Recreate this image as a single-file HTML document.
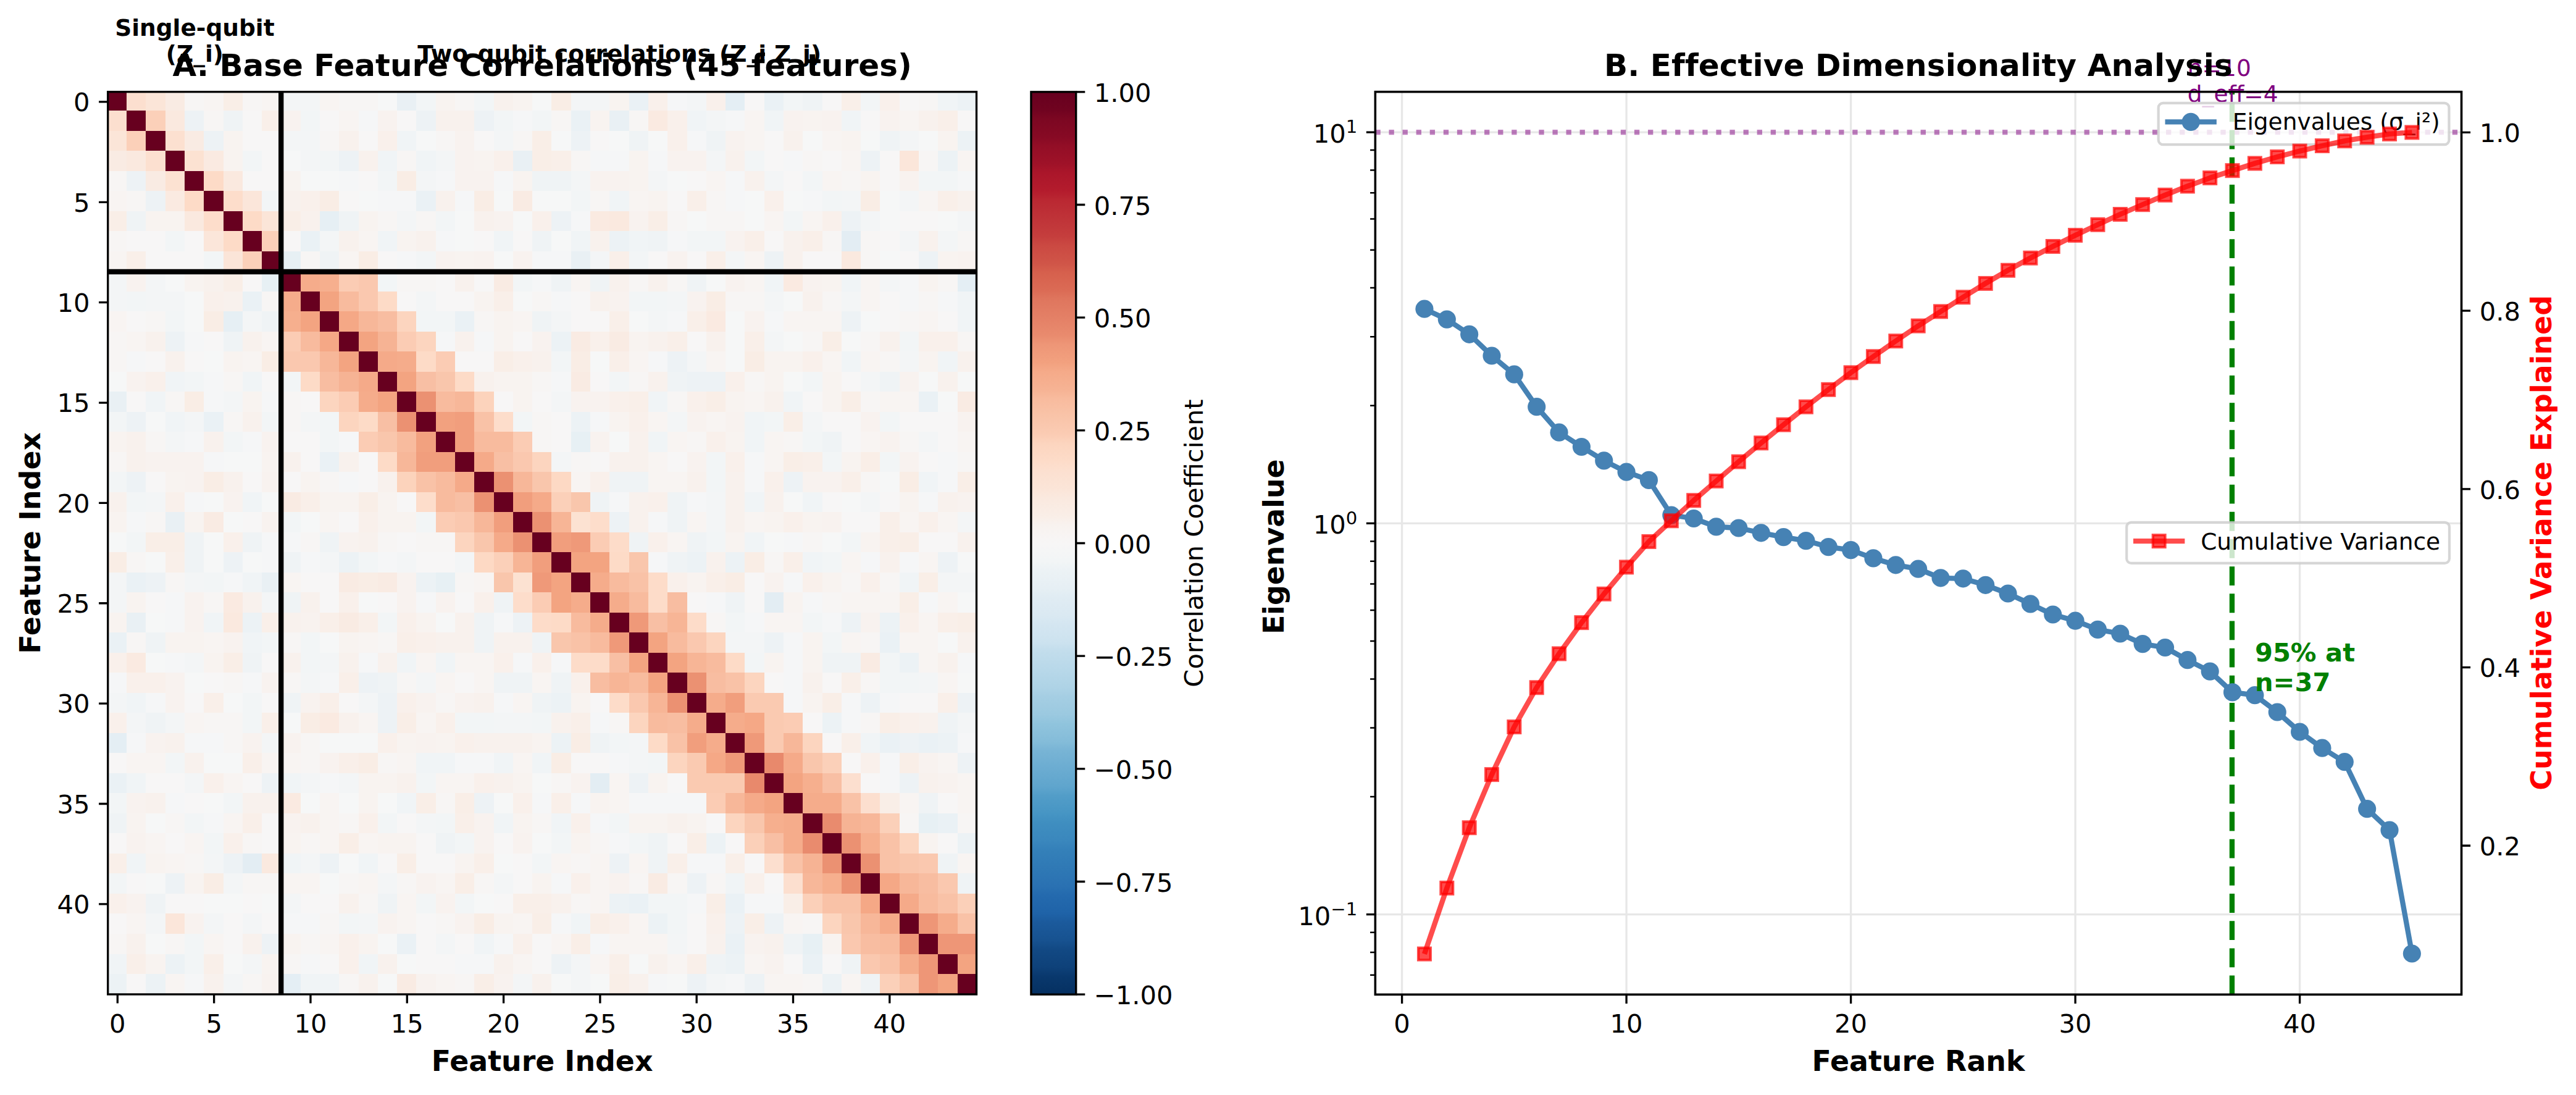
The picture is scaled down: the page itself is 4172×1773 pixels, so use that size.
<!DOCTYPE html>
<html><head><meta charset="utf-8"><title>Feature correlation analysis</title>
<style>html,body{margin:0;padding:0;background:#fff}svg{display:block}</style></head>
<body>
<svg width="4172" height="1773" viewBox="0 0 4172 1773" font-family='"DejaVu Sans", "Liberation Sans", sans-serif'>
<rect width="4172" height="1773" fill="#fff"/>
<clipPath id="hc"><rect x="174.7" y="148.7" width="1406.8" height="1461.3"/></clipPath>
<g shape-rendering="crispEdges" clip-path="url(#hc)">
<rect x="173.9" y="146.9" width="31.89" height="33.1" fill="#67001f"/>
<rect x="205.19" y="146.9" width="31.89" height="33.1" fill="#fcdfcf"/>
<rect x="236.47" y="146.9" width="31.89" height="33.1" fill="#fbe5d8"/>
<rect x="267.76" y="146.9" width="31.89" height="33.1" fill="#f9ebe3"/>
<rect x="299.05" y="146.9" width="31.89" height="33.1" fill="#f7f5f4"/>
<rect x="330.33" y="146.9" width="31.89" height="33.1" fill="#f8f4f2"/>
<rect x="361.62" y="146.9" width="31.89" height="33.1" fill="#f9eee7"/>
<rect x="392.91" y="146.9" width="31.89" height="33.1" fill="#f7f5f4"/>
<rect x="424.19" y="146.9" width="31.89" height="33.1" fill="#f8f4f2"/>
<rect x="455.48" y="146.9" width="63.17" height="33.1" fill="#f3f5f6"/>
<rect x="518.05" y="146.9" width="31.89" height="33.1" fill="#f8f4f2"/>
<rect x="549.34" y="146.9" width="63.17" height="33.1" fill="#f7f5f4"/>
<rect x="611.91" y="146.9" width="31.89" height="33.1" fill="#f6f7f7"/>
<rect x="643.2" y="146.9" width="31.89" height="33.1" fill="#e9f0f4"/>
<rect x="674.49" y="146.9" width="31.89" height="33.1" fill="#f2f5f6"/>
<rect x="705.77" y="146.9" width="31.89" height="33.1" fill="#f8f3f0"/>
<rect x="737.06" y="146.9" width="31.89" height="33.1" fill="#f7f5f4"/>
<rect x="768.35" y="146.9" width="31.89" height="33.1" fill="#f2f5f6"/>
<rect x="799.63" y="146.9" width="31.89" height="33.1" fill="#f8f1ed"/>
<rect x="830.92" y="146.9" width="31.89" height="33.1" fill="#f8f3f0"/>
<rect x="862.21" y="146.9" width="31.89" height="33.1" fill="#f6f7f7"/>
<rect x="893.49" y="146.9" width="31.89" height="33.1" fill="#f9ede5"/>
<rect x="924.78" y="146.9" width="63.17" height="33.1" fill="#f3f5f6"/>
<rect x="987.35" y="146.9" width="31.89" height="33.1" fill="#f8f3f0"/>
<rect x="1018.64" y="146.9" width="31.89" height="33.1" fill="#eaf1f5"/>
<rect x="1049.93" y="146.9" width="31.89" height="33.1" fill="#f9f0eb"/>
<rect x="1081.21" y="146.9" width="31.89" height="33.1" fill="#f5f6f7"/>
<rect x="1112.5" y="146.9" width="31.89" height="33.1" fill="#f3f5f6"/>
<rect x="1143.79" y="146.9" width="31.89" height="33.1" fill="#f9f0eb"/>
<rect x="1175.07" y="146.9" width="31.89" height="33.1" fill="#e4eef4"/>
<rect x="1206.36" y="146.9" width="31.89" height="33.1" fill="#f7f6f6"/>
<rect x="1237.65" y="146.9" width="31.89" height="33.1" fill="#eaf1f5"/>
<rect x="1268.93" y="146.9" width="31.89" height="33.1" fill="#f2f5f6"/>
<rect x="1300.22" y="146.9" width="31.89" height="33.1" fill="#eff3f5"/>
<rect x="1331.51" y="146.9" width="31.89" height="33.1" fill="#f7f6f6"/>
<rect x="1362.79" y="146.9" width="31.89" height="33.1" fill="#f9efe9"/>
<rect x="1394.08" y="146.9" width="31.89" height="33.1" fill="#f2f5f6"/>
<rect x="1425.37" y="146.9" width="31.89" height="33.1" fill="#f9f0eb"/>
<rect x="1456.65" y="146.9" width="31.89" height="33.1" fill="#f7f6f6"/>
<rect x="1487.94" y="146.9" width="31.89" height="33.1" fill="#f7f5f4"/>
<rect x="1519.23" y="146.9" width="31.89" height="33.1" fill="#f0f4f6"/>
<rect x="1550.51" y="146.9" width="31.89" height="33.1" fill="#ecf2f5"/>
<rect x="173.9" y="179.4" width="31.89" height="33.1" fill="#fcdfcf"/>
<rect x="205.19" y="179.4" width="31.89" height="33.1" fill="#67001f"/>
<rect x="236.47" y="179.4" width="31.89" height="33.1" fill="#fbd0b9"/>
<rect x="267.76" y="179.4" width="31.89" height="33.1" fill="#fae9df"/>
<rect x="299.05" y="179.4" width="31.89" height="33.1" fill="#edf2f5"/>
<rect x="330.33" y="179.4" width="31.89" height="33.1" fill="#f7f5f4"/>
<rect x="361.62" y="179.4" width="31.89" height="33.1" fill="#eff3f5"/>
<rect x="392.91" y="179.4" width="31.89" height="33.1" fill="#f7f6f6"/>
<rect x="424.19" y="179.4" width="31.89" height="33.1" fill="#f9efe9"/>
<rect x="455.48" y="179.4" width="31.89" height="33.1" fill="#f8f2ef"/>
<rect x="486.77" y="179.4" width="31.89" height="33.1" fill="#f2f5f6"/>
<rect x="518.05" y="179.4" width="31.89" height="33.1" fill="#f7f6f6"/>
<rect x="549.34" y="179.4" width="31.89" height="33.1" fill="#f8f4f2"/>
<rect x="580.63" y="179.4" width="31.89" height="33.1" fill="#f5f6f7"/>
<rect x="611.91" y="179.4" width="31.89" height="33.1" fill="#f8f2ef"/>
<rect x="643.2" y="179.4" width="31.89" height="33.1" fill="#f7f6f6"/>
<rect x="674.49" y="179.4" width="31.89" height="33.1" fill="#edf2f5"/>
<rect x="705.77" y="179.4" width="63.17" height="33.1" fill="#f8f1ed"/>
<rect x="768.35" y="179.4" width="31.89" height="33.1" fill="#edf2f5"/>
<rect x="799.63" y="179.4" width="31.89" height="33.1" fill="#f2f5f6"/>
<rect x="830.92" y="179.4" width="31.89" height="33.1" fill="#f5f6f7"/>
<rect x="862.21" y="179.4" width="31.89" height="33.1" fill="#f2f5f6"/>
<rect x="893.49" y="179.4" width="31.89" height="33.1" fill="#f7f5f4"/>
<rect x="924.78" y="179.4" width="31.89" height="33.1" fill="#eaf1f5"/>
<rect x="956.07" y="179.4" width="31.89" height="33.1" fill="#f8f3f0"/>
<rect x="987.35" y="179.4" width="31.89" height="33.1" fill="#e9f0f4"/>
<rect x="1018.64" y="179.4" width="31.89" height="33.1" fill="#f7f5f4"/>
<rect x="1049.93" y="179.4" width="31.89" height="33.1" fill="#faeae1"/>
<rect x="1081.21" y="179.4" width="31.89" height="33.1" fill="#f9f0eb"/>
<rect x="1112.5" y="179.4" width="31.89" height="33.1" fill="#f0f4f6"/>
<rect x="1143.79" y="179.4" width="31.89" height="33.1" fill="#f3f5f6"/>
<rect x="1175.07" y="179.4" width="31.89" height="33.1" fill="#f5f6f7"/>
<rect x="1206.36" y="179.4" width="31.89" height="33.1" fill="#f8f4f2"/>
<rect x="1237.65" y="179.4" width="31.89" height="33.1" fill="#f0f4f6"/>
<rect x="1268.93" y="179.4" width="31.89" height="33.1" fill="#f8f2ef"/>
<rect x="1300.22" y="179.4" width="31.89" height="33.1" fill="#f8f3f0"/>
<rect x="1331.51" y="179.4" width="31.89" height="33.1" fill="#f8f2ef"/>
<rect x="1362.79" y="179.4" width="31.89" height="33.1" fill="#f0f4f6"/>
<rect x="1394.08" y="179.4" width="31.89" height="33.1" fill="#f7f6f6"/>
<rect x="1425.37" y="179.4" width="31.89" height="33.1" fill="#f8f2ef"/>
<rect x="1456.65" y="179.4" width="31.89" height="33.1" fill="#f8f4f2"/>
<rect x="1487.94" y="179.4" width="31.89" height="33.1" fill="#f8f1ed"/>
<rect x="1519.23" y="179.4" width="31.89" height="33.1" fill="#f9efe9"/>
<rect x="1550.51" y="179.4" width="31.89" height="33.1" fill="#f7f6f6"/>
<rect x="173.9" y="211.9" width="31.89" height="33.1" fill="#fbe5d8"/>
<rect x="205.19" y="211.9" width="31.89" height="33.1" fill="#fbd0b9"/>
<rect x="236.47" y="211.9" width="31.89" height="33.1" fill="#67001f"/>
<rect x="267.76" y="211.9" width="31.89" height="33.1" fill="#fce0d0"/>
<rect x="299.05" y="211.9" width="31.89" height="33.1" fill="#f9ebe3"/>
<rect x="330.33" y="211.9" width="31.89" height="33.1" fill="#edf2f5"/>
<rect x="361.62" y="211.9" width="31.89" height="33.1" fill="#f8f3f0"/>
<rect x="392.91" y="211.9" width="63.17" height="33.1" fill="#f7f6f6"/>
<rect x="455.48" y="211.9" width="63.17" height="33.1" fill="#f3f5f6"/>
<rect x="518.05" y="211.9" width="31.89" height="33.1" fill="#f7f5f4"/>
<rect x="549.34" y="211.9" width="31.89" height="33.1" fill="#f8f1ed"/>
<rect x="580.63" y="211.9" width="31.89" height="33.1" fill="#f7f6f6"/>
<rect x="611.91" y="211.9" width="31.89" height="33.1" fill="#f9f0eb"/>
<rect x="643.2" y="211.9" width="31.89" height="33.1" fill="#f0f4f6"/>
<rect x="674.49" y="211.9" width="31.89" height="33.1" fill="#f6f7f7"/>
<rect x="705.77" y="211.9" width="31.89" height="33.1" fill="#f7f5f4"/>
<rect x="737.06" y="211.9" width="31.89" height="33.1" fill="#f8f2ef"/>
<rect x="768.35" y="211.9" width="31.89" height="33.1" fill="#f7f6f6"/>
<rect x="799.63" y="211.9" width="31.89" height="33.1" fill="#f3f5f6"/>
<rect x="830.92" y="211.9" width="31.89" height="33.1" fill="#f7f5f4"/>
<rect x="862.21" y="211.9" width="31.89" height="33.1" fill="#f9eee7"/>
<rect x="893.49" y="211.9" width="31.89" height="33.1" fill="#f6f7f7"/>
<rect x="924.78" y="211.9" width="31.89" height="33.1" fill="#edf2f5"/>
<rect x="956.07" y="211.9" width="31.89" height="33.1" fill="#f7f6f6"/>
<rect x="987.35" y="211.9" width="31.89" height="33.1" fill="#f6f7f7"/>
<rect x="1018.64" y="211.9" width="31.89" height="33.1" fill="#eff3f5"/>
<rect x="1049.93" y="211.9" width="31.89" height="33.1" fill="#f6f7f7"/>
<rect x="1081.21" y="211.9" width="31.89" height="33.1" fill="#f9f0eb"/>
<rect x="1112.5" y="211.9" width="31.89" height="33.1" fill="#f5f6f7"/>
<rect x="1143.79" y="211.9" width="31.89" height="33.1" fill="#eff3f5"/>
<rect x="1175.07" y="211.9" width="31.89" height="33.1" fill="#f8f2ef"/>
<rect x="1206.36" y="211.9" width="31.89" height="33.1" fill="#f8f4f2"/>
<rect x="1237.65" y="211.9" width="31.89" height="33.1" fill="#f7f6f6"/>
<rect x="1268.93" y="211.9" width="31.89" height="33.1" fill="#f8f1ed"/>
<rect x="1300.22" y="211.9" width="31.89" height="33.1" fill="#f6f7f7"/>
<rect x="1331.51" y="211.9" width="31.89" height="33.1" fill="#f8f4f2"/>
<rect x="1362.79" y="211.9" width="31.89" height="33.1" fill="#f8f3f0"/>
<rect x="1394.08" y="211.9" width="31.89" height="33.1" fill="#f6f7f7"/>
<rect x="1425.37" y="211.9" width="31.89" height="33.1" fill="#eff3f5"/>
<rect x="1456.65" y="211.9" width="31.89" height="33.1" fill="#f3f5f6"/>
<rect x="1487.94" y="211.9" width="31.89" height="33.1" fill="#f6f7f7"/>
<rect x="1519.23" y="211.9" width="31.89" height="33.1" fill="#f8f3f0"/>
<rect x="1550.51" y="211.9" width="31.89" height="33.1" fill="#ecf2f5"/>
<rect x="173.9" y="244.41" width="31.89" height="33.1" fill="#f9ebe3"/>
<rect x="205.19" y="244.41" width="31.89" height="33.1" fill="#fae9df"/>
<rect x="236.47" y="244.41" width="31.89" height="33.1" fill="#fce0d0"/>
<rect x="267.76" y="244.41" width="31.89" height="33.1" fill="#67001f"/>
<rect x="299.05" y="244.41" width="31.89" height="33.1" fill="#fce2d2"/>
<rect x="330.33" y="244.41" width="31.89" height="33.1" fill="#faeae1"/>
<rect x="361.62" y="244.41" width="31.89" height="33.1" fill="#f8f3f0"/>
<rect x="392.91" y="244.41" width="31.89" height="33.1" fill="#f2f5f6"/>
<rect x="424.19" y="244.41" width="31.89" height="33.1" fill="#f7f6f6"/>
<rect x="455.48" y="244.41" width="31.89" height="33.1" fill="#f6f7f7"/>
<rect x="486.77" y="244.41" width="31.89" height="33.1" fill="#f3f5f6"/>
<rect x="518.05" y="244.41" width="31.89" height="33.1" fill="#f2f5f6"/>
<rect x="549.34" y="244.41" width="31.89" height="33.1" fill="#edf2f5"/>
<rect x="580.63" y="244.41" width="31.89" height="33.1" fill="#f8f1ed"/>
<rect x="611.91" y="244.41" width="31.89" height="33.1" fill="#f0f4f6"/>
<rect x="643.2" y="244.41" width="31.89" height="33.1" fill="#f7f5f4"/>
<rect x="674.49" y="244.41" width="31.89" height="33.1" fill="#f0f4f6"/>
<rect x="705.77" y="244.41" width="31.89" height="33.1" fill="#f3f5f6"/>
<rect x="737.06" y="244.41" width="31.89" height="33.1" fill="#f8f2ef"/>
<rect x="768.35" y="244.41" width="31.89" height="33.1" fill="#f8f3f0"/>
<rect x="799.63" y="244.41" width="31.89" height="33.1" fill="#f9f0eb"/>
<rect x="830.92" y="244.41" width="31.89" height="33.1" fill="#e9f0f4"/>
<rect x="862.21" y="244.41" width="31.89" height="33.1" fill="#f9eee7"/>
<rect x="893.49" y="244.41" width="31.89" height="33.1" fill="#f9efe9"/>
<rect x="924.78" y="244.41" width="31.89" height="33.1" fill="#f7f5f4"/>
<rect x="956.07" y="244.41" width="63.17" height="33.1" fill="#f5f6f7"/>
<rect x="1018.64" y="244.41" width="31.89" height="33.1" fill="#f8f3f0"/>
<rect x="1049.93" y="244.41" width="31.89" height="33.1" fill="#f5f6f7"/>
<rect x="1081.21" y="244.41" width="63.17" height="33.1" fill="#f8f2ef"/>
<rect x="1143.79" y="244.41" width="31.89" height="33.1" fill="#f3f5f6"/>
<rect x="1175.07" y="244.41" width="31.89" height="33.1" fill="#f8f1ed"/>
<rect x="1206.36" y="244.41" width="31.89" height="33.1" fill="#f2f5f6"/>
<rect x="1237.65" y="244.41" width="31.89" height="33.1" fill="#f7f6f6"/>
<rect x="1268.93" y="244.41" width="31.89" height="33.1" fill="#f5f6f7"/>
<rect x="1300.22" y="244.41" width="31.89" height="33.1" fill="#f7f5f4"/>
<rect x="1331.51" y="244.41" width="31.89" height="33.1" fill="#f7f6f6"/>
<rect x="1362.79" y="244.41" width="31.89" height="33.1" fill="#f8f4f2"/>
<rect x="1394.08" y="244.41" width="31.89" height="33.1" fill="#edf2f5"/>
<rect x="1425.37" y="244.41" width="31.89" height="33.1" fill="#f7f6f6"/>
<rect x="1456.65" y="244.41" width="31.89" height="33.1" fill="#fbe6da"/>
<rect x="1487.94" y="244.41" width="31.89" height="33.1" fill="#f7f5f4"/>
<rect x="1519.23" y="244.41" width="31.89" height="33.1" fill="#ecf2f5"/>
<rect x="1550.51" y="244.41" width="31.89" height="33.1" fill="#f8f4f2"/>
<rect x="173.9" y="276.91" width="31.89" height="33.1" fill="#f7f5f4"/>
<rect x="205.19" y="276.91" width="31.89" height="33.1" fill="#edf2f5"/>
<rect x="236.47" y="276.91" width="31.89" height="33.1" fill="#f9ebe3"/>
<rect x="267.76" y="276.91" width="31.89" height="33.1" fill="#fce2d2"/>
<rect x="299.05" y="276.91" width="31.89" height="33.1" fill="#67001f"/>
<rect x="330.33" y="276.91" width="31.89" height="33.1" fill="#fddbc7"/>
<rect x="361.62" y="276.91" width="31.89" height="33.1" fill="#fae9df"/>
<rect x="392.91" y="276.91" width="63.17" height="33.1" fill="#f7f6f6"/>
<rect x="455.48" y="276.91" width="31.89" height="33.1" fill="#f8f3f0"/>
<rect x="486.77" y="276.91" width="63.17" height="33.1" fill="#f6f7f7"/>
<rect x="549.34" y="276.91" width="31.89" height="33.1" fill="#f5f6f7"/>
<rect x="580.63" y="276.91" width="31.89" height="33.1" fill="#f7f6f6"/>
<rect x="611.91" y="276.91" width="31.89" height="33.1" fill="#f2f5f6"/>
<rect x="643.2" y="276.91" width="31.89" height="33.1" fill="#f9ede5"/>
<rect x="674.49" y="276.91" width="31.89" height="33.1" fill="#f3f5f6"/>
<rect x="705.77" y="276.91" width="31.89" height="33.1" fill="#f5f6f7"/>
<rect x="737.06" y="276.91" width="63.17" height="33.1" fill="#f8f2ef"/>
<rect x="799.63" y="276.91" width="31.89" height="33.1" fill="#f5f6f7"/>
<rect x="830.92" y="276.91" width="31.89" height="33.1" fill="#f8f3f0"/>
<rect x="862.21" y="276.91" width="63.17" height="33.1" fill="#eff3f5"/>
<rect x="924.78" y="276.91" width="31.89" height="33.1" fill="#f3f5f6"/>
<rect x="956.07" y="276.91" width="63.17" height="33.1" fill="#f8f2ef"/>
<rect x="1018.64" y="276.91" width="31.89" height="33.1" fill="#f8f3f0"/>
<rect x="1049.93" y="276.91" width="31.89" height="33.1" fill="#f3f5f6"/>
<rect x="1081.21" y="276.91" width="31.89" height="33.1" fill="#f6f7f7"/>
<rect x="1112.5" y="276.91" width="31.89" height="33.1" fill="#f7f6f6"/>
<rect x="1143.79" y="276.91" width="31.89" height="33.1" fill="#f8f4f2"/>
<rect x="1175.07" y="276.91" width="31.89" height="33.1" fill="#f5f6f7"/>
<rect x="1206.36" y="276.91" width="31.89" height="33.1" fill="#f8f1ed"/>
<rect x="1237.65" y="276.91" width="31.89" height="33.1" fill="#f3f5f6"/>
<rect x="1268.93" y="276.91" width="31.89" height="33.1" fill="#f7f6f6"/>
<rect x="1300.22" y="276.91" width="31.89" height="33.1" fill="#f2f5f6"/>
<rect x="1331.51" y="276.91" width="31.89" height="33.1" fill="#f8f4f2"/>
<rect x="1362.79" y="276.91" width="31.89" height="33.1" fill="#f7f5f4"/>
<rect x="1394.08" y="276.91" width="31.89" height="33.1" fill="#f8f3f0"/>
<rect x="1425.37" y="276.91" width="31.89" height="33.1" fill="#f7f6f6"/>
<rect x="1456.65" y="276.91" width="31.89" height="33.1" fill="#f8f2ef"/>
<rect x="1487.94" y="276.91" width="63.17" height="33.1" fill="#f2f5f6"/>
<rect x="1550.51" y="276.91" width="31.89" height="33.1" fill="#f5f6f7"/>
<rect x="173.9" y="309.41" width="31.89" height="33.1" fill="#f8f4f2"/>
<rect x="205.19" y="309.41" width="31.89" height="33.1" fill="#f7f5f4"/>
<rect x="236.47" y="309.41" width="31.89" height="33.1" fill="#edf2f5"/>
<rect x="267.76" y="309.41" width="31.89" height="33.1" fill="#faeae1"/>
<rect x="299.05" y="309.41" width="31.89" height="33.1" fill="#fddbc7"/>
<rect x="330.33" y="309.41" width="31.89" height="33.1" fill="#67001f"/>
<rect x="361.62" y="309.41" width="31.89" height="33.1" fill="#fdddcb"/>
<rect x="392.91" y="309.41" width="31.89" height="33.1" fill="#fbe6da"/>
<rect x="424.19" y="309.41" width="31.89" height="33.1" fill="#f2f5f6"/>
<rect x="455.48" y="309.41" width="31.89" height="33.1" fill="#f8f1ed"/>
<rect x="486.77" y="309.41" width="31.89" height="33.1" fill="#f9f0eb"/>
<rect x="518.05" y="309.41" width="31.89" height="33.1" fill="#f9ede5"/>
<rect x="549.34" y="309.41" width="31.89" height="33.1" fill="#f7f6f6"/>
<rect x="580.63" y="309.41" width="31.89" height="33.1" fill="#f6f7f7"/>
<rect x="611.91" y="309.41" width="63.17" height="33.1" fill="#f5f6f7"/>
<rect x="674.49" y="309.41" width="31.89" height="33.1" fill="#eaf1f5"/>
<rect x="705.77" y="309.41" width="31.89" height="33.1" fill="#f8f1ed"/>
<rect x="737.06" y="309.41" width="31.89" height="33.1" fill="#f5f6f7"/>
<rect x="768.35" y="309.41" width="31.89" height="33.1" fill="#f9ede5"/>
<rect x="799.63" y="309.41" width="31.89" height="33.1" fill="#f6f7f7"/>
<rect x="830.92" y="309.41" width="31.89" height="33.1" fill="#f9ebe3"/>
<rect x="862.21" y="309.41" width="63.17" height="33.1" fill="#f6f7f7"/>
<rect x="924.78" y="309.41" width="31.89" height="33.1" fill="#f2f5f6"/>
<rect x="956.07" y="309.41" width="31.89" height="33.1" fill="#f7f5f4"/>
<rect x="987.35" y="309.41" width="31.89" height="33.1" fill="#f0f4f6"/>
<rect x="1018.64" y="309.41" width="31.89" height="33.1" fill="#f8f4f2"/>
<rect x="1049.93" y="309.41" width="31.89" height="33.1" fill="#f8f3f0"/>
<rect x="1081.21" y="309.41" width="31.89" height="33.1" fill="#f7f6f6"/>
<rect x="1112.5" y="309.41" width="31.89" height="33.1" fill="#f9efe9"/>
<rect x="1143.79" y="309.41" width="31.89" height="33.1" fill="#f7f5f4"/>
<rect x="1175.07" y="309.41" width="31.89" height="33.1" fill="#f5f6f7"/>
<rect x="1206.36" y="309.41" width="31.89" height="33.1" fill="#f6f7f7"/>
<rect x="1237.65" y="309.41" width="31.89" height="33.1" fill="#f9f0eb"/>
<rect x="1268.93" y="309.41" width="31.89" height="33.1" fill="#f6f7f7"/>
<rect x="1300.22" y="309.41" width="31.89" height="33.1" fill="#f5f6f7"/>
<rect x="1331.51" y="309.41" width="31.89" height="33.1" fill="#f2f5f6"/>
<rect x="1362.79" y="309.41" width="31.89" height="33.1" fill="#f3f5f6"/>
<rect x="1394.08" y="309.41" width="31.89" height="33.1" fill="#f9ede5"/>
<rect x="1425.37" y="309.41" width="31.89" height="33.1" fill="#f6f7f7"/>
<rect x="1456.65" y="309.41" width="31.89" height="33.1" fill="#f3f5f6"/>
<rect x="1487.94" y="309.41" width="31.89" height="33.1" fill="#f8f4f2"/>
<rect x="1519.23" y="309.41" width="31.89" height="33.1" fill="#f9efe9"/>
<rect x="1550.51" y="309.41" width="31.89" height="33.1" fill="#f8f1ed"/>
<rect x="173.9" y="341.91" width="31.89" height="33.1" fill="#f9eee7"/>
<rect x="205.19" y="341.91" width="31.89" height="33.1" fill="#eff3f5"/>
<rect x="236.47" y="341.91" width="63.17" height="33.1" fill="#f8f3f0"/>
<rect x="299.05" y="341.91" width="31.89" height="33.1" fill="#fae9df"/>
<rect x="330.33" y="341.91" width="31.89" height="33.1" fill="#fdddcb"/>
<rect x="361.62" y="341.91" width="31.89" height="33.1" fill="#67001f"/>
<rect x="392.91" y="341.91" width="31.89" height="33.1" fill="#fddbc7"/>
<rect x="424.19" y="341.91" width="31.89" height="33.1" fill="#fbe5d8"/>
<rect x="455.48" y="341.91" width="31.89" height="33.1" fill="#f9eee7"/>
<rect x="486.77" y="341.91" width="31.89" height="33.1" fill="#f8f1ed"/>
<rect x="518.05" y="341.91" width="31.89" height="33.1" fill="#e6eff4"/>
<rect x="549.34" y="341.91" width="31.89" height="33.1" fill="#eff3f5"/>
<rect x="580.63" y="341.91" width="31.89" height="33.1" fill="#f8f3f0"/>
<rect x="611.91" y="341.91" width="31.89" height="33.1" fill="#f7f5f4"/>
<rect x="643.2" y="341.91" width="31.89" height="33.1" fill="#f3f5f6"/>
<rect x="674.49" y="341.91" width="31.89" height="33.1" fill="#f7f5f4"/>
<rect x="705.77" y="341.91" width="31.89" height="33.1" fill="#f2f5f6"/>
<rect x="737.06" y="341.91" width="31.89" height="33.1" fill="#f6f7f7"/>
<rect x="768.35" y="341.91" width="31.89" height="33.1" fill="#f8f1ed"/>
<rect x="799.63" y="341.91" width="31.89" height="33.1" fill="#f8f2ef"/>
<rect x="830.92" y="341.91" width="31.89" height="33.1" fill="#f6f7f7"/>
<rect x="862.21" y="341.91" width="31.89" height="33.1" fill="#f9f0eb"/>
<rect x="893.49" y="341.91" width="31.89" height="33.1" fill="#edf2f5"/>
<rect x="924.78" y="341.91" width="31.89" height="33.1" fill="#f5f6f7"/>
<rect x="956.07" y="341.91" width="31.89" height="33.1" fill="#faeae1"/>
<rect x="987.35" y="341.91" width="31.89" height="33.1" fill="#fae9df"/>
<rect x="1018.64" y="341.91" width="31.89" height="33.1" fill="#f8f2ef"/>
<rect x="1049.93" y="341.91" width="31.89" height="33.1" fill="#f9eee7"/>
<rect x="1081.21" y="341.91" width="31.89" height="33.1" fill="#f7f5f4"/>
<rect x="1112.5" y="341.91" width="31.89" height="33.1" fill="#f6f7f7"/>
<rect x="1143.79" y="341.91" width="63.17" height="33.1" fill="#f7f5f4"/>
<rect x="1206.36" y="341.91" width="31.89" height="33.1" fill="#f6f7f7"/>
<rect x="1237.65" y="341.91" width="31.89" height="33.1" fill="#f8f4f2"/>
<rect x="1268.93" y="341.91" width="31.89" height="33.1" fill="#f2f5f6"/>
<rect x="1300.22" y="341.91" width="31.89" height="33.1" fill="#f8f4f2"/>
<rect x="1331.51" y="341.91" width="31.89" height="33.1" fill="#f9f0eb"/>
<rect x="1362.79" y="341.91" width="31.89" height="33.1" fill="#edf2f5"/>
<rect x="1394.08" y="341.91" width="31.89" height="33.1" fill="#f3f5f6"/>
<rect x="1425.37" y="341.91" width="31.89" height="33.1" fill="#f6f7f7"/>
<rect x="1456.65" y="341.91" width="63.17" height="33.1" fill="#f7f6f6"/>
<rect x="1519.23" y="341.91" width="31.89" height="33.1" fill="#f6f7f7"/>
<rect x="1550.51" y="341.91" width="31.89" height="33.1" fill="#f3f5f6"/>
<rect x="173.9" y="374.42" width="31.89" height="33.1" fill="#f7f5f4"/>
<rect x="205.19" y="374.42" width="63.17" height="33.1" fill="#f7f6f6"/>
<rect x="267.76" y="374.42" width="31.89" height="33.1" fill="#f2f5f6"/>
<rect x="299.05" y="374.42" width="31.89" height="33.1" fill="#f7f6f6"/>
<rect x="330.33" y="374.42" width="31.89" height="33.1" fill="#fbe6da"/>
<rect x="361.62" y="374.42" width="31.89" height="33.1" fill="#fddbc7"/>
<rect x="392.91" y="374.42" width="31.89" height="33.1" fill="#67001f"/>
<rect x="424.19" y="374.42" width="31.89" height="33.1" fill="#fbd0b9"/>
<rect x="455.48" y="374.42" width="31.89" height="33.1" fill="#f7f6f6"/>
<rect x="486.77" y="374.42" width="31.89" height="33.1" fill="#eaf1f5"/>
<rect x="518.05" y="374.42" width="31.89" height="33.1" fill="#f3f5f6"/>
<rect x="549.34" y="374.42" width="31.89" height="33.1" fill="#f8f1ed"/>
<rect x="580.63" y="374.42" width="31.89" height="33.1" fill="#f8f4f2"/>
<rect x="611.91" y="374.42" width="31.89" height="33.1" fill="#f0f4f6"/>
<rect x="643.2" y="374.42" width="31.89" height="33.1" fill="#f8f3f0"/>
<rect x="674.49" y="374.42" width="31.89" height="33.1" fill="#f8f1ed"/>
<rect x="705.77" y="374.42" width="31.89" height="33.1" fill="#f5f6f7"/>
<rect x="737.06" y="374.42" width="31.89" height="33.1" fill="#f6f7f7"/>
<rect x="768.35" y="374.42" width="31.89" height="33.1" fill="#f7f6f6"/>
<rect x="799.63" y="374.42" width="31.89" height="33.1" fill="#f0f4f6"/>
<rect x="830.92" y="374.42" width="31.89" height="33.1" fill="#f7f6f6"/>
<rect x="862.21" y="374.42" width="31.89" height="33.1" fill="#eff3f5"/>
<rect x="893.49" y="374.42" width="31.89" height="33.1" fill="#f6f7f7"/>
<rect x="924.78" y="374.42" width="31.89" height="33.1" fill="#f0f4f6"/>
<rect x="956.07" y="374.42" width="31.89" height="33.1" fill="#f8f1ed"/>
<rect x="987.35" y="374.42" width="31.89" height="33.1" fill="#ecf2f5"/>
<rect x="1018.64" y="374.42" width="31.89" height="33.1" fill="#f0f4f6"/>
<rect x="1049.93" y="374.42" width="31.89" height="33.1" fill="#eff3f5"/>
<rect x="1081.21" y="374.42" width="31.89" height="33.1" fill="#f5f6f7"/>
<rect x="1112.5" y="374.42" width="63.17" height="33.1" fill="#f2f5f6"/>
<rect x="1175.07" y="374.42" width="31.89" height="33.1" fill="#f8f2ef"/>
<rect x="1206.36" y="374.42" width="31.89" height="33.1" fill="#f9efe9"/>
<rect x="1237.65" y="374.42" width="31.89" height="33.1" fill="#f7f6f6"/>
<rect x="1268.93" y="374.42" width="31.89" height="33.1" fill="#f8f1ed"/>
<rect x="1300.22" y="374.42" width="31.89" height="33.1" fill="#f9efe9"/>
<rect x="1331.51" y="374.42" width="31.89" height="33.1" fill="#f7f5f4"/>
<rect x="1362.79" y="374.42" width="31.89" height="33.1" fill="#e3edf3"/>
<rect x="1394.08" y="374.42" width="31.89" height="33.1" fill="#f7f5f4"/>
<rect x="1425.37" y="374.42" width="31.89" height="33.1" fill="#f7f6f6"/>
<rect x="1456.65" y="374.42" width="31.89" height="33.1" fill="#f3f5f6"/>
<rect x="1487.94" y="374.42" width="31.89" height="33.1" fill="#f8f1ed"/>
<rect x="1519.23" y="374.42" width="31.89" height="33.1" fill="#f3f5f6"/>
<rect x="1550.51" y="374.42" width="31.89" height="33.1" fill="#f7f5f4"/>
<rect x="173.9" y="406.92" width="31.89" height="33.1" fill="#f8f4f2"/>
<rect x="205.19" y="406.92" width="31.89" height="33.1" fill="#f9efe9"/>
<rect x="236.47" y="406.92" width="94.46" height="33.1" fill="#f7f6f6"/>
<rect x="330.33" y="406.92" width="31.89" height="33.1" fill="#f2f5f6"/>
<rect x="361.62" y="406.92" width="31.89" height="33.1" fill="#fbe5d8"/>
<rect x="392.91" y="406.92" width="31.89" height="33.1" fill="#fbd0b9"/>
<rect x="424.19" y="406.92" width="31.89" height="33.1" fill="#67001f"/>
<rect x="455.48" y="406.92" width="31.89" height="33.1" fill="#e7f0f4"/>
<rect x="486.77" y="406.92" width="31.89" height="33.1" fill="#f7f5f4"/>
<rect x="518.05" y="406.92" width="31.89" height="33.1" fill="#eff3f5"/>
<rect x="549.34" y="406.92" width="31.89" height="33.1" fill="#f8f4f2"/>
<rect x="580.63" y="406.92" width="31.89" height="33.1" fill="#f9ede5"/>
<rect x="611.91" y="406.92" width="31.89" height="33.1" fill="#f7f6f6"/>
<rect x="643.2" y="406.92" width="31.89" height="33.1" fill="#f5f6f7"/>
<rect x="674.49" y="406.92" width="31.89" height="33.1" fill="#f2f5f6"/>
<rect x="705.77" y="406.92" width="31.89" height="33.1" fill="#f8f2ef"/>
<rect x="737.06" y="406.92" width="31.89" height="33.1" fill="#f8f3f0"/>
<rect x="768.35" y="406.92" width="31.89" height="33.1" fill="#f8f2ef"/>
<rect x="799.63" y="406.92" width="31.89" height="33.1" fill="#f6f7f7"/>
<rect x="830.92" y="406.92" width="31.89" height="33.1" fill="#f8f2ef"/>
<rect x="862.21" y="406.92" width="63.17" height="33.1" fill="#f5f6f7"/>
<rect x="924.78" y="406.92" width="31.89" height="33.1" fill="#e9f0f4"/>
<rect x="956.07" y="406.92" width="31.89" height="33.1" fill="#f3f5f6"/>
<rect x="987.35" y="406.92" width="31.89" height="33.1" fill="#f9efe9"/>
<rect x="1018.64" y="406.92" width="31.89" height="33.1" fill="#f2f5f6"/>
<rect x="1049.93" y="406.92" width="31.89" height="33.1" fill="#f7f6f6"/>
<rect x="1081.21" y="406.92" width="31.89" height="33.1" fill="#f8f2ef"/>
<rect x="1112.5" y="406.92" width="31.89" height="33.1" fill="#f7f6f6"/>
<rect x="1143.79" y="406.92" width="31.89" height="33.1" fill="#f9efe9"/>
<rect x="1175.07" y="406.92" width="31.89" height="33.1" fill="#f3f5f6"/>
<rect x="1206.36" y="406.92" width="31.89" height="33.1" fill="#f8f4f2"/>
<rect x="1237.65" y="406.92" width="31.89" height="33.1" fill="#edf2f5"/>
<rect x="1268.93" y="406.92" width="31.89" height="33.1" fill="#f8f1ed"/>
<rect x="1300.22" y="406.92" width="63.17" height="33.1" fill="#f7f6f6"/>
<rect x="1362.79" y="406.92" width="31.89" height="33.1" fill="#fae9df"/>
<rect x="1394.08" y="406.92" width="31.89" height="33.1" fill="#f7f5f4"/>
<rect x="1425.37" y="406.92" width="31.89" height="33.1" fill="#f6f7f7"/>
<rect x="1456.65" y="406.92" width="31.89" height="33.1" fill="#f7f6f6"/>
<rect x="1487.94" y="406.92" width="31.89" height="33.1" fill="#edf2f5"/>
<rect x="1519.23" y="406.92" width="31.89" height="33.1" fill="#f8f3f0"/>
<rect x="1550.51" y="406.92" width="31.89" height="33.1" fill="#f8f2ef"/>
<rect x="173.9" y="439.42" width="31.89" height="33.1" fill="#f3f5f6"/>
<rect x="205.19" y="439.42" width="31.89" height="33.1" fill="#f8f2ef"/>
<rect x="236.47" y="439.42" width="31.89" height="33.1" fill="#f3f5f6"/>
<rect x="267.76" y="439.42" width="31.89" height="33.1" fill="#f6f7f7"/>
<rect x="299.05" y="439.42" width="31.89" height="33.1" fill="#f8f3f0"/>
<rect x="330.33" y="439.42" width="31.89" height="33.1" fill="#f8f1ed"/>
<rect x="361.62" y="439.42" width="31.89" height="33.1" fill="#f9eee7"/>
<rect x="392.91" y="439.42" width="31.89" height="33.1" fill="#f7f6f6"/>
<rect x="424.19" y="439.42" width="31.89" height="33.1" fill="#e7f0f4"/>
<rect x="455.48" y="439.42" width="31.89" height="33.1" fill="#67001f"/>
<rect x="486.77" y="439.42" width="31.89" height="33.1" fill="#f5ac8b"/>
<rect x="518.05" y="439.42" width="31.89" height="33.1" fill="#f6af8e"/>
<rect x="549.34" y="439.42" width="31.89" height="33.1" fill="#fbccb4"/>
<rect x="580.63" y="439.42" width="31.89" height="33.1" fill="#fac8af"/>
<rect x="611.91" y="439.42" width="31.89" height="33.1" fill="#f2f5f6"/>
<rect x="643.2" y="439.42" width="63.17" height="33.1" fill="#f7f5f4"/>
<rect x="705.77" y="439.42" width="31.89" height="33.1" fill="#f7f6f6"/>
<rect x="737.06" y="439.42" width="31.89" height="33.1" fill="#f8f1ed"/>
<rect x="768.35" y="439.42" width="31.89" height="33.1" fill="#f7f6f6"/>
<rect x="799.63" y="439.42" width="31.89" height="33.1" fill="#f9ebe3"/>
<rect x="830.92" y="439.42" width="31.89" height="33.1" fill="#f2f5f6"/>
<rect x="862.21" y="439.42" width="31.89" height="33.1" fill="#f5f6f7"/>
<rect x="893.49" y="439.42" width="31.89" height="33.1" fill="#eff3f5"/>
<rect x="924.78" y="439.42" width="31.89" height="33.1" fill="#f8f4f2"/>
<rect x="956.07" y="439.42" width="31.89" height="33.1" fill="#eff3f5"/>
<rect x="987.35" y="439.42" width="31.89" height="33.1" fill="#f8f1ed"/>
<rect x="1018.64" y="439.42" width="31.89" height="33.1" fill="#f7f5f4"/>
<rect x="1049.93" y="439.42" width="31.89" height="33.1" fill="#f8f1ed"/>
<rect x="1081.21" y="439.42" width="31.89" height="33.1" fill="#f7f5f4"/>
<rect x="1112.5" y="439.42" width="31.89" height="33.1" fill="#eff3f5"/>
<rect x="1143.79" y="439.42" width="31.89" height="33.1" fill="#f6f7f7"/>
<rect x="1175.07" y="439.42" width="31.89" height="33.1" fill="#f8f2ef"/>
<rect x="1206.36" y="439.42" width="31.89" height="33.1" fill="#f8f4f2"/>
<rect x="1237.65" y="439.42" width="31.89" height="33.1" fill="#f0f4f6"/>
<rect x="1268.93" y="439.42" width="31.89" height="33.1" fill="#faeae1"/>
<rect x="1300.22" y="439.42" width="31.89" height="33.1" fill="#f8f2ef"/>
<rect x="1331.51" y="439.42" width="31.89" height="33.1" fill="#f8f3f0"/>
<rect x="1362.79" y="439.42" width="31.89" height="33.1" fill="#f0f4f6"/>
<rect x="1394.08" y="439.42" width="31.89" height="33.1" fill="#f8f4f2"/>
<rect x="1425.37" y="439.42" width="31.89" height="33.1" fill="#f3f5f6"/>
<rect x="1456.65" y="439.42" width="31.89" height="33.1" fill="#f5f6f7"/>
<rect x="1487.94" y="439.42" width="31.89" height="33.1" fill="#f8f3f0"/>
<rect x="1519.23" y="439.42" width="31.89" height="33.1" fill="#f7f5f4"/>
<rect x="1550.51" y="439.42" width="31.89" height="33.1" fill="#e4eef4"/>
<rect x="173.9" y="471.92" width="31.89" height="33.1" fill="#f3f5f6"/>
<rect x="205.19" y="471.92" width="31.89" height="33.1" fill="#f2f5f6"/>
<rect x="236.47" y="471.92" width="63.17" height="33.1" fill="#f3f5f6"/>
<rect x="299.05" y="471.92" width="31.89" height="33.1" fill="#f6f7f7"/>
<rect x="330.33" y="471.92" width="31.89" height="33.1" fill="#f9f0eb"/>
<rect x="361.62" y="471.92" width="31.89" height="33.1" fill="#f8f1ed"/>
<rect x="392.91" y="471.92" width="31.89" height="33.1" fill="#eaf1f5"/>
<rect x="424.19" y="471.92" width="31.89" height="33.1" fill="#f7f5f4"/>
<rect x="455.48" y="471.92" width="31.89" height="33.1" fill="#f5ac8b"/>
<rect x="486.77" y="471.92" width="31.89" height="33.1" fill="#67001f"/>
<rect x="518.05" y="471.92" width="31.89" height="33.1" fill="#f3a481"/>
<rect x="549.34" y="471.92" width="31.89" height="33.1" fill="#f8bb9e"/>
<rect x="580.63" y="471.92" width="31.89" height="33.1" fill="#fac8af"/>
<rect x="611.91" y="471.92" width="31.89" height="33.1" fill="#fddbc7"/>
<rect x="643.2" y="471.92" width="31.89" height="33.1" fill="#f7f6f6"/>
<rect x="674.49" y="471.92" width="31.89" height="33.1" fill="#f3f5f6"/>
<rect x="705.77" y="471.92" width="63.17" height="33.1" fill="#f7f6f6"/>
<rect x="768.35" y="471.92" width="31.89" height="33.1" fill="#f8f3f0"/>
<rect x="799.63" y="471.92" width="31.89" height="33.1" fill="#f9efe9"/>
<rect x="830.92" y="471.92" width="31.89" height="33.1" fill="#f6f7f7"/>
<rect x="862.21" y="471.92" width="31.89" height="33.1" fill="#f7f5f4"/>
<rect x="893.49" y="471.92" width="31.89" height="33.1" fill="#f5f6f7"/>
<rect x="924.78" y="471.92" width="31.89" height="33.1" fill="#f7f6f6"/>
<rect x="956.07" y="471.92" width="31.89" height="33.1" fill="#f8f1ed"/>
<rect x="987.35" y="471.92" width="31.89" height="33.1" fill="#f8f2ef"/>
<rect x="1018.64" y="471.92" width="63.17" height="33.1" fill="#f2f5f6"/>
<rect x="1081.21" y="471.92" width="31.89" height="33.1" fill="#f3f5f6"/>
<rect x="1112.5" y="471.92" width="31.89" height="33.1" fill="#f8f2ef"/>
<rect x="1143.79" y="471.92" width="31.89" height="33.1" fill="#f9ede5"/>
<rect x="1175.07" y="471.92" width="63.17" height="33.1" fill="#f7f5f4"/>
<rect x="1237.65" y="471.92" width="31.89" height="33.1" fill="#f3f5f6"/>
<rect x="1268.93" y="471.92" width="31.89" height="33.1" fill="#f6f7f7"/>
<rect x="1300.22" y="471.92" width="31.89" height="33.1" fill="#f8f1ed"/>
<rect x="1331.51" y="471.92" width="31.89" height="33.1" fill="#f7f5f4"/>
<rect x="1362.79" y="471.92" width="31.89" height="33.1" fill="#f3f5f6"/>
<rect x="1394.08" y="471.92" width="31.89" height="33.1" fill="#f8f4f2"/>
<rect x="1425.37" y="471.92" width="31.89" height="33.1" fill="#f7f6f6"/>
<rect x="1456.65" y="471.92" width="31.89" height="33.1" fill="#f5f6f7"/>
<rect x="1487.94" y="471.92" width="31.89" height="33.1" fill="#f7f5f4"/>
<rect x="1519.23" y="471.92" width="31.89" height="33.1" fill="#f5f6f7"/>
<rect x="1550.51" y="471.92" width="31.89" height="33.1" fill="#f0f4f6"/>
<rect x="173.9" y="504.42" width="31.89" height="33.1" fill="#f8f4f2"/>
<rect x="205.19" y="504.42" width="31.89" height="33.1" fill="#f7f6f6"/>
<rect x="236.47" y="504.42" width="31.89" height="33.1" fill="#f7f5f4"/>
<rect x="267.76" y="504.42" width="31.89" height="33.1" fill="#f2f5f6"/>
<rect x="299.05" y="504.42" width="31.89" height="33.1" fill="#f6f7f7"/>
<rect x="330.33" y="504.42" width="31.89" height="33.1" fill="#f9ede5"/>
<rect x="361.62" y="504.42" width="31.89" height="33.1" fill="#e6eff4"/>
<rect x="392.91" y="504.42" width="31.89" height="33.1" fill="#f3f5f6"/>
<rect x="424.19" y="504.42" width="31.89" height="33.1" fill="#eff3f5"/>
<rect x="455.48" y="504.42" width="31.89" height="33.1" fill="#f6af8e"/>
<rect x="486.77" y="504.42" width="31.89" height="33.1" fill="#f3a481"/>
<rect x="518.05" y="504.42" width="31.89" height="33.1" fill="#67001f"/>
<rect x="549.34" y="504.42" width="31.89" height="33.1" fill="#f5a886"/>
<rect x="580.63" y="504.42" width="31.89" height="33.1" fill="#f7b799"/>
<rect x="611.91" y="504.42" width="31.89" height="33.1" fill="#f8bda1"/>
<rect x="643.2" y="504.42" width="31.89" height="33.1" fill="#fcd5bf"/>
<rect x="674.49" y="504.42" width="63.17" height="33.1" fill="#f2f5f6"/>
<rect x="737.06" y="504.42" width="31.89" height="33.1" fill="#eaf1f5"/>
<rect x="768.35" y="504.42" width="31.89" height="33.1" fill="#f7f5f4"/>
<rect x="799.63" y="504.42" width="31.89" height="33.1" fill="#f8f3f0"/>
<rect x="830.92" y="504.42" width="31.89" height="33.1" fill="#f8f4f2"/>
<rect x="862.21" y="504.42" width="31.89" height="33.1" fill="#eff3f5"/>
<rect x="893.49" y="504.42" width="31.89" height="33.1" fill="#f3f5f6"/>
<rect x="924.78" y="504.42" width="63.17" height="33.1" fill="#f7f6f6"/>
<rect x="987.35" y="504.42" width="31.89" height="33.1" fill="#f9efe9"/>
<rect x="1018.64" y="504.42" width="31.89" height="33.1" fill="#f6f7f7"/>
<rect x="1049.93" y="504.42" width="31.89" height="33.1" fill="#f3f5f6"/>
<rect x="1081.21" y="504.42" width="31.89" height="33.1" fill="#f5f6f7"/>
<rect x="1112.5" y="504.42" width="31.89" height="33.1" fill="#f9efe9"/>
<rect x="1143.79" y="504.42" width="31.89" height="33.1" fill="#faeae1"/>
<rect x="1175.07" y="504.42" width="31.89" height="33.1" fill="#f6f7f7"/>
<rect x="1206.36" y="504.42" width="31.89" height="33.1" fill="#f8f2ef"/>
<rect x="1237.65" y="504.42" width="31.89" height="33.1" fill="#f5f6f7"/>
<rect x="1268.93" y="504.42" width="94.46" height="33.1" fill="#f8f4f2"/>
<rect x="1362.79" y="504.42" width="31.89" height="33.1" fill="#edf2f5"/>
<rect x="1394.08" y="504.42" width="31.89" height="33.1" fill="#f6f7f7"/>
<rect x="1425.37" y="504.42" width="31.89" height="33.1" fill="#f7f6f6"/>
<rect x="1456.65" y="504.42" width="31.89" height="33.1" fill="#f7f5f4"/>
<rect x="1487.94" y="504.42" width="31.89" height="33.1" fill="#f8f4f2"/>
<rect x="1519.23" y="504.42" width="31.89" height="33.1" fill="#f7f6f6"/>
<rect x="1550.51" y="504.42" width="31.89" height="33.1" fill="#f0f4f6"/>
<rect x="173.9" y="536.93" width="31.89" height="33.1" fill="#f7f5f4"/>
<rect x="205.19" y="536.93" width="31.89" height="33.1" fill="#f8f4f2"/>
<rect x="236.47" y="536.93" width="31.89" height="33.1" fill="#f8f1ed"/>
<rect x="267.76" y="536.93" width="31.89" height="33.1" fill="#edf2f5"/>
<rect x="299.05" y="536.93" width="31.89" height="33.1" fill="#f5f6f7"/>
<rect x="330.33" y="536.93" width="31.89" height="33.1" fill="#f7f6f6"/>
<rect x="361.62" y="536.93" width="31.89" height="33.1" fill="#eff3f5"/>
<rect x="392.91" y="536.93" width="31.89" height="33.1" fill="#f8f1ed"/>
<rect x="424.19" y="536.93" width="31.89" height="33.1" fill="#f8f4f2"/>
<rect x="455.48" y="536.93" width="31.89" height="33.1" fill="#fbccb4"/>
<rect x="486.77" y="536.93" width="31.89" height="33.1" fill="#f8bb9e"/>
<rect x="518.05" y="536.93" width="31.89" height="33.1" fill="#f5a886"/>
<rect x="549.34" y="536.93" width="31.89" height="33.1" fill="#67001f"/>
<rect x="580.63" y="536.93" width="31.89" height="33.1" fill="#f3a481"/>
<rect x="611.91" y="536.93" width="31.89" height="33.1" fill="#f6b394"/>
<rect x="643.2" y="536.93" width="31.89" height="33.1" fill="#fbccb4"/>
<rect x="674.49" y="536.93" width="31.89" height="33.1" fill="#fcd5bf"/>
<rect x="705.77" y="536.93" width="31.89" height="33.1" fill="#f5f6f7"/>
<rect x="737.06" y="536.93" width="31.89" height="33.1" fill="#f8f1ed"/>
<rect x="768.35" y="536.93" width="31.89" height="33.1" fill="#f5f6f7"/>
<rect x="799.63" y="536.93" width="31.89" height="33.1" fill="#f8f3f0"/>
<rect x="830.92" y="536.93" width="31.89" height="33.1" fill="#f7f6f6"/>
<rect x="862.21" y="536.93" width="31.89" height="33.1" fill="#f8f2ef"/>
<rect x="893.49" y="536.93" width="31.89" height="33.1" fill="#ecf2f5"/>
<rect x="924.78" y="536.93" width="31.89" height="33.1" fill="#f9ebe3"/>
<rect x="956.07" y="536.93" width="31.89" height="33.1" fill="#f9f0eb"/>
<rect x="987.35" y="536.93" width="31.89" height="33.1" fill="#f9ebe3"/>
<rect x="1018.64" y="536.93" width="31.89" height="33.1" fill="#f8f3f0"/>
<rect x="1049.93" y="536.93" width="31.89" height="33.1" fill="#f8f1ed"/>
<rect x="1081.21" y="536.93" width="31.89" height="33.1" fill="#f9efe9"/>
<rect x="1112.5" y="536.93" width="31.89" height="33.1" fill="#f7f6f6"/>
<rect x="1143.79" y="536.93" width="31.89" height="33.1" fill="#f8f1ed"/>
<rect x="1175.07" y="536.93" width="31.89" height="33.1" fill="#f6f7f7"/>
<rect x="1206.36" y="536.93" width="31.89" height="33.1" fill="#f9efe9"/>
<rect x="1237.65" y="536.93" width="31.89" height="33.1" fill="#f3f5f6"/>
<rect x="1268.93" y="536.93" width="31.89" height="33.1" fill="#f6f7f7"/>
<rect x="1300.22" y="536.93" width="31.89" height="33.1" fill="#f7f5f4"/>
<rect x="1331.51" y="536.93" width="31.89" height="33.1" fill="#f9eee7"/>
<rect x="1362.79" y="536.93" width="31.89" height="33.1" fill="#f6f7f7"/>
<rect x="1394.08" y="536.93" width="31.89" height="33.1" fill="#f7f5f4"/>
<rect x="1425.37" y="536.93" width="31.89" height="33.1" fill="#f8f1ed"/>
<rect x="1456.65" y="536.93" width="31.89" height="33.1" fill="#f2f5f6"/>
<rect x="1487.94" y="536.93" width="63.17" height="33.1" fill="#f9f0eb"/>
<rect x="1550.51" y="536.93" width="31.89" height="33.1" fill="#f7f5f4"/>
<rect x="173.9" y="569.43" width="31.89" height="33.1" fill="#f7f5f4"/>
<rect x="205.19" y="569.43" width="31.89" height="33.1" fill="#f5f6f7"/>
<rect x="236.47" y="569.43" width="31.89" height="33.1" fill="#f7f6f6"/>
<rect x="267.76" y="569.43" width="31.89" height="33.1" fill="#f8f1ed"/>
<rect x="299.05" y="569.43" width="31.89" height="33.1" fill="#f7f6f6"/>
<rect x="330.33" y="569.43" width="31.89" height="33.1" fill="#f6f7f7"/>
<rect x="361.62" y="569.43" width="31.89" height="33.1" fill="#f8f3f0"/>
<rect x="392.91" y="569.43" width="31.89" height="33.1" fill="#f8f4f2"/>
<rect x="424.19" y="569.43" width="31.89" height="33.1" fill="#f9ede5"/>
<rect x="455.48" y="569.43" width="63.17" height="33.1" fill="#fac8af"/>
<rect x="518.05" y="569.43" width="31.89" height="33.1" fill="#f7b799"/>
<rect x="549.34" y="569.43" width="31.89" height="33.1" fill="#f3a481"/>
<rect x="580.63" y="569.43" width="31.89" height="33.1" fill="#67001f"/>
<rect x="611.91" y="569.43" width="31.89" height="33.1" fill="#f5aa89"/>
<rect x="643.2" y="569.43" width="31.89" height="33.1" fill="#f5ac8b"/>
<rect x="674.49" y="569.43" width="31.89" height="33.1" fill="#fddbc7"/>
<rect x="705.77" y="569.43" width="31.89" height="33.1" fill="#fbccb4"/>
<rect x="737.06" y="569.43" width="63.17" height="33.1" fill="#f7f6f6"/>
<rect x="799.63" y="569.43" width="31.89" height="33.1" fill="#f9eee7"/>
<rect x="830.92" y="569.43" width="31.89" height="33.1" fill="#f9f0eb"/>
<rect x="862.21" y="569.43" width="31.89" height="33.1" fill="#f8f1ed"/>
<rect x="893.49" y="569.43" width="31.89" height="33.1" fill="#f2f5f6"/>
<rect x="924.78" y="569.43" width="31.89" height="33.1" fill="#f9ede5"/>
<rect x="956.07" y="569.43" width="31.89" height="33.1" fill="#f6f7f7"/>
<rect x="987.35" y="569.43" width="31.89" height="33.1" fill="#f9efe9"/>
<rect x="1018.64" y="569.43" width="31.89" height="33.1" fill="#f8f4f2"/>
<rect x="1049.93" y="569.43" width="31.89" height="33.1" fill="#f5f6f7"/>
<rect x="1081.21" y="569.43" width="31.89" height="33.1" fill="#edf2f5"/>
<rect x="1112.5" y="569.43" width="31.89" height="33.1" fill="#f3f5f6"/>
<rect x="1143.79" y="569.43" width="31.89" height="33.1" fill="#f8f4f2"/>
<rect x="1175.07" y="569.43" width="31.89" height="33.1" fill="#f6f7f7"/>
<rect x="1206.36" y="569.43" width="31.89" height="33.1" fill="#f9ede5"/>
<rect x="1237.65" y="569.43" width="63.17" height="33.1" fill="#f8f3f0"/>
<rect x="1300.22" y="569.43" width="31.89" height="33.1" fill="#f9f0eb"/>
<rect x="1331.51" y="569.43" width="31.89" height="33.1" fill="#f8f4f2"/>
<rect x="1362.79" y="569.43" width="31.89" height="33.1" fill="#f0f4f6"/>
<rect x="1394.08" y="569.43" width="31.89" height="33.1" fill="#f8f4f2"/>
<rect x="1425.37" y="569.43" width="31.89" height="33.1" fill="#f7f5f4"/>
<rect x="1456.65" y="569.43" width="31.89" height="33.1" fill="#f3f5f6"/>
<rect x="1487.94" y="569.43" width="31.89" height="33.1" fill="#f8f3f0"/>
<rect x="1519.23" y="569.43" width="31.89" height="33.1" fill="#f0f4f6"/>
<rect x="1550.51" y="569.43" width="31.89" height="33.1" fill="#f8f1ed"/>
<rect x="173.9" y="601.93" width="31.89" height="33.1" fill="#f6f7f7"/>
<rect x="205.19" y="601.93" width="31.89" height="33.1" fill="#f8f2ef"/>
<rect x="236.47" y="601.93" width="31.89" height="33.1" fill="#f9f0eb"/>
<rect x="267.76" y="601.93" width="31.89" height="33.1" fill="#f0f4f6"/>
<rect x="299.05" y="601.93" width="31.89" height="33.1" fill="#f2f5f6"/>
<rect x="330.33" y="601.93" width="31.89" height="33.1" fill="#f5f6f7"/>
<rect x="361.62" y="601.93" width="31.89" height="33.1" fill="#f7f5f4"/>
<rect x="392.91" y="601.93" width="31.89" height="33.1" fill="#f0f4f6"/>
<rect x="424.19" y="601.93" width="31.89" height="33.1" fill="#f7f6f6"/>
<rect x="455.48" y="601.93" width="31.89" height="33.1" fill="#f2f5f6"/>
<rect x="486.77" y="601.93" width="31.89" height="33.1" fill="#fddbc7"/>
<rect x="518.05" y="601.93" width="31.89" height="33.1" fill="#f8bda1"/>
<rect x="549.34" y="601.93" width="31.89" height="33.1" fill="#f6b394"/>
<rect x="580.63" y="601.93" width="31.89" height="33.1" fill="#f5aa89"/>
<rect x="611.91" y="601.93" width="31.89" height="33.1" fill="#67001f"/>
<rect x="643.2" y="601.93" width="31.89" height="33.1" fill="#f3a481"/>
<rect x="674.49" y="601.93" width="31.89" height="33.1" fill="#f8bfa4"/>
<rect x="705.77" y="601.93" width="31.89" height="33.1" fill="#f9c6ac"/>
<rect x="737.06" y="601.93" width="31.89" height="33.1" fill="#fddbc7"/>
<rect x="768.35" y="601.93" width="31.89" height="33.1" fill="#f8f1ed"/>
<rect x="799.63" y="601.93" width="63.17" height="33.1" fill="#f8f3f0"/>
<rect x="862.21" y="601.93" width="31.89" height="33.1" fill="#f7f5f4"/>
<rect x="893.49" y="601.93" width="31.89" height="33.1" fill="#f5f6f7"/>
<rect x="924.78" y="601.93" width="31.89" height="33.1" fill="#f9ebe3"/>
<rect x="956.07" y="601.93" width="31.89" height="33.1" fill="#f7f6f6"/>
<rect x="987.35" y="601.93" width="31.89" height="33.1" fill="#f2f5f6"/>
<rect x="1018.64" y="601.93" width="31.89" height="33.1" fill="#f7f5f4"/>
<rect x="1049.93" y="601.93" width="31.89" height="33.1" fill="#f8f1ed"/>
<rect x="1081.21" y="601.93" width="31.89" height="33.1" fill="#eff3f5"/>
<rect x="1112.5" y="601.93" width="63.17" height="33.1" fill="#edf2f5"/>
<rect x="1175.07" y="601.93" width="31.89" height="33.1" fill="#f9f0eb"/>
<rect x="1206.36" y="601.93" width="31.89" height="33.1" fill="#f7f5f4"/>
<rect x="1237.65" y="601.93" width="31.89" height="33.1" fill="#f8f3f0"/>
<rect x="1268.93" y="601.93" width="31.89" height="33.1" fill="#f6f7f7"/>
<rect x="1300.22" y="601.93" width="31.89" height="33.1" fill="#f2f5f6"/>
<rect x="1331.51" y="601.93" width="31.89" height="33.1" fill="#f8f3f0"/>
<rect x="1362.79" y="601.93" width="31.89" height="33.1" fill="#f7f6f6"/>
<rect x="1394.08" y="601.93" width="31.89" height="33.1" fill="#f3f5f6"/>
<rect x="1425.37" y="601.93" width="31.89" height="33.1" fill="#eff3f5"/>
<rect x="1456.65" y="601.93" width="31.89" height="33.1" fill="#f8f2ef"/>
<rect x="1487.94" y="601.93" width="31.89" height="33.1" fill="#f6f7f7"/>
<rect x="1519.23" y="601.93" width="31.89" height="33.1" fill="#f8f1ed"/>
<rect x="1550.51" y="601.93" width="31.89" height="33.1" fill="#f6f7f7"/>
<rect x="173.9" y="634.43" width="31.89" height="33.1" fill="#e9f0f4"/>
<rect x="205.19" y="634.43" width="31.89" height="33.1" fill="#f7f6f6"/>
<rect x="236.47" y="634.43" width="31.89" height="33.1" fill="#f0f4f6"/>
<rect x="267.76" y="634.43" width="31.89" height="33.1" fill="#f7f5f4"/>
<rect x="299.05" y="634.43" width="31.89" height="33.1" fill="#f9ede5"/>
<rect x="330.33" y="634.43" width="31.89" height="33.1" fill="#f5f6f7"/>
<rect x="361.62" y="634.43" width="31.89" height="33.1" fill="#f3f5f6"/>
<rect x="392.91" y="634.43" width="31.89" height="33.1" fill="#f8f3f0"/>
<rect x="424.19" y="634.43" width="31.89" height="33.1" fill="#f5f6f7"/>
<rect x="455.48" y="634.43" width="31.89" height="33.1" fill="#f7f5f4"/>
<rect x="486.77" y="634.43" width="31.89" height="33.1" fill="#f7f6f6"/>
<rect x="518.05" y="634.43" width="31.89" height="33.1" fill="#fcd5bf"/>
<rect x="549.34" y="634.43" width="31.89" height="33.1" fill="#fbccb4"/>
<rect x="580.63" y="634.43" width="31.89" height="33.1" fill="#f5ac8b"/>
<rect x="611.91" y="634.43" width="31.89" height="33.1" fill="#f3a481"/>
<rect x="643.2" y="634.43" width="31.89" height="33.1" fill="#67001f"/>
<rect x="674.49" y="634.43" width="31.89" height="33.1" fill="#eb9172"/>
<rect x="705.77" y="634.43" width="31.89" height="33.1" fill="#f8bb9e"/>
<rect x="737.06" y="634.43" width="31.89" height="33.1" fill="#f7b799"/>
<rect x="768.35" y="634.43" width="31.89" height="33.1" fill="#fcd3bc"/>
<rect x="799.63" y="634.43" width="31.89" height="33.1" fill="#f7f6f6"/>
<rect x="830.92" y="634.43" width="31.89" height="33.1" fill="#f8f3f0"/>
<rect x="862.21" y="634.43" width="31.89" height="33.1" fill="#f7f6f6"/>
<rect x="893.49" y="634.43" width="31.89" height="33.1" fill="#f3f5f6"/>
<rect x="924.78" y="634.43" width="63.17" height="33.1" fill="#f8f2ef"/>
<rect x="987.35" y="634.43" width="31.89" height="33.1" fill="#f9f0eb"/>
<rect x="1018.64" y="634.43" width="31.89" height="33.1" fill="#f9efe9"/>
<rect x="1049.93" y="634.43" width="31.89" height="33.1" fill="#f0f4f6"/>
<rect x="1081.21" y="634.43" width="31.89" height="33.1" fill="#f7f5f4"/>
<rect x="1112.5" y="634.43" width="31.89" height="33.1" fill="#f9f0eb"/>
<rect x="1143.79" y="634.43" width="31.89" height="33.1" fill="#f9eee7"/>
<rect x="1175.07" y="634.43" width="31.89" height="33.1" fill="#f8f3f0"/>
<rect x="1206.36" y="634.43" width="31.89" height="33.1" fill="#f8f4f2"/>
<rect x="1237.65" y="634.43" width="31.89" height="33.1" fill="#f8f1ed"/>
<rect x="1268.93" y="634.43" width="31.89" height="33.1" fill="#f0f4f6"/>
<rect x="1300.22" y="634.43" width="31.89" height="33.1" fill="#f7f6f6"/>
<rect x="1331.51" y="634.43" width="31.89" height="33.1" fill="#f8f3f0"/>
<rect x="1362.79" y="634.43" width="31.89" height="33.1" fill="#f9eee7"/>
<rect x="1394.08" y="634.43" width="31.89" height="33.1" fill="#f7f5f4"/>
<rect x="1425.37" y="634.43" width="63.17" height="33.1" fill="#f8f4f2"/>
<rect x="1487.94" y="634.43" width="31.89" height="33.1" fill="#eaf1f5"/>
<rect x="1519.23" y="634.43" width="31.89" height="33.1" fill="#f6f7f7"/>
<rect x="1550.51" y="634.43" width="31.89" height="33.1" fill="#f9ebe3"/>
<rect x="173.9" y="666.94" width="31.89" height="33.1" fill="#f2f5f6"/>
<rect x="205.19" y="666.94" width="31.89" height="33.1" fill="#edf2f5"/>
<rect x="236.47" y="666.94" width="31.89" height="33.1" fill="#f6f7f7"/>
<rect x="267.76" y="666.94" width="31.89" height="33.1" fill="#f0f4f6"/>
<rect x="299.05" y="666.94" width="31.89" height="33.1" fill="#f3f5f6"/>
<rect x="330.33" y="666.94" width="31.89" height="33.1" fill="#eaf1f5"/>
<rect x="361.62" y="666.94" width="31.89" height="33.1" fill="#f7f5f4"/>
<rect x="392.91" y="666.94" width="31.89" height="33.1" fill="#f8f1ed"/>
<rect x="424.19" y="666.94" width="31.89" height="33.1" fill="#f2f5f6"/>
<rect x="455.48" y="666.94" width="31.89" height="33.1" fill="#f7f5f4"/>
<rect x="486.77" y="666.94" width="31.89" height="33.1" fill="#f3f5f6"/>
<rect x="518.05" y="666.94" width="31.89" height="33.1" fill="#f2f5f6"/>
<rect x="549.34" y="666.94" width="31.89" height="33.1" fill="#fcd5bf"/>
<rect x="580.63" y="666.94" width="31.89" height="33.1" fill="#fddbc7"/>
<rect x="611.91" y="666.94" width="31.89" height="33.1" fill="#f8bfa4"/>
<rect x="643.2" y="666.94" width="31.89" height="33.1" fill="#eb9172"/>
<rect x="674.49" y="666.94" width="31.89" height="33.1" fill="#67001f"/>
<rect x="705.77" y="666.94" width="31.89" height="33.1" fill="#f2a17f"/>
<rect x="737.06" y="666.94" width="31.89" height="33.1" fill="#f19e7d"/>
<rect x="768.35" y="666.94" width="31.89" height="33.1" fill="#f9c2a7"/>
<rect x="799.63" y="666.94" width="31.89" height="33.1" fill="#fdddcb"/>
<rect x="830.92" y="666.94" width="31.89" height="33.1" fill="#f2f5f6"/>
<rect x="862.21" y="666.94" width="31.89" height="33.1" fill="#f7f5f4"/>
<rect x="893.49" y="666.94" width="31.89" height="33.1" fill="#f7f6f6"/>
<rect x="924.78" y="666.94" width="31.89" height="33.1" fill="#ecf2f5"/>
<rect x="956.07" y="666.94" width="31.89" height="33.1" fill="#f5f6f7"/>
<rect x="987.35" y="666.94" width="31.89" height="33.1" fill="#f8f3f0"/>
<rect x="1018.64" y="666.94" width="31.89" height="33.1" fill="#f9f0eb"/>
<rect x="1049.93" y="666.94" width="31.89" height="33.1" fill="#f8f4f2"/>
<rect x="1081.21" y="666.94" width="31.89" height="33.1" fill="#f3f5f6"/>
<rect x="1112.5" y="666.94" width="31.89" height="33.1" fill="#f8f2ef"/>
<rect x="1143.79" y="666.94" width="31.89" height="33.1" fill="#f8f4f2"/>
<rect x="1175.07" y="666.94" width="31.89" height="33.1" fill="#f8f2ef"/>
<rect x="1206.36" y="666.94" width="31.89" height="33.1" fill="#f0f4f6"/>
<rect x="1237.65" y="666.94" width="31.89" height="33.1" fill="#f2f5f6"/>
<rect x="1268.93" y="666.94" width="31.89" height="33.1" fill="#f9eee7"/>
<rect x="1300.22" y="666.94" width="31.89" height="33.1" fill="#f3f5f6"/>
<rect x="1331.51" y="666.94" width="63.17" height="33.1" fill="#f7f6f6"/>
<rect x="1394.08" y="666.94" width="31.89" height="33.1" fill="#f8f2ef"/>
<rect x="1425.37" y="666.94" width="31.89" height="33.1" fill="#f2f5f6"/>
<rect x="1456.65" y="666.94" width="94.46" height="33.1" fill="#f7f6f6"/>
<rect x="1550.51" y="666.94" width="31.89" height="33.1" fill="#f8f2ef"/>
<rect x="173.9" y="699.44" width="31.89" height="33.1" fill="#f8f3f0"/>
<rect x="205.19" y="699.44" width="31.89" height="33.1" fill="#f8f1ed"/>
<rect x="236.47" y="699.44" width="31.89" height="33.1" fill="#f7f5f4"/>
<rect x="267.76" y="699.44" width="31.89" height="33.1" fill="#f3f5f6"/>
<rect x="299.05" y="699.44" width="31.89" height="33.1" fill="#f5f6f7"/>
<rect x="330.33" y="699.44" width="31.89" height="33.1" fill="#f8f1ed"/>
<rect x="361.62" y="699.44" width="31.89" height="33.1" fill="#f2f5f6"/>
<rect x="392.91" y="699.44" width="31.89" height="33.1" fill="#f5f6f7"/>
<rect x="424.19" y="699.44" width="31.89" height="33.1" fill="#f8f2ef"/>
<rect x="455.48" y="699.44" width="63.17" height="33.1" fill="#f7f6f6"/>
<rect x="518.05" y="699.44" width="31.89" height="33.1" fill="#f2f5f6"/>
<rect x="549.34" y="699.44" width="31.89" height="33.1" fill="#f5f6f7"/>
<rect x="580.63" y="699.44" width="31.89" height="33.1" fill="#fbccb4"/>
<rect x="611.91" y="699.44" width="31.89" height="33.1" fill="#f9c6ac"/>
<rect x="643.2" y="699.44" width="31.89" height="33.1" fill="#f8bb9e"/>
<rect x="674.49" y="699.44" width="31.89" height="33.1" fill="#f2a17f"/>
<rect x="705.77" y="699.44" width="31.89" height="33.1" fill="#67001f"/>
<rect x="737.06" y="699.44" width="31.89" height="33.1" fill="#f19e7d"/>
<rect x="768.35" y="699.44" width="63.17" height="33.1" fill="#f8bb9e"/>
<rect x="830.92" y="699.44" width="31.89" height="33.1" fill="#fbccb4"/>
<rect x="862.21" y="699.44" width="31.89" height="33.1" fill="#f7f5f4"/>
<rect x="893.49" y="699.44" width="31.89" height="33.1" fill="#f7f6f6"/>
<rect x="924.78" y="699.44" width="31.89" height="33.1" fill="#e7f0f4"/>
<rect x="956.07" y="699.44" width="31.89" height="33.1" fill="#f8f2ef"/>
<rect x="987.35" y="699.44" width="31.89" height="33.1" fill="#f6f7f7"/>
<rect x="1018.64" y="699.44" width="31.89" height="33.1" fill="#f8f1ed"/>
<rect x="1049.93" y="699.44" width="31.89" height="33.1" fill="#f0f4f6"/>
<rect x="1081.21" y="699.44" width="31.89" height="33.1" fill="#f8f4f2"/>
<rect x="1112.5" y="699.44" width="31.89" height="33.1" fill="#f7f5f4"/>
<rect x="1143.79" y="699.44" width="31.89" height="33.1" fill="#f9f0eb"/>
<rect x="1175.07" y="699.44" width="31.89" height="33.1" fill="#f8f3f0"/>
<rect x="1206.36" y="699.44" width="31.89" height="33.1" fill="#f0f4f6"/>
<rect x="1237.65" y="699.44" width="31.89" height="33.1" fill="#f8f4f2"/>
<rect x="1268.93" y="699.44" width="31.89" height="33.1" fill="#f7f5f4"/>
<rect x="1300.22" y="699.44" width="31.89" height="33.1" fill="#f2f5f6"/>
<rect x="1331.51" y="699.44" width="31.89" height="33.1" fill="#eff3f5"/>
<rect x="1362.79" y="699.44" width="31.89" height="33.1" fill="#f7f6f6"/>
<rect x="1394.08" y="699.44" width="31.89" height="33.1" fill="#f8f4f2"/>
<rect x="1425.37" y="699.44" width="31.89" height="33.1" fill="#f8f2ef"/>
<rect x="1456.65" y="699.44" width="31.89" height="33.1" fill="#f7f5f4"/>
<rect x="1487.94" y="699.44" width="31.89" height="33.1" fill="#f3f5f6"/>
<rect x="1519.23" y="699.44" width="31.89" height="33.1" fill="#f7f6f6"/>
<rect x="1550.51" y="699.44" width="31.89" height="33.1" fill="#f8f4f2"/>
<rect x="173.9" y="731.94" width="31.89" height="33.1" fill="#f7f5f4"/>
<rect x="205.19" y="731.94" width="31.89" height="33.1" fill="#f8f1ed"/>
<rect x="236.47" y="731.94" width="94.46" height="33.1" fill="#f8f2ef"/>
<rect x="330.33" y="731.94" width="31.89" height="33.1" fill="#f5f6f7"/>
<rect x="361.62" y="731.94" width="63.17" height="33.1" fill="#f6f7f7"/>
<rect x="424.19" y="731.94" width="31.89" height="33.1" fill="#f8f3f0"/>
<rect x="455.48" y="731.94" width="31.89" height="33.1" fill="#f8f1ed"/>
<rect x="486.77" y="731.94" width="31.89" height="33.1" fill="#f7f6f6"/>
<rect x="518.05" y="731.94" width="31.89" height="33.1" fill="#eaf1f5"/>
<rect x="549.34" y="731.94" width="31.89" height="33.1" fill="#f8f1ed"/>
<rect x="580.63" y="731.94" width="31.89" height="33.1" fill="#f7f6f6"/>
<rect x="611.91" y="731.94" width="31.89" height="33.1" fill="#fddbc7"/>
<rect x="643.2" y="731.94" width="31.89" height="33.1" fill="#f7b799"/>
<rect x="674.49" y="731.94" width="63.17" height="33.1" fill="#f19e7d"/>
<rect x="737.06" y="731.94" width="31.89" height="33.1" fill="#67001f"/>
<rect x="768.35" y="731.94" width="31.89" height="33.1" fill="#f5aa89"/>
<rect x="799.63" y="731.94" width="31.89" height="33.1" fill="#f8bfa4"/>
<rect x="830.92" y="731.94" width="31.89" height="33.1" fill="#fac8af"/>
<rect x="862.21" y="731.94" width="31.89" height="33.1" fill="#fcd5bf"/>
<rect x="893.49" y="731.94" width="31.89" height="33.1" fill="#f3f5f6"/>
<rect x="924.78" y="731.94" width="31.89" height="33.1" fill="#f7f5f4"/>
<rect x="956.07" y="731.94" width="31.89" height="33.1" fill="#f7f6f6"/>
<rect x="987.35" y="731.94" width="63.17" height="33.1" fill="#f8f1ed"/>
<rect x="1049.93" y="731.94" width="31.89" height="33.1" fill="#f8f4f2"/>
<rect x="1081.21" y="731.94" width="31.89" height="33.1" fill="#f7f6f6"/>
<rect x="1112.5" y="731.94" width="31.89" height="33.1" fill="#f8f2ef"/>
<rect x="1143.79" y="731.94" width="31.89" height="33.1" fill="#f2f5f6"/>
<rect x="1175.07" y="731.94" width="31.89" height="33.1" fill="#f9f0eb"/>
<rect x="1206.36" y="731.94" width="31.89" height="33.1" fill="#f5f6f7"/>
<rect x="1237.65" y="731.94" width="31.89" height="33.1" fill="#f8f4f2"/>
<rect x="1268.93" y="731.94" width="31.89" height="33.1" fill="#f9eee7"/>
<rect x="1300.22" y="731.94" width="31.89" height="33.1" fill="#f9efe9"/>
<rect x="1331.51" y="731.94" width="31.89" height="33.1" fill="#f2f5f6"/>
<rect x="1362.79" y="731.94" width="31.89" height="33.1" fill="#f8f3f0"/>
<rect x="1394.08" y="731.94" width="31.89" height="33.1" fill="#f9eee7"/>
<rect x="1425.37" y="731.94" width="31.89" height="33.1" fill="#f2f5f6"/>
<rect x="1456.65" y="731.94" width="31.89" height="33.1" fill="#f8f2ef"/>
<rect x="1487.94" y="731.94" width="31.89" height="33.1" fill="#f7f6f6"/>
<rect x="1519.23" y="731.94" width="31.89" height="33.1" fill="#f5f6f7"/>
<rect x="1550.51" y="731.94" width="31.89" height="33.1" fill="#f7f5f4"/>
<rect x="173.9" y="764.44" width="31.89" height="33.1" fill="#f2f5f6"/>
<rect x="205.19" y="764.44" width="31.89" height="33.1" fill="#edf2f5"/>
<rect x="236.47" y="764.44" width="31.89" height="33.1" fill="#f7f6f6"/>
<rect x="267.76" y="764.44" width="31.89" height="33.1" fill="#f8f3f0"/>
<rect x="299.05" y="764.44" width="31.89" height="33.1" fill="#f8f2ef"/>
<rect x="330.33" y="764.44" width="31.89" height="33.1" fill="#f9ede5"/>
<rect x="361.62" y="764.44" width="31.89" height="33.1" fill="#f8f1ed"/>
<rect x="392.91" y="764.44" width="31.89" height="33.1" fill="#f7f6f6"/>
<rect x="424.19" y="764.44" width="31.89" height="33.1" fill="#f8f2ef"/>
<rect x="455.48" y="764.44" width="31.89" height="33.1" fill="#f7f6f6"/>
<rect x="486.77" y="764.44" width="31.89" height="33.1" fill="#f8f3f0"/>
<rect x="518.05" y="764.44" width="31.89" height="33.1" fill="#f7f5f4"/>
<rect x="549.34" y="764.44" width="31.89" height="33.1" fill="#f5f6f7"/>
<rect x="580.63" y="764.44" width="31.89" height="33.1" fill="#f7f6f6"/>
<rect x="611.91" y="764.44" width="31.89" height="33.1" fill="#f8f1ed"/>
<rect x="643.2" y="764.44" width="31.89" height="33.1" fill="#fcd3bc"/>
<rect x="674.49" y="764.44" width="31.89" height="33.1" fill="#f9c2a7"/>
<rect x="705.77" y="764.44" width="31.89" height="33.1" fill="#f8bb9e"/>
<rect x="737.06" y="764.44" width="31.89" height="33.1" fill="#f5aa89"/>
<rect x="768.35" y="764.44" width="31.89" height="33.1" fill="#67001f"/>
<rect x="799.63" y="764.44" width="31.89" height="33.1" fill="#eb9172"/>
<rect x="830.92" y="764.44" width="31.89" height="33.1" fill="#f7b799"/>
<rect x="862.21" y="764.44" width="31.89" height="33.1" fill="#f9c6ac"/>
<rect x="893.49" y="764.44" width="31.89" height="33.1" fill="#fdd9c4"/>
<rect x="924.78" y="764.44" width="31.89" height="33.1" fill="#f8f4f2"/>
<rect x="956.07" y="764.44" width="31.89" height="33.1" fill="#f9f0eb"/>
<rect x="987.35" y="764.44" width="63.17" height="33.1" fill="#eff3f5"/>
<rect x="1049.93" y="764.44" width="63.17" height="33.1" fill="#f8f4f2"/>
<rect x="1112.5" y="764.44" width="31.89" height="33.1" fill="#f8f1ed"/>
<rect x="1143.79" y="764.44" width="31.89" height="33.1" fill="#f2f5f6"/>
<rect x="1175.07" y="764.44" width="31.89" height="33.1" fill="#f8f1ed"/>
<rect x="1206.36" y="764.44" width="31.89" height="33.1" fill="#f5f6f7"/>
<rect x="1237.65" y="764.44" width="31.89" height="33.1" fill="#f9f0eb"/>
<rect x="1268.93" y="764.44" width="31.89" height="33.1" fill="#edf2f5"/>
<rect x="1300.22" y="764.44" width="63.17" height="33.1" fill="#f8f2ef"/>
<rect x="1362.79" y="764.44" width="31.89" height="33.1" fill="#f9efe9"/>
<rect x="1394.08" y="764.44" width="31.89" height="33.1" fill="#f7f5f4"/>
<rect x="1425.37" y="764.44" width="31.89" height="33.1" fill="#f6f7f7"/>
<rect x="1456.65" y="764.44" width="31.89" height="33.1" fill="#f9ede5"/>
<rect x="1487.94" y="764.44" width="31.89" height="33.1" fill="#f0f4f6"/>
<rect x="1519.23" y="764.44" width="31.89" height="33.1" fill="#f5f6f7"/>
<rect x="1550.51" y="764.44" width="31.89" height="33.1" fill="#f9eee7"/>
<rect x="173.9" y="796.94" width="31.89" height="33.1" fill="#f8f1ed"/>
<rect x="205.19" y="796.94" width="31.89" height="33.1" fill="#f2f5f6"/>
<rect x="236.47" y="796.94" width="31.89" height="33.1" fill="#f3f5f6"/>
<rect x="267.76" y="796.94" width="31.89" height="33.1" fill="#f9f0eb"/>
<rect x="299.05" y="796.94" width="31.89" height="33.1" fill="#f5f6f7"/>
<rect x="330.33" y="796.94" width="31.89" height="33.1" fill="#f6f7f7"/>
<rect x="361.62" y="796.94" width="31.89" height="33.1" fill="#f8f2ef"/>
<rect x="392.91" y="796.94" width="31.89" height="33.1" fill="#f0f4f6"/>
<rect x="424.19" y="796.94" width="31.89" height="33.1" fill="#f6f7f7"/>
<rect x="455.48" y="796.94" width="31.89" height="33.1" fill="#f9ebe3"/>
<rect x="486.77" y="796.94" width="31.89" height="33.1" fill="#f9efe9"/>
<rect x="518.05" y="796.94" width="63.17" height="33.1" fill="#f8f3f0"/>
<rect x="580.63" y="796.94" width="31.89" height="33.1" fill="#f9eee7"/>
<rect x="611.91" y="796.94" width="31.89" height="33.1" fill="#f8f3f0"/>
<rect x="643.2" y="796.94" width="31.89" height="33.1" fill="#f7f6f6"/>
<rect x="674.49" y="796.94" width="31.89" height="33.1" fill="#fdddcb"/>
<rect x="705.77" y="796.94" width="31.89" height="33.1" fill="#f8bb9e"/>
<rect x="737.06" y="796.94" width="31.89" height="33.1" fill="#f8bfa4"/>
<rect x="768.35" y="796.94" width="31.89" height="33.1" fill="#eb9172"/>
<rect x="799.63" y="796.94" width="31.89" height="33.1" fill="#67001f"/>
<rect x="830.92" y="796.94" width="31.89" height="33.1" fill="#f19e7d"/>
<rect x="862.21" y="796.94" width="31.89" height="33.1" fill="#f5aa89"/>
<rect x="893.49" y="796.94" width="31.89" height="33.1" fill="#fbd0b9"/>
<rect x="924.78" y="796.94" width="31.89" height="33.1" fill="#f9c6ac"/>
<rect x="956.07" y="796.94" width="31.89" height="33.1" fill="#eff3f5"/>
<rect x="987.35" y="796.94" width="31.89" height="33.1" fill="#f5f6f7"/>
<rect x="1018.64" y="796.94" width="31.89" height="33.1" fill="#f8f1ed"/>
<rect x="1049.93" y="796.94" width="31.89" height="33.1" fill="#f9f0eb"/>
<rect x="1081.21" y="796.94" width="31.89" height="33.1" fill="#eff3f5"/>
<rect x="1112.5" y="796.94" width="31.89" height="33.1" fill="#f5f6f7"/>
<rect x="1143.79" y="796.94" width="31.89" height="33.1" fill="#f3f5f6"/>
<rect x="1175.07" y="796.94" width="31.89" height="33.1" fill="#f8f1ed"/>
<rect x="1206.36" y="796.94" width="31.89" height="33.1" fill="#f0f4f6"/>
<rect x="1237.65" y="796.94" width="31.89" height="33.1" fill="#f8f1ed"/>
<rect x="1268.93" y="796.94" width="31.89" height="33.1" fill="#f6f7f7"/>
<rect x="1300.22" y="796.94" width="31.89" height="33.1" fill="#f0f4f6"/>
<rect x="1331.51" y="796.94" width="31.89" height="33.1" fill="#f7f6f6"/>
<rect x="1362.79" y="796.94" width="31.89" height="33.1" fill="#f6f7f7"/>
<rect x="1394.08" y="796.94" width="31.89" height="33.1" fill="#f3f5f6"/>
<rect x="1425.37" y="796.94" width="31.89" height="33.1" fill="#f7f6f6"/>
<rect x="1456.65" y="796.94" width="31.89" height="33.1" fill="#f8f3f0"/>
<rect x="1487.94" y="796.94" width="31.89" height="33.1" fill="#f5f6f7"/>
<rect x="1519.23" y="796.94" width="31.89" height="33.1" fill="#f8f1ed"/>
<rect x="1550.51" y="796.94" width="31.89" height="33.1" fill="#f8f2ef"/>
<rect x="173.9" y="829.45" width="31.89" height="33.1" fill="#f8f3f0"/>
<rect x="205.19" y="829.45" width="31.89" height="33.1" fill="#f5f6f7"/>
<rect x="236.47" y="829.45" width="31.89" height="33.1" fill="#f7f5f4"/>
<rect x="267.76" y="829.45" width="31.89" height="33.1" fill="#e9f0f4"/>
<rect x="299.05" y="829.45" width="31.89" height="33.1" fill="#f8f3f0"/>
<rect x="330.33" y="829.45" width="31.89" height="33.1" fill="#f9ebe3"/>
<rect x="361.62" y="829.45" width="31.89" height="33.1" fill="#f6f7f7"/>
<rect x="392.91" y="829.45" width="31.89" height="33.1" fill="#f7f6f6"/>
<rect x="424.19" y="829.45" width="31.89" height="33.1" fill="#f8f2ef"/>
<rect x="455.48" y="829.45" width="31.89" height="33.1" fill="#f2f5f6"/>
<rect x="486.77" y="829.45" width="31.89" height="33.1" fill="#f6f7f7"/>
<rect x="518.05" y="829.45" width="31.89" height="33.1" fill="#f8f4f2"/>
<rect x="549.34" y="829.45" width="31.89" height="33.1" fill="#f7f6f6"/>
<rect x="580.63" y="829.45" width="31.89" height="33.1" fill="#f9f0eb"/>
<rect x="611.91" y="829.45" width="63.17" height="33.1" fill="#f8f3f0"/>
<rect x="674.49" y="829.45" width="31.89" height="33.1" fill="#f2f5f6"/>
<rect x="705.77" y="829.45" width="31.89" height="33.1" fill="#fbccb4"/>
<rect x="737.06" y="829.45" width="31.89" height="33.1" fill="#fac8af"/>
<rect x="768.35" y="829.45" width="31.89" height="33.1" fill="#f7b799"/>
<rect x="799.63" y="829.45" width="31.89" height="33.1" fill="#f19e7d"/>
<rect x="830.92" y="829.45" width="31.89" height="33.1" fill="#67001f"/>
<rect x="862.21" y="829.45" width="31.89" height="33.1" fill="#eb9172"/>
<rect x="893.49" y="829.45" width="31.89" height="33.1" fill="#f7b596"/>
<rect x="924.78" y="829.45" width="31.89" height="33.1" fill="#fce2d2"/>
<rect x="956.07" y="829.45" width="31.89" height="33.1" fill="#fdddcb"/>
<rect x="987.35" y="829.45" width="31.89" height="33.1" fill="#edf2f5"/>
<rect x="1018.64" y="829.45" width="31.89" height="33.1" fill="#f8f1ed"/>
<rect x="1049.93" y="829.45" width="31.89" height="33.1" fill="#f5f6f7"/>
<rect x="1081.21" y="829.45" width="31.89" height="33.1" fill="#eff3f5"/>
<rect x="1112.5" y="829.45" width="31.89" height="33.1" fill="#f8f4f2"/>
<rect x="1143.79" y="829.45" width="31.89" height="33.1" fill="#f3f5f6"/>
<rect x="1175.07" y="829.45" width="31.89" height="33.1" fill="#f8f1ed"/>
<rect x="1206.36" y="829.45" width="31.89" height="33.1" fill="#f8f4f2"/>
<rect x="1237.65" y="829.45" width="31.89" height="33.1" fill="#f8f3f0"/>
<rect x="1268.93" y="829.45" width="31.89" height="33.1" fill="#f9f0eb"/>
<rect x="1300.22" y="829.45" width="31.89" height="33.1" fill="#f8f3f0"/>
<rect x="1331.51" y="829.45" width="31.89" height="33.1" fill="#f8f2ef"/>
<rect x="1362.79" y="829.45" width="63.17" height="33.1" fill="#f7f6f6"/>
<rect x="1425.37" y="829.45" width="31.89" height="33.1" fill="#f9efe9"/>
<rect x="1456.65" y="829.45" width="31.89" height="33.1" fill="#f8f4f2"/>
<rect x="1487.94" y="829.45" width="31.89" height="33.1" fill="#f9f0eb"/>
<rect x="1519.23" y="829.45" width="31.89" height="33.1" fill="#f8f4f2"/>
<rect x="1550.51" y="829.45" width="31.89" height="33.1" fill="#f3f5f6"/>
<rect x="173.9" y="861.95" width="31.89" height="33.1" fill="#f6f7f7"/>
<rect x="205.19" y="861.95" width="31.89" height="33.1" fill="#f2f5f6"/>
<rect x="236.47" y="861.95" width="63.17" height="33.1" fill="#f9eee7"/>
<rect x="299.05" y="861.95" width="31.89" height="33.1" fill="#eff3f5"/>
<rect x="330.33" y="861.95" width="31.89" height="33.1" fill="#f6f7f7"/>
<rect x="361.62" y="861.95" width="31.89" height="33.1" fill="#f9f0eb"/>
<rect x="392.91" y="861.95" width="31.89" height="33.1" fill="#eff3f5"/>
<rect x="424.19" y="861.95" width="63.17" height="33.1" fill="#f5f6f7"/>
<rect x="486.77" y="861.95" width="31.89" height="33.1" fill="#f7f5f4"/>
<rect x="518.05" y="861.95" width="31.89" height="33.1" fill="#eff3f5"/>
<rect x="549.34" y="861.95" width="31.89" height="33.1" fill="#f8f2ef"/>
<rect x="580.63" y="861.95" width="31.89" height="33.1" fill="#f8f1ed"/>
<rect x="611.91" y="861.95" width="31.89" height="33.1" fill="#f7f5f4"/>
<rect x="643.2" y="861.95" width="31.89" height="33.1" fill="#f7f6f6"/>
<rect x="674.49" y="861.95" width="63.17" height="33.1" fill="#f7f5f4"/>
<rect x="737.06" y="861.95" width="31.89" height="33.1" fill="#fcd5bf"/>
<rect x="768.35" y="861.95" width="31.89" height="33.1" fill="#f9c6ac"/>
<rect x="799.63" y="861.95" width="31.89" height="33.1" fill="#f5aa89"/>
<rect x="830.92" y="861.95" width="31.89" height="33.1" fill="#eb9172"/>
<rect x="862.21" y="861.95" width="31.89" height="33.1" fill="#67001f"/>
<rect x="893.49" y="861.95" width="31.89" height="33.1" fill="#f19e7d"/>
<rect x="924.78" y="861.95" width="31.89" height="33.1" fill="#ef9979"/>
<rect x="956.07" y="861.95" width="31.89" height="33.1" fill="#fbccb4"/>
<rect x="987.35" y="861.95" width="31.89" height="33.1" fill="#fddcc9"/>
<rect x="1018.64" y="861.95" width="31.89" height="33.1" fill="#eff3f5"/>
<rect x="1049.93" y="861.95" width="31.89" height="33.1" fill="#f9f0eb"/>
<rect x="1081.21" y="861.95" width="31.89" height="33.1" fill="#f8f4f2"/>
<rect x="1112.5" y="861.95" width="31.89" height="33.1" fill="#eff3f5"/>
<rect x="1143.79" y="861.95" width="31.89" height="33.1" fill="#f2f5f6"/>
<rect x="1175.07" y="861.95" width="31.89" height="33.1" fill="#f8f3f0"/>
<rect x="1206.36" y="861.95" width="31.89" height="33.1" fill="#f0f4f6"/>
<rect x="1237.65" y="861.95" width="31.89" height="33.1" fill="#f6f7f7"/>
<rect x="1268.93" y="861.95" width="31.89" height="33.1" fill="#f5f6f7"/>
<rect x="1300.22" y="861.95" width="31.89" height="33.1" fill="#f7f5f4"/>
<rect x="1331.51" y="861.95" width="31.89" height="33.1" fill="#f6f7f7"/>
<rect x="1362.79" y="861.95" width="31.89" height="33.1" fill="#f2f5f6"/>
<rect x="1394.08" y="861.95" width="31.89" height="33.1" fill="#f8f3f0"/>
<rect x="1425.37" y="861.95" width="31.89" height="33.1" fill="#f9efe9"/>
<rect x="1456.65" y="861.95" width="31.89" height="33.1" fill="#f9eee7"/>
<rect x="1487.94" y="861.95" width="63.17" height="33.1" fill="#f7f6f6"/>
<rect x="1550.51" y="861.95" width="31.89" height="33.1" fill="#f8f1ed"/>
<rect x="173.9" y="894.45" width="31.89" height="33.1" fill="#f9ede5"/>
<rect x="205.19" y="894.45" width="31.89" height="33.1" fill="#f7f5f4"/>
<rect x="236.47" y="894.45" width="31.89" height="33.1" fill="#f6f7f7"/>
<rect x="267.76" y="894.45" width="31.89" height="33.1" fill="#f9efe9"/>
<rect x="299.05" y="894.45" width="31.89" height="33.1" fill="#eff3f5"/>
<rect x="330.33" y="894.45" width="31.89" height="33.1" fill="#f6f7f7"/>
<rect x="361.62" y="894.45" width="31.89" height="33.1" fill="#edf2f5"/>
<rect x="392.91" y="894.45" width="31.89" height="33.1" fill="#f6f7f7"/>
<rect x="424.19" y="894.45" width="31.89" height="33.1" fill="#f5f6f7"/>
<rect x="455.48" y="894.45" width="31.89" height="33.1" fill="#eff3f5"/>
<rect x="486.77" y="894.45" width="31.89" height="33.1" fill="#f5f6f7"/>
<rect x="518.05" y="894.45" width="31.89" height="33.1" fill="#f3f5f6"/>
<rect x="549.34" y="894.45" width="31.89" height="33.1" fill="#ecf2f5"/>
<rect x="580.63" y="894.45" width="31.89" height="33.1" fill="#f2f5f6"/>
<rect x="611.91" y="894.45" width="31.89" height="33.1" fill="#f5f6f7"/>
<rect x="643.2" y="894.45" width="31.89" height="33.1" fill="#f3f5f6"/>
<rect x="674.49" y="894.45" width="63.17" height="33.1" fill="#f7f6f6"/>
<rect x="737.06" y="894.45" width="31.89" height="33.1" fill="#f3f5f6"/>
<rect x="768.35" y="894.45" width="31.89" height="33.1" fill="#fdd9c4"/>
<rect x="799.63" y="894.45" width="31.89" height="33.1" fill="#fbd0b9"/>
<rect x="830.92" y="894.45" width="31.89" height="33.1" fill="#f7b596"/>
<rect x="862.21" y="894.45" width="31.89" height="33.1" fill="#f19e7d"/>
<rect x="893.49" y="894.45" width="31.89" height="33.1" fill="#67001f"/>
<rect x="924.78" y="894.45" width="63.17" height="33.1" fill="#f3a481"/>
<rect x="987.35" y="894.45" width="31.89" height="33.1" fill="#fddbc7"/>
<rect x="1018.64" y="894.45" width="31.89" height="33.1" fill="#f9c6ac"/>
<rect x="1049.93" y="894.45" width="31.89" height="33.1" fill="#f5f6f7"/>
<rect x="1081.21" y="894.45" width="31.89" height="33.1" fill="#eff3f5"/>
<rect x="1112.5" y="894.45" width="31.89" height="33.1" fill="#ecf2f5"/>
<rect x="1143.79" y="894.45" width="31.89" height="33.1" fill="#f8f1ed"/>
<rect x="1175.07" y="894.45" width="31.89" height="33.1" fill="#ecf2f5"/>
<rect x="1206.36" y="894.45" width="31.89" height="33.1" fill="#f9ede5"/>
<rect x="1237.65" y="894.45" width="31.89" height="33.1" fill="#f7f5f4"/>
<rect x="1268.93" y="894.45" width="31.89" height="33.1" fill="#f9efe9"/>
<rect x="1300.22" y="894.45" width="31.89" height="33.1" fill="#f0f4f6"/>
<rect x="1331.51" y="894.45" width="31.89" height="33.1" fill="#f2f5f6"/>
<rect x="1362.79" y="894.45" width="31.89" height="33.1" fill="#f8f4f2"/>
<rect x="1394.08" y="894.45" width="31.89" height="33.1" fill="#f5f6f7"/>
<rect x="1425.37" y="894.45" width="31.89" height="33.1" fill="#f8f1ed"/>
<rect x="1456.65" y="894.45" width="31.89" height="33.1" fill="#f5f6f7"/>
<rect x="1487.94" y="894.45" width="31.89" height="33.1" fill="#f8f4f2"/>
<rect x="1519.23" y="894.45" width="31.89" height="33.1" fill="#edf2f5"/>
<rect x="1550.51" y="894.45" width="31.89" height="33.1" fill="#f6f7f7"/>
<rect x="173.9" y="926.95" width="31.89" height="33.1" fill="#f3f5f6"/>
<rect x="205.19" y="926.95" width="31.89" height="33.1" fill="#eaf1f5"/>
<rect x="236.47" y="926.95" width="31.89" height="33.1" fill="#edf2f5"/>
<rect x="267.76" y="926.95" width="31.89" height="33.1" fill="#f7f5f4"/>
<rect x="299.05" y="926.95" width="31.89" height="33.1" fill="#f3f5f6"/>
<rect x="330.33" y="926.95" width="31.89" height="33.1" fill="#f2f5f6"/>
<rect x="361.62" y="926.95" width="31.89" height="33.1" fill="#f5f6f7"/>
<rect x="392.91" y="926.95" width="31.89" height="33.1" fill="#f0f4f6"/>
<rect x="424.19" y="926.95" width="31.89" height="33.1" fill="#e9f0f4"/>
<rect x="455.48" y="926.95" width="31.89" height="33.1" fill="#f8f4f2"/>
<rect x="486.77" y="926.95" width="63.17" height="33.1" fill="#f7f6f6"/>
<rect x="549.34" y="926.95" width="31.89" height="33.1" fill="#f9ebe3"/>
<rect x="580.63" y="926.95" width="31.89" height="33.1" fill="#f9ede5"/>
<rect x="611.91" y="926.95" width="31.89" height="33.1" fill="#f9ebe3"/>
<rect x="643.2" y="926.95" width="31.89" height="33.1" fill="#f8f2ef"/>
<rect x="674.49" y="926.95" width="31.89" height="33.1" fill="#ecf2f5"/>
<rect x="705.77" y="926.95" width="31.89" height="33.1" fill="#e7f0f4"/>
<rect x="737.06" y="926.95" width="31.89" height="33.1" fill="#f7f5f4"/>
<rect x="768.35" y="926.95" width="31.89" height="33.1" fill="#f8f4f2"/>
<rect x="799.63" y="926.95" width="31.89" height="33.1" fill="#f9c6ac"/>
<rect x="830.92" y="926.95" width="31.89" height="33.1" fill="#fce2d2"/>
<rect x="862.21" y="926.95" width="31.89" height="33.1" fill="#ef9979"/>
<rect x="893.49" y="926.95" width="31.89" height="33.1" fill="#f3a481"/>
<rect x="924.78" y="926.95" width="31.89" height="33.1" fill="#67001f"/>
<rect x="956.07" y="926.95" width="31.89" height="33.1" fill="#f5ac8b"/>
<rect x="987.35" y="926.95" width="31.89" height="33.1" fill="#f8bb9e"/>
<rect x="1018.64" y="926.95" width="31.89" height="33.1" fill="#f9c2a7"/>
<rect x="1049.93" y="926.95" width="31.89" height="33.1" fill="#fddcc9"/>
<rect x="1081.21" y="926.95" width="31.89" height="33.1" fill="#f9f0eb"/>
<rect x="1112.5" y="926.95" width="31.89" height="33.1" fill="#f8f3f0"/>
<rect x="1143.79" y="926.95" width="31.89" height="33.1" fill="#f9efe9"/>
<rect x="1175.07" y="926.95" width="31.89" height="33.1" fill="#f9ede5"/>
<rect x="1206.36" y="926.95" width="31.89" height="33.1" fill="#f7f6f6"/>
<rect x="1237.65" y="926.95" width="31.89" height="33.1" fill="#f8f2ef"/>
<rect x="1268.93" y="926.95" width="31.89" height="33.1" fill="#f5f6f7"/>
<rect x="1300.22" y="926.95" width="31.89" height="33.1" fill="#f9f0eb"/>
<rect x="1331.51" y="926.95" width="31.89" height="33.1" fill="#f8f3f0"/>
<rect x="1362.79" y="926.95" width="31.89" height="33.1" fill="#f7f5f4"/>
<rect x="1394.08" y="926.95" width="31.89" height="33.1" fill="#f9f0eb"/>
<rect x="1425.37" y="926.95" width="31.89" height="33.1" fill="#f7f5f4"/>
<rect x="1456.65" y="926.95" width="31.89" height="33.1" fill="#f0f4f6"/>
<rect x="1487.94" y="926.95" width="31.89" height="33.1" fill="#f9eee7"/>
<rect x="1519.23" y="926.95" width="63.17" height="33.1" fill="#f3f5f6"/>
<rect x="173.9" y="959.46" width="31.89" height="33.1" fill="#f3f5f6"/>
<rect x="205.19" y="959.46" width="31.89" height="33.1" fill="#f8f3f0"/>
<rect x="236.47" y="959.46" width="31.89" height="33.1" fill="#f7f6f6"/>
<rect x="267.76" y="959.46" width="31.89" height="33.1" fill="#f5f6f7"/>
<rect x="299.05" y="959.46" width="31.89" height="33.1" fill="#f8f2ef"/>
<rect x="330.33" y="959.46" width="31.89" height="33.1" fill="#f7f5f4"/>
<rect x="361.62" y="959.46" width="31.89" height="33.1" fill="#faeae1"/>
<rect x="392.91" y="959.46" width="31.89" height="33.1" fill="#f8f1ed"/>
<rect x="424.19" y="959.46" width="31.89" height="33.1" fill="#f3f5f6"/>
<rect x="455.48" y="959.46" width="31.89" height="33.1" fill="#eff3f5"/>
<rect x="486.77" y="959.46" width="31.89" height="33.1" fill="#f8f1ed"/>
<rect x="518.05" y="959.46" width="31.89" height="33.1" fill="#f7f6f6"/>
<rect x="549.34" y="959.46" width="31.89" height="33.1" fill="#f9f0eb"/>
<rect x="580.63" y="959.46" width="31.89" height="33.1" fill="#f6f7f7"/>
<rect x="611.91" y="959.46" width="31.89" height="33.1" fill="#f7f6f6"/>
<rect x="643.2" y="959.46" width="31.89" height="33.1" fill="#f8f2ef"/>
<rect x="674.49" y="959.46" width="31.89" height="33.1" fill="#f5f6f7"/>
<rect x="705.77" y="959.46" width="31.89" height="33.1" fill="#f8f2ef"/>
<rect x="737.06" y="959.46" width="31.89" height="33.1" fill="#f7f6f6"/>
<rect x="768.35" y="959.46" width="31.89" height="33.1" fill="#f9f0eb"/>
<rect x="799.63" y="959.46" width="31.89" height="33.1" fill="#eff3f5"/>
<rect x="830.92" y="959.46" width="31.89" height="33.1" fill="#fdddcb"/>
<rect x="862.21" y="959.46" width="31.89" height="33.1" fill="#fbccb4"/>
<rect x="893.49" y="959.46" width="31.89" height="33.1" fill="#f3a481"/>
<rect x="924.78" y="959.46" width="31.89" height="33.1" fill="#f5ac8b"/>
<rect x="956.07" y="959.46" width="31.89" height="33.1" fill="#67001f"/>
<rect x="987.35" y="959.46" width="31.89" height="33.1" fill="#f5ac8b"/>
<rect x="1018.64" y="959.46" width="31.89" height="33.1" fill="#f8bb9e"/>
<rect x="1049.93" y="959.46" width="31.89" height="33.1" fill="#fddcc9"/>
<rect x="1081.21" y="959.46" width="31.89" height="33.1" fill="#f8bda1"/>
<rect x="1112.5" y="959.46" width="31.89" height="33.1" fill="#f7f6f6"/>
<rect x="1143.79" y="959.46" width="31.89" height="33.1" fill="#f5f6f7"/>
<rect x="1175.07" y="959.46" width="31.89" height="33.1" fill="#eff3f5"/>
<rect x="1206.36" y="959.46" width="31.89" height="33.1" fill="#f7f6f6"/>
<rect x="1237.65" y="959.46" width="31.89" height="33.1" fill="#e3edf3"/>
<rect x="1268.93" y="959.46" width="31.89" height="33.1" fill="#f8f3f0"/>
<rect x="1300.22" y="959.46" width="31.89" height="33.1" fill="#f5f6f7"/>
<rect x="1331.51" y="959.46" width="31.89" height="33.1" fill="#f7f5f4"/>
<rect x="1362.79" y="959.46" width="94.46" height="33.1" fill="#f8f4f2"/>
<rect x="1456.65" y="959.46" width="31.89" height="33.1" fill="#f9eee7"/>
<rect x="1487.94" y="959.46" width="31.89" height="33.1" fill="#f5f6f7"/>
<rect x="1519.23" y="959.46" width="31.89" height="33.1" fill="#f8f4f2"/>
<rect x="1550.51" y="959.46" width="31.89" height="33.1" fill="#f6f7f7"/>
<rect x="173.9" y="991.96" width="31.89" height="33.1" fill="#f8f3f0"/>
<rect x="205.19" y="991.96" width="31.89" height="33.1" fill="#e9f0f4"/>
<rect x="236.47" y="991.96" width="31.89" height="33.1" fill="#f6f7f7"/>
<rect x="267.76" y="991.96" width="31.89" height="33.1" fill="#f5f6f7"/>
<rect x="299.05" y="991.96" width="31.89" height="33.1" fill="#f8f2ef"/>
<rect x="330.33" y="991.96" width="31.89" height="33.1" fill="#f0f4f6"/>
<rect x="361.62" y="991.96" width="31.89" height="33.1" fill="#fae9df"/>
<rect x="392.91" y="991.96" width="31.89" height="33.1" fill="#ecf2f5"/>
<rect x="424.19" y="991.96" width="31.89" height="33.1" fill="#f9efe9"/>
<rect x="455.48" y="991.96" width="31.89" height="33.1" fill="#f8f1ed"/>
<rect x="486.77" y="991.96" width="31.89" height="33.1" fill="#f8f2ef"/>
<rect x="518.05" y="991.96" width="31.89" height="33.1" fill="#f9efe9"/>
<rect x="549.34" y="991.96" width="31.89" height="33.1" fill="#f9ebe3"/>
<rect x="580.63" y="991.96" width="31.89" height="33.1" fill="#f9efe9"/>
<rect x="611.91" y="991.96" width="31.89" height="33.1" fill="#f2f5f6"/>
<rect x="643.2" y="991.96" width="31.89" height="33.1" fill="#f9f0eb"/>
<rect x="674.49" y="991.96" width="31.89" height="33.1" fill="#f8f3f0"/>
<rect x="705.77" y="991.96" width="31.89" height="33.1" fill="#f6f7f7"/>
<rect x="737.06" y="991.96" width="31.89" height="33.1" fill="#f8f1ed"/>
<rect x="768.35" y="991.96" width="31.89" height="33.1" fill="#eff3f5"/>
<rect x="799.63" y="991.96" width="31.89" height="33.1" fill="#f5f6f7"/>
<rect x="830.92" y="991.96" width="31.89" height="33.1" fill="#edf2f5"/>
<rect x="862.21" y="991.96" width="31.89" height="33.1" fill="#fddcc9"/>
<rect x="893.49" y="991.96" width="31.89" height="33.1" fill="#fddbc7"/>
<rect x="924.78" y="991.96" width="31.89" height="33.1" fill="#f8bb9e"/>
<rect x="956.07" y="991.96" width="31.89" height="33.1" fill="#f5ac8b"/>
<rect x="987.35" y="991.96" width="31.89" height="33.1" fill="#67001f"/>
<rect x="1018.64" y="991.96" width="31.89" height="33.1" fill="#ef9979"/>
<rect x="1049.93" y="991.96" width="31.89" height="33.1" fill="#f8bfa4"/>
<rect x="1081.21" y="991.96" width="31.89" height="33.1" fill="#f7b596"/>
<rect x="1112.5" y="991.96" width="31.89" height="33.1" fill="#fddcc9"/>
<rect x="1143.79" y="991.96" width="31.89" height="33.1" fill="#f7f5f4"/>
<rect x="1175.07" y="991.96" width="31.89" height="33.1" fill="#f2f5f6"/>
<rect x="1206.36" y="991.96" width="31.89" height="33.1" fill="#f5f6f7"/>
<rect x="1237.65" y="991.96" width="63.17" height="33.1" fill="#f8f4f2"/>
<rect x="1300.22" y="991.96" width="31.89" height="33.1" fill="#f2f5f6"/>
<rect x="1331.51" y="991.96" width="31.89" height="33.1" fill="#f5f6f7"/>
<rect x="1362.79" y="991.96" width="31.89" height="33.1" fill="#edf2f5"/>
<rect x="1394.08" y="991.96" width="31.89" height="33.1" fill="#f8f2ef"/>
<rect x="1425.37" y="991.96" width="31.89" height="33.1" fill="#ecf2f5"/>
<rect x="1456.65" y="991.96" width="31.89" height="33.1" fill="#f9f0eb"/>
<rect x="1487.94" y="991.96" width="31.89" height="33.1" fill="#f8f4f2"/>
<rect x="1519.23" y="991.96" width="31.89" height="33.1" fill="#f9efe9"/>
<rect x="1550.51" y="991.96" width="31.89" height="33.1" fill="#f9eee7"/>
<rect x="173.9" y="1024.46" width="31.89" height="33.1" fill="#eaf1f5"/>
<rect x="205.19" y="1024.46" width="31.89" height="33.1" fill="#f7f5f4"/>
<rect x="236.47" y="1024.46" width="31.89" height="33.1" fill="#eff3f5"/>
<rect x="267.76" y="1024.46" width="63.17" height="33.1" fill="#f8f3f0"/>
<rect x="330.33" y="1024.46" width="31.89" height="33.1" fill="#f8f4f2"/>
<rect x="361.62" y="1024.46" width="31.89" height="33.1" fill="#f8f2ef"/>
<rect x="392.91" y="1024.46" width="31.89" height="33.1" fill="#f0f4f6"/>
<rect x="424.19" y="1024.46" width="31.89" height="33.1" fill="#f2f5f6"/>
<rect x="455.48" y="1024.46" width="31.89" height="33.1" fill="#f7f5f4"/>
<rect x="486.77" y="1024.46" width="31.89" height="33.1" fill="#f2f5f6"/>
<rect x="518.05" y="1024.46" width="31.89" height="33.1" fill="#f6f7f7"/>
<rect x="549.34" y="1024.46" width="31.89" height="33.1" fill="#f8f3f0"/>
<rect x="580.63" y="1024.46" width="31.89" height="33.1" fill="#f8f4f2"/>
<rect x="611.91" y="1024.46" width="31.89" height="33.1" fill="#f7f5f4"/>
<rect x="643.2" y="1024.46" width="31.89" height="33.1" fill="#f9efe9"/>
<rect x="674.49" y="1024.46" width="31.89" height="33.1" fill="#f9f0eb"/>
<rect x="705.77" y="1024.46" width="63.17" height="33.1" fill="#f8f1ed"/>
<rect x="768.35" y="1024.46" width="31.89" height="33.1" fill="#eff3f5"/>
<rect x="799.63" y="1024.46" width="63.17" height="33.1" fill="#f8f1ed"/>
<rect x="862.21" y="1024.46" width="31.89" height="33.1" fill="#eff3f5"/>
<rect x="893.49" y="1024.46" width="31.89" height="33.1" fill="#f9c6ac"/>
<rect x="924.78" y="1024.46" width="31.89" height="33.1" fill="#f9c2a7"/>
<rect x="956.07" y="1024.46" width="31.89" height="33.1" fill="#f8bb9e"/>
<rect x="987.35" y="1024.46" width="31.89" height="33.1" fill="#ef9979"/>
<rect x="1018.64" y="1024.46" width="31.89" height="33.1" fill="#67001f"/>
<rect x="1049.93" y="1024.46" width="31.89" height="33.1" fill="#f3a481"/>
<rect x="1081.21" y="1024.46" width="31.89" height="33.1" fill="#f8bb9e"/>
<rect x="1112.5" y="1024.46" width="31.89" height="33.1" fill="#fac8af"/>
<rect x="1143.79" y="1024.46" width="31.89" height="33.1" fill="#fcd5bf"/>
<rect x="1175.07" y="1024.46" width="63.17" height="33.1" fill="#f3f5f6"/>
<rect x="1237.65" y="1024.46" width="31.89" height="33.1" fill="#edf2f5"/>
<rect x="1268.93" y="1024.46" width="31.89" height="33.1" fill="#f5f6f7"/>
<rect x="1300.22" y="1024.46" width="31.89" height="33.1" fill="#f8f3f0"/>
<rect x="1331.51" y="1024.46" width="31.89" height="33.1" fill="#f2f5f6"/>
<rect x="1362.79" y="1024.46" width="31.89" height="33.1" fill="#f8f4f2"/>
<rect x="1394.08" y="1024.46" width="31.89" height="33.1" fill="#f7f5f4"/>
<rect x="1425.37" y="1024.46" width="31.89" height="33.1" fill="#eaf1f5"/>
<rect x="1456.65" y="1024.46" width="63.17" height="33.1" fill="#f8f4f2"/>
<rect x="1519.23" y="1024.46" width="31.89" height="33.1" fill="#f6f7f7"/>
<rect x="1550.51" y="1024.46" width="31.89" height="33.1" fill="#f8f1ed"/>
<rect x="173.9" y="1056.96" width="31.89" height="33.1" fill="#f9f0eb"/>
<rect x="205.19" y="1056.96" width="31.89" height="33.1" fill="#faeae1"/>
<rect x="236.47" y="1056.96" width="31.89" height="33.1" fill="#f6f7f7"/>
<rect x="267.76" y="1056.96" width="31.89" height="33.1" fill="#f5f6f7"/>
<rect x="299.05" y="1056.96" width="31.89" height="33.1" fill="#f3f5f6"/>
<rect x="330.33" y="1056.96" width="31.89" height="33.1" fill="#f8f3f0"/>
<rect x="361.62" y="1056.96" width="31.89" height="33.1" fill="#f9eee7"/>
<rect x="392.91" y="1056.96" width="31.89" height="33.1" fill="#eff3f5"/>
<rect x="424.19" y="1056.96" width="31.89" height="33.1" fill="#f7f6f6"/>
<rect x="455.48" y="1056.96" width="31.89" height="33.1" fill="#f8f1ed"/>
<rect x="486.77" y="1056.96" width="31.89" height="33.1" fill="#f2f5f6"/>
<rect x="518.05" y="1056.96" width="31.89" height="33.1" fill="#f3f5f6"/>
<rect x="549.34" y="1056.96" width="31.89" height="33.1" fill="#f8f1ed"/>
<rect x="580.63" y="1056.96" width="31.89" height="33.1" fill="#f5f6f7"/>
<rect x="611.91" y="1056.96" width="31.89" height="33.1" fill="#f8f1ed"/>
<rect x="643.2" y="1056.96" width="31.89" height="33.1" fill="#f0f4f6"/>
<rect x="674.49" y="1056.96" width="31.89" height="33.1" fill="#f8f4f2"/>
<rect x="705.77" y="1056.96" width="31.89" height="33.1" fill="#f0f4f6"/>
<rect x="737.06" y="1056.96" width="63.17" height="33.1" fill="#f8f4f2"/>
<rect x="799.63" y="1056.96" width="31.89" height="33.1" fill="#f9f0eb"/>
<rect x="830.92" y="1056.96" width="31.89" height="33.1" fill="#f5f6f7"/>
<rect x="862.21" y="1056.96" width="31.89" height="33.1" fill="#f9f0eb"/>
<rect x="893.49" y="1056.96" width="31.89" height="33.1" fill="#f5f6f7"/>
<rect x="924.78" y="1056.96" width="63.17" height="33.1" fill="#fddcc9"/>
<rect x="987.35" y="1056.96" width="31.89" height="33.1" fill="#f8bfa4"/>
<rect x="1018.64" y="1056.96" width="31.89" height="33.1" fill="#f3a481"/>
<rect x="1049.93" y="1056.96" width="31.89" height="33.1" fill="#67001f"/>
<rect x="1081.21" y="1056.96" width="31.89" height="33.1" fill="#f3a481"/>
<rect x="1112.5" y="1056.96" width="31.89" height="33.1" fill="#f7b596"/>
<rect x="1143.79" y="1056.96" width="31.89" height="33.1" fill="#f8bb9e"/>
<rect x="1175.07" y="1056.96" width="31.89" height="33.1" fill="#fddbc7"/>
<rect x="1206.36" y="1056.96" width="31.89" height="33.1" fill="#f2f5f6"/>
<rect x="1237.65" y="1056.96" width="31.89" height="33.1" fill="#f8f3f0"/>
<rect x="1268.93" y="1056.96" width="31.89" height="33.1" fill="#f5f6f7"/>
<rect x="1300.22" y="1056.96" width="31.89" height="33.1" fill="#f8f3f0"/>
<rect x="1331.51" y="1056.96" width="63.17" height="33.1" fill="#eff3f5"/>
<rect x="1394.08" y="1056.96" width="31.89" height="33.1" fill="#f9ebe3"/>
<rect x="1425.37" y="1056.96" width="31.89" height="33.1" fill="#f2f5f6"/>
<rect x="1456.65" y="1056.96" width="31.89" height="33.1" fill="#ecf2f5"/>
<rect x="1487.94" y="1056.96" width="31.89" height="33.1" fill="#f8f4f2"/>
<rect x="1519.23" y="1056.96" width="31.89" height="33.1" fill="#f8f1ed"/>
<rect x="1550.51" y="1056.96" width="31.89" height="33.1" fill="#f5f6f7"/>
<rect x="173.9" y="1089.46" width="31.89" height="33.1" fill="#f5f6f7"/>
<rect x="205.19" y="1089.46" width="63.17" height="33.1" fill="#f9f0eb"/>
<rect x="267.76" y="1089.46" width="31.89" height="33.1" fill="#f8f2ef"/>
<rect x="299.05" y="1089.46" width="31.89" height="33.1" fill="#f6f7f7"/>
<rect x="330.33" y="1089.46" width="31.89" height="33.1" fill="#f7f6f6"/>
<rect x="361.62" y="1089.46" width="31.89" height="33.1" fill="#f7f5f4"/>
<rect x="392.91" y="1089.46" width="31.89" height="33.1" fill="#f5f6f7"/>
<rect x="424.19" y="1089.46" width="31.89" height="33.1" fill="#f8f2ef"/>
<rect x="455.48" y="1089.46" width="31.89" height="33.1" fill="#f7f5f4"/>
<rect x="486.77" y="1089.46" width="31.89" height="33.1" fill="#f3f5f6"/>
<rect x="518.05" y="1089.46" width="31.89" height="33.1" fill="#f5f6f7"/>
<rect x="549.34" y="1089.46" width="31.89" height="33.1" fill="#f9efe9"/>
<rect x="580.63" y="1089.46" width="31.89" height="33.1" fill="#edf2f5"/>
<rect x="611.91" y="1089.46" width="31.89" height="33.1" fill="#eff3f5"/>
<rect x="643.2" y="1089.46" width="31.89" height="33.1" fill="#f7f5f4"/>
<rect x="674.49" y="1089.46" width="31.89" height="33.1" fill="#f3f5f6"/>
<rect x="705.77" y="1089.46" width="31.89" height="33.1" fill="#f8f4f2"/>
<rect x="737.06" y="1089.46" width="31.89" height="33.1" fill="#f7f6f6"/>
<rect x="768.35" y="1089.46" width="31.89" height="33.1" fill="#f8f4f2"/>
<rect x="799.63" y="1089.46" width="63.17" height="33.1" fill="#eff3f5"/>
<rect x="862.21" y="1089.46" width="31.89" height="33.1" fill="#f8f4f2"/>
<rect x="893.49" y="1089.46" width="31.89" height="33.1" fill="#eff3f5"/>
<rect x="924.78" y="1089.46" width="31.89" height="33.1" fill="#f9f0eb"/>
<rect x="956.07" y="1089.46" width="31.89" height="33.1" fill="#f8bda1"/>
<rect x="987.35" y="1089.46" width="31.89" height="33.1" fill="#f7b596"/>
<rect x="1018.64" y="1089.46" width="31.89" height="33.1" fill="#f8bb9e"/>
<rect x="1049.93" y="1089.46" width="31.89" height="33.1" fill="#f3a481"/>
<rect x="1081.21" y="1089.46" width="31.89" height="33.1" fill="#67001f"/>
<rect x="1112.5" y="1089.46" width="31.89" height="33.1" fill="#eb9172"/>
<rect x="1143.79" y="1089.46" width="31.89" height="33.1" fill="#f8bda1"/>
<rect x="1175.07" y="1089.46" width="31.89" height="33.1" fill="#f9c2a7"/>
<rect x="1206.36" y="1089.46" width="31.89" height="33.1" fill="#fcd5bf"/>
<rect x="1237.65" y="1089.46" width="31.89" height="33.1" fill="#f7f6f6"/>
<rect x="1268.93" y="1089.46" width="31.89" height="33.1" fill="#f5f6f7"/>
<rect x="1300.22" y="1089.46" width="31.89" height="33.1" fill="#f8f1ed"/>
<rect x="1331.51" y="1089.46" width="31.89" height="33.1" fill="#f7f6f6"/>
<rect x="1362.79" y="1089.46" width="31.89" height="33.1" fill="#f9efe9"/>
<rect x="1394.08" y="1089.46" width="31.89" height="33.1" fill="#f7f5f4"/>
<rect x="1425.37" y="1089.46" width="63.17" height="33.1" fill="#f2f5f6"/>
<rect x="1487.94" y="1089.46" width="31.89" height="33.1" fill="#f3f5f6"/>
<rect x="1519.23" y="1089.46" width="31.89" height="33.1" fill="#f8f4f2"/>
<rect x="1550.51" y="1089.46" width="31.89" height="33.1" fill="#f6f7f7"/>
<rect x="173.9" y="1121.97" width="31.89" height="33.1" fill="#f3f5f6"/>
<rect x="205.19" y="1121.97" width="31.89" height="33.1" fill="#f0f4f6"/>
<rect x="236.47" y="1121.97" width="31.89" height="33.1" fill="#f5f6f7"/>
<rect x="267.76" y="1121.97" width="31.89" height="33.1" fill="#f8f2ef"/>
<rect x="299.05" y="1121.97" width="31.89" height="33.1" fill="#f7f6f6"/>
<rect x="330.33" y="1121.97" width="31.89" height="33.1" fill="#f9efe9"/>
<rect x="361.62" y="1121.97" width="31.89" height="33.1" fill="#f6f7f7"/>
<rect x="392.91" y="1121.97" width="31.89" height="33.1" fill="#f2f5f6"/>
<rect x="424.19" y="1121.97" width="31.89" height="33.1" fill="#f7f6f6"/>
<rect x="455.48" y="1121.97" width="31.89" height="33.1" fill="#eff3f5"/>
<rect x="486.77" y="1121.97" width="31.89" height="33.1" fill="#f8f2ef"/>
<rect x="518.05" y="1121.97" width="31.89" height="33.1" fill="#f9efe9"/>
<rect x="549.34" y="1121.97" width="31.89" height="33.1" fill="#f7f6f6"/>
<rect x="580.63" y="1121.97" width="31.89" height="33.1" fill="#f3f5f6"/>
<rect x="611.91" y="1121.97" width="31.89" height="33.1" fill="#edf2f5"/>
<rect x="643.2" y="1121.97" width="31.89" height="33.1" fill="#f9f0eb"/>
<rect x="674.49" y="1121.97" width="31.89" height="33.1" fill="#f8f2ef"/>
<rect x="705.77" y="1121.97" width="31.89" height="33.1" fill="#f7f5f4"/>
<rect x="737.06" y="1121.97" width="31.89" height="33.1" fill="#f8f2ef"/>
<rect x="768.35" y="1121.97" width="31.89" height="33.1" fill="#f8f1ed"/>
<rect x="799.63" y="1121.97" width="31.89" height="33.1" fill="#f5f6f7"/>
<rect x="830.92" y="1121.97" width="31.89" height="33.1" fill="#f8f4f2"/>
<rect x="862.21" y="1121.97" width="31.89" height="33.1" fill="#eff3f5"/>
<rect x="893.49" y="1121.97" width="31.89" height="33.1" fill="#ecf2f5"/>
<rect x="924.78" y="1121.97" width="31.89" height="33.1" fill="#f8f3f0"/>
<rect x="956.07" y="1121.97" width="31.89" height="33.1" fill="#f7f6f6"/>
<rect x="987.35" y="1121.97" width="31.89" height="33.1" fill="#fddcc9"/>
<rect x="1018.64" y="1121.97" width="31.89" height="33.1" fill="#fac8af"/>
<rect x="1049.93" y="1121.97" width="31.89" height="33.1" fill="#f7b596"/>
<rect x="1081.21" y="1121.97" width="31.89" height="33.1" fill="#eb9172"/>
<rect x="1112.5" y="1121.97" width="31.89" height="33.1" fill="#67001f"/>
<rect x="1143.79" y="1121.97" width="31.89" height="33.1" fill="#f5ac8b"/>
<rect x="1175.07" y="1121.97" width="31.89" height="33.1" fill="#f19e7d"/>
<rect x="1206.36" y="1121.97" width="63.17" height="33.1" fill="#facab1"/>
<rect x="1268.93" y="1121.97" width="31.89" height="33.1" fill="#f5f6f7"/>
<rect x="1300.22" y="1121.97" width="31.89" height="33.1" fill="#f8f3f0"/>
<rect x="1331.51" y="1121.97" width="31.89" height="33.1" fill="#f9eee7"/>
<rect x="1362.79" y="1121.97" width="31.89" height="33.1" fill="#f5f6f7"/>
<rect x="1394.08" y="1121.97" width="31.89" height="33.1" fill="#edf2f5"/>
<rect x="1425.37" y="1121.97" width="31.89" height="33.1" fill="#f5f6f7"/>
<rect x="1456.65" y="1121.97" width="63.17" height="33.1" fill="#f7f6f6"/>
<rect x="1519.23" y="1121.97" width="31.89" height="33.1" fill="#f9efe9"/>
<rect x="1550.51" y="1121.97" width="31.89" height="33.1" fill="#edf2f5"/>
<rect x="173.9" y="1154.47" width="31.89" height="33.1" fill="#f9f0eb"/>
<rect x="205.19" y="1154.47" width="31.89" height="33.1" fill="#f3f5f6"/>
<rect x="236.47" y="1154.47" width="31.89" height="33.1" fill="#eff3f5"/>
<rect x="267.76" y="1154.47" width="31.89" height="33.1" fill="#f3f5f6"/>
<rect x="299.05" y="1154.47" width="31.89" height="33.1" fill="#f8f4f2"/>
<rect x="330.33" y="1154.47" width="63.17" height="33.1" fill="#f7f5f4"/>
<rect x="392.91" y="1154.47" width="31.89" height="33.1" fill="#f2f5f6"/>
<rect x="424.19" y="1154.47" width="31.89" height="33.1" fill="#f9efe9"/>
<rect x="455.48" y="1154.47" width="31.89" height="33.1" fill="#f6f7f7"/>
<rect x="486.77" y="1154.47" width="31.89" height="33.1" fill="#f9ede5"/>
<rect x="518.05" y="1154.47" width="31.89" height="33.1" fill="#faeae1"/>
<rect x="549.34" y="1154.47" width="31.89" height="33.1" fill="#f8f1ed"/>
<rect x="580.63" y="1154.47" width="31.89" height="33.1" fill="#f8f4f2"/>
<rect x="611.91" y="1154.47" width="31.89" height="33.1" fill="#edf2f5"/>
<rect x="643.2" y="1154.47" width="31.89" height="33.1" fill="#f9eee7"/>
<rect x="674.49" y="1154.47" width="31.89" height="33.1" fill="#f8f4f2"/>
<rect x="705.77" y="1154.47" width="31.89" height="33.1" fill="#f9f0eb"/>
<rect x="737.06" y="1154.47" width="63.17" height="33.1" fill="#f2f5f6"/>
<rect x="799.63" y="1154.47" width="63.17" height="33.1" fill="#f3f5f6"/>
<rect x="862.21" y="1154.47" width="31.89" height="33.1" fill="#f2f5f6"/>
<rect x="893.49" y="1154.47" width="31.89" height="33.1" fill="#f8f1ed"/>
<rect x="924.78" y="1154.47" width="31.89" height="33.1" fill="#f9efe9"/>
<rect x="956.07" y="1154.47" width="31.89" height="33.1" fill="#f5f6f7"/>
<rect x="987.35" y="1154.47" width="31.89" height="33.1" fill="#f7f5f4"/>
<rect x="1018.64" y="1154.47" width="31.89" height="33.1" fill="#fcd5bf"/>
<rect x="1049.93" y="1154.47" width="31.89" height="33.1" fill="#f8bb9e"/>
<rect x="1081.21" y="1154.47" width="31.89" height="33.1" fill="#f8bda1"/>
<rect x="1112.5" y="1154.47" width="31.89" height="33.1" fill="#f5ac8b"/>
<rect x="1143.79" y="1154.47" width="31.89" height="33.1" fill="#67001f"/>
<rect x="1175.07" y="1154.47" width="31.89" height="33.1" fill="#f5ac8b"/>
<rect x="1206.36" y="1154.47" width="31.89" height="33.1" fill="#f5a886"/>
<rect x="1237.65" y="1154.47" width="31.89" height="33.1" fill="#facab1"/>
<rect x="1268.93" y="1154.47" width="31.89" height="33.1" fill="#fbccb4"/>
<rect x="1300.22" y="1154.47" width="31.89" height="33.1" fill="#f7f6f6"/>
<rect x="1331.51" y="1154.47" width="31.89" height="33.1" fill="#ecf2f5"/>
<rect x="1362.79" y="1154.47" width="31.89" height="33.1" fill="#f5f6f7"/>
<rect x="1394.08" y="1154.47" width="31.89" height="33.1" fill="#f7f5f4"/>
<rect x="1425.37" y="1154.47" width="31.89" height="33.1" fill="#f9eee7"/>
<rect x="1456.65" y="1154.47" width="31.89" height="33.1" fill="#f9f0eb"/>
<rect x="1487.94" y="1154.47" width="31.89" height="33.1" fill="#f8f1ed"/>
<rect x="1519.23" y="1154.47" width="31.89" height="33.1" fill="#eff3f5"/>
<rect x="1550.51" y="1154.47" width="31.89" height="33.1" fill="#f3f5f6"/>
<rect x="173.9" y="1186.97" width="31.89" height="33.1" fill="#e4eef4"/>
<rect x="205.19" y="1186.97" width="31.89" height="33.1" fill="#f5f6f7"/>
<rect x="236.47" y="1186.97" width="31.89" height="33.1" fill="#f8f2ef"/>
<rect x="267.76" y="1186.97" width="31.89" height="33.1" fill="#f8f1ed"/>
<rect x="299.05" y="1186.97" width="63.17" height="33.1" fill="#f5f6f7"/>
<rect x="361.62" y="1186.97" width="31.89" height="33.1" fill="#f7f5f4"/>
<rect x="392.91" y="1186.97" width="31.89" height="33.1" fill="#f8f2ef"/>
<rect x="424.19" y="1186.97" width="31.89" height="33.1" fill="#f3f5f6"/>
<rect x="455.48" y="1186.97" width="31.89" height="33.1" fill="#f8f2ef"/>
<rect x="486.77" y="1186.97" width="31.89" height="33.1" fill="#f7f5f4"/>
<rect x="518.05" y="1186.97" width="94.46" height="33.1" fill="#f6f7f7"/>
<rect x="611.91" y="1186.97" width="31.89" height="33.1" fill="#f9f0eb"/>
<rect x="643.2" y="1186.97" width="31.89" height="33.1" fill="#f8f3f0"/>
<rect x="674.49" y="1186.97" width="31.89" height="33.1" fill="#f8f2ef"/>
<rect x="705.77" y="1186.97" width="31.89" height="33.1" fill="#f8f3f0"/>
<rect x="737.06" y="1186.97" width="31.89" height="33.1" fill="#f9f0eb"/>
<rect x="768.35" y="1186.97" width="94.46" height="33.1" fill="#f8f1ed"/>
<rect x="862.21" y="1186.97" width="31.89" height="33.1" fill="#f8f3f0"/>
<rect x="893.49" y="1186.97" width="31.89" height="33.1" fill="#ecf2f5"/>
<rect x="924.78" y="1186.97" width="31.89" height="33.1" fill="#f9ede5"/>
<rect x="956.07" y="1186.97" width="31.89" height="33.1" fill="#eff3f5"/>
<rect x="987.35" y="1186.97" width="31.89" height="33.1" fill="#f2f5f6"/>
<rect x="1018.64" y="1186.97" width="31.89" height="33.1" fill="#f3f5f6"/>
<rect x="1049.93" y="1186.97" width="31.89" height="33.1" fill="#fddbc7"/>
<rect x="1081.21" y="1186.97" width="31.89" height="33.1" fill="#f9c2a7"/>
<rect x="1112.5" y="1186.97" width="31.89" height="33.1" fill="#f19e7d"/>
<rect x="1143.79" y="1186.97" width="31.89" height="33.1" fill="#f5ac8b"/>
<rect x="1175.07" y="1186.97" width="31.89" height="33.1" fill="#67001f"/>
<rect x="1206.36" y="1186.97" width="31.89" height="33.1" fill="#ef9979"/>
<rect x="1237.65" y="1186.97" width="31.89" height="33.1" fill="#facab1"/>
<rect x="1268.93" y="1186.97" width="31.89" height="33.1" fill="#f7b799"/>
<rect x="1300.22" y="1186.97" width="31.89" height="33.1" fill="#fcd5bf"/>
<rect x="1331.51" y="1186.97" width="31.89" height="33.1" fill="#f7f6f6"/>
<rect x="1362.79" y="1186.97" width="31.89" height="33.1" fill="#f9efe9"/>
<rect x="1394.08" y="1186.97" width="31.89" height="33.1" fill="#f0f4f6"/>
<rect x="1425.37" y="1186.97" width="31.89" height="33.1" fill="#eaf1f5"/>
<rect x="1456.65" y="1186.97" width="31.89" height="33.1" fill="#edf2f5"/>
<rect x="1487.94" y="1186.97" width="31.89" height="33.1" fill="#eaf1f5"/>
<rect x="1519.23" y="1186.97" width="31.89" height="33.1" fill="#ecf2f5"/>
<rect x="1550.51" y="1186.97" width="31.89" height="33.1" fill="#f5f6f7"/>
<rect x="173.9" y="1219.47" width="31.89" height="33.1" fill="#f7f6f6"/>
<rect x="205.19" y="1219.47" width="63.17" height="33.1" fill="#f8f4f2"/>
<rect x="267.76" y="1219.47" width="31.89" height="33.1" fill="#f2f5f6"/>
<rect x="299.05" y="1219.47" width="31.89" height="33.1" fill="#f8f1ed"/>
<rect x="330.33" y="1219.47" width="63.17" height="33.1" fill="#f6f7f7"/>
<rect x="392.91" y="1219.47" width="31.89" height="33.1" fill="#f9efe9"/>
<rect x="424.19" y="1219.47" width="63.17" height="33.1" fill="#f8f4f2"/>
<rect x="486.77" y="1219.47" width="31.89" height="33.1" fill="#f7f5f4"/>
<rect x="518.05" y="1219.47" width="31.89" height="33.1" fill="#f8f2ef"/>
<rect x="549.34" y="1219.47" width="31.89" height="33.1" fill="#f9efe9"/>
<rect x="580.63" y="1219.47" width="31.89" height="33.1" fill="#f9ede5"/>
<rect x="611.91" y="1219.47" width="31.89" height="33.1" fill="#f7f5f4"/>
<rect x="643.2" y="1219.47" width="31.89" height="33.1" fill="#f8f4f2"/>
<rect x="674.49" y="1219.47" width="63.17" height="33.1" fill="#f0f4f6"/>
<rect x="737.06" y="1219.47" width="63.17" height="33.1" fill="#f5f6f7"/>
<rect x="799.63" y="1219.47" width="31.89" height="33.1" fill="#f0f4f6"/>
<rect x="830.92" y="1219.47" width="31.89" height="33.1" fill="#f8f4f2"/>
<rect x="862.21" y="1219.47" width="31.89" height="33.1" fill="#f0f4f6"/>
<rect x="893.49" y="1219.47" width="31.89" height="33.1" fill="#f9ede5"/>
<rect x="924.78" y="1219.47" width="63.17" height="33.1" fill="#f7f6f6"/>
<rect x="987.35" y="1219.47" width="31.89" height="33.1" fill="#f5f6f7"/>
<rect x="1018.64" y="1219.47" width="31.89" height="33.1" fill="#f3f5f6"/>
<rect x="1049.93" y="1219.47" width="31.89" height="33.1" fill="#f2f5f6"/>
<rect x="1081.21" y="1219.47" width="31.89" height="33.1" fill="#fcd5bf"/>
<rect x="1112.5" y="1219.47" width="31.89" height="33.1" fill="#facab1"/>
<rect x="1143.79" y="1219.47" width="31.89" height="33.1" fill="#f5a886"/>
<rect x="1175.07" y="1219.47" width="31.89" height="33.1" fill="#ef9979"/>
<rect x="1206.36" y="1219.47" width="31.89" height="33.1" fill="#67001f"/>
<rect x="1237.65" y="1219.47" width="31.89" height="33.1" fill="#e8896c"/>
<rect x="1268.93" y="1219.47" width="31.89" height="33.1" fill="#f5aa89"/>
<rect x="1300.22" y="1219.47" width="31.89" height="33.1" fill="#f9c6ac"/>
<rect x="1331.51" y="1219.47" width="31.89" height="33.1" fill="#fbd0b9"/>
<rect x="1362.79" y="1219.47" width="31.89" height="33.1" fill="#f7f6f6"/>
<rect x="1394.08" y="1219.47" width="31.89" height="33.1" fill="#f9f0eb"/>
<rect x="1425.37" y="1219.47" width="31.89" height="33.1" fill="#f5f6f7"/>
<rect x="1456.65" y="1219.47" width="31.89" height="33.1" fill="#f9eee7"/>
<rect x="1487.94" y="1219.47" width="31.89" height="33.1" fill="#f8f2ef"/>
<rect x="1519.23" y="1219.47" width="31.89" height="33.1" fill="#f8f4f2"/>
<rect x="1550.51" y="1219.47" width="31.89" height="33.1" fill="#edf2f5"/>
<rect x="173.9" y="1251.98" width="31.89" height="33.1" fill="#eaf1f5"/>
<rect x="205.19" y="1251.98" width="31.89" height="33.1" fill="#f0f4f6"/>
<rect x="236.47" y="1251.98" width="63.17" height="33.1" fill="#f7f6f6"/>
<rect x="299.05" y="1251.98" width="31.89" height="33.1" fill="#f3f5f6"/>
<rect x="330.33" y="1251.98" width="31.89" height="33.1" fill="#f9f0eb"/>
<rect x="361.62" y="1251.98" width="31.89" height="33.1" fill="#f8f4f2"/>
<rect x="392.91" y="1251.98" width="31.89" height="33.1" fill="#f7f6f6"/>
<rect x="424.19" y="1251.98" width="31.89" height="33.1" fill="#edf2f5"/>
<rect x="455.48" y="1251.98" width="31.89" height="33.1" fill="#f0f4f6"/>
<rect x="486.77" y="1251.98" width="31.89" height="33.1" fill="#f3f5f6"/>
<rect x="518.05" y="1251.98" width="31.89" height="33.1" fill="#f5f6f7"/>
<rect x="549.34" y="1251.98" width="31.89" height="33.1" fill="#f3f5f6"/>
<rect x="580.63" y="1251.98" width="63.17" height="33.1" fill="#f8f3f0"/>
<rect x="643.2" y="1251.98" width="31.89" height="33.1" fill="#f8f1ed"/>
<rect x="674.49" y="1251.98" width="31.89" height="33.1" fill="#f2f5f6"/>
<rect x="705.77" y="1251.98" width="63.17" height="33.1" fill="#f8f4f2"/>
<rect x="768.35" y="1251.98" width="31.89" height="33.1" fill="#f9f0eb"/>
<rect x="799.63" y="1251.98" width="31.89" height="33.1" fill="#f8f1ed"/>
<rect x="830.92" y="1251.98" width="31.89" height="33.1" fill="#f8f3f0"/>
<rect x="862.21" y="1251.98" width="31.89" height="33.1" fill="#f6f7f7"/>
<rect x="893.49" y="1251.98" width="31.89" height="33.1" fill="#f7f5f4"/>
<rect x="924.78" y="1251.98" width="31.89" height="33.1" fill="#f8f2ef"/>
<rect x="956.07" y="1251.98" width="31.89" height="33.1" fill="#e3edf3"/>
<rect x="987.35" y="1251.98" width="31.89" height="33.1" fill="#f8f4f2"/>
<rect x="1018.64" y="1251.98" width="31.89" height="33.1" fill="#edf2f5"/>
<rect x="1049.93" y="1251.98" width="31.89" height="33.1" fill="#f8f3f0"/>
<rect x="1081.21" y="1251.98" width="31.89" height="33.1" fill="#f7f6f6"/>
<rect x="1112.5" y="1251.98" width="94.46" height="33.1" fill="#facab1"/>
<rect x="1206.36" y="1251.98" width="31.89" height="33.1" fill="#e8896c"/>
<rect x="1237.65" y="1251.98" width="31.89" height="33.1" fill="#67001f"/>
<rect x="1268.93" y="1251.98" width="31.89" height="33.1" fill="#f3a481"/>
<rect x="1300.22" y="1251.98" width="31.89" height="33.1" fill="#f6af8e"/>
<rect x="1331.51" y="1251.98" width="31.89" height="33.1" fill="#f8bfa4"/>
<rect x="1362.79" y="1251.98" width="31.89" height="33.1" fill="#fcdfcf"/>
<rect x="1394.08" y="1251.98" width="31.89" height="33.1" fill="#f7f6f6"/>
<rect x="1425.37" y="1251.98" width="31.89" height="33.1" fill="#f5f6f7"/>
<rect x="1456.65" y="1251.98" width="31.89" height="33.1" fill="#edf2f5"/>
<rect x="1487.94" y="1251.98" width="31.89" height="33.1" fill="#f8f1ed"/>
<rect x="1519.23" y="1251.98" width="31.89" height="33.1" fill="#f8f2ef"/>
<rect x="1550.51" y="1251.98" width="31.89" height="33.1" fill="#f8f4f2"/>
<rect x="173.9" y="1284.48" width="31.89" height="33.1" fill="#f2f5f6"/>
<rect x="205.19" y="1284.48" width="31.89" height="33.1" fill="#f8f2ef"/>
<rect x="236.47" y="1284.48" width="31.89" height="33.1" fill="#f8f1ed"/>
<rect x="267.76" y="1284.48" width="31.89" height="33.1" fill="#f5f6f7"/>
<rect x="299.05" y="1284.48" width="31.89" height="33.1" fill="#f7f6f6"/>
<rect x="330.33" y="1284.48" width="31.89" height="33.1" fill="#f6f7f7"/>
<rect x="361.62" y="1284.48" width="31.89" height="33.1" fill="#f2f5f6"/>
<rect x="392.91" y="1284.48" width="63.17" height="33.1" fill="#f8f1ed"/>
<rect x="455.48" y="1284.48" width="31.89" height="33.1" fill="#faeae1"/>
<rect x="486.77" y="1284.48" width="31.89" height="33.1" fill="#f6f7f7"/>
<rect x="518.05" y="1284.48" width="31.89" height="33.1" fill="#f8f4f2"/>
<rect x="549.34" y="1284.48" width="31.89" height="33.1" fill="#f6f7f7"/>
<rect x="580.63" y="1284.48" width="31.89" height="33.1" fill="#f8f3f0"/>
<rect x="611.91" y="1284.48" width="31.89" height="33.1" fill="#f6f7f7"/>
<rect x="643.2" y="1284.48" width="31.89" height="33.1" fill="#f0f4f6"/>
<rect x="674.49" y="1284.48" width="31.89" height="33.1" fill="#f9eee7"/>
<rect x="705.77" y="1284.48" width="31.89" height="33.1" fill="#f7f5f4"/>
<rect x="737.06" y="1284.48" width="31.89" height="33.1" fill="#f9eee7"/>
<rect x="768.35" y="1284.48" width="31.89" height="33.1" fill="#edf2f5"/>
<rect x="799.63" y="1284.48" width="31.89" height="33.1" fill="#f6f7f7"/>
<rect x="830.92" y="1284.48" width="31.89" height="33.1" fill="#f9f0eb"/>
<rect x="862.21" y="1284.48" width="31.89" height="33.1" fill="#f5f6f7"/>
<rect x="893.49" y="1284.48" width="31.89" height="33.1" fill="#f9efe9"/>
<rect x="924.78" y="1284.48" width="31.89" height="33.1" fill="#f5f6f7"/>
<rect x="956.07" y="1284.48" width="31.89" height="33.1" fill="#f8f3f0"/>
<rect x="987.35" y="1284.48" width="31.89" height="33.1" fill="#f8f4f2"/>
<rect x="1018.64" y="1284.48" width="125.75" height="33.1" fill="#f5f6f7"/>
<rect x="1143.79" y="1284.48" width="31.89" height="33.1" fill="#fbccb4"/>
<rect x="1175.07" y="1284.48" width="31.89" height="33.1" fill="#f7b799"/>
<rect x="1206.36" y="1284.48" width="31.89" height="33.1" fill="#f5aa89"/>
<rect x="1237.65" y="1284.48" width="31.89" height="33.1" fill="#f3a481"/>
<rect x="1268.93" y="1284.48" width="31.89" height="33.1" fill="#67001f"/>
<rect x="1300.22" y="1284.48" width="63.17" height="33.1" fill="#f5ac8b"/>
<rect x="1362.79" y="1284.48" width="31.89" height="33.1" fill="#f9c2a7"/>
<rect x="1394.08" y="1284.48" width="31.89" height="33.1" fill="#fcdfcf"/>
<rect x="1425.37" y="1284.48" width="31.89" height="33.1" fill="#f9eee7"/>
<rect x="1456.65" y="1284.48" width="31.89" height="33.1" fill="#f8f4f2"/>
<rect x="1487.94" y="1284.48" width="31.89" height="33.1" fill="#eff3f5"/>
<rect x="1519.23" y="1284.48" width="31.89" height="33.1" fill="#f7f6f6"/>
<rect x="1550.51" y="1284.48" width="31.89" height="33.1" fill="#f8f4f2"/>
<rect x="173.9" y="1316.98" width="31.89" height="33.1" fill="#eff3f5"/>
<rect x="205.19" y="1316.98" width="31.89" height="33.1" fill="#f8f3f0"/>
<rect x="236.47" y="1316.98" width="31.89" height="33.1" fill="#f6f7f7"/>
<rect x="267.76" y="1316.98" width="31.89" height="33.1" fill="#f7f5f4"/>
<rect x="299.05" y="1316.98" width="31.89" height="33.1" fill="#f2f5f6"/>
<rect x="330.33" y="1316.98" width="31.89" height="33.1" fill="#f5f6f7"/>
<rect x="361.62" y="1316.98" width="31.89" height="33.1" fill="#f8f4f2"/>
<rect x="392.91" y="1316.98" width="31.89" height="33.1" fill="#f9efe9"/>
<rect x="424.19" y="1316.98" width="31.89" height="33.1" fill="#f7f6f6"/>
<rect x="455.48" y="1316.98" width="31.89" height="33.1" fill="#f8f2ef"/>
<rect x="486.77" y="1316.98" width="31.89" height="33.1" fill="#f8f1ed"/>
<rect x="518.05" y="1316.98" width="31.89" height="33.1" fill="#f8f4f2"/>
<rect x="549.34" y="1316.98" width="31.89" height="33.1" fill="#f7f5f4"/>
<rect x="580.63" y="1316.98" width="31.89" height="33.1" fill="#f9f0eb"/>
<rect x="611.91" y="1316.98" width="31.89" height="33.1" fill="#f2f5f6"/>
<rect x="643.2" y="1316.98" width="31.89" height="33.1" fill="#f7f6f6"/>
<rect x="674.49" y="1316.98" width="31.89" height="33.1" fill="#f3f5f6"/>
<rect x="705.77" y="1316.98" width="31.89" height="33.1" fill="#f2f5f6"/>
<rect x="737.06" y="1316.98" width="31.89" height="33.1" fill="#f9efe9"/>
<rect x="768.35" y="1316.98" width="31.89" height="33.1" fill="#f8f2ef"/>
<rect x="799.63" y="1316.98" width="31.89" height="33.1" fill="#f0f4f6"/>
<rect x="830.92" y="1316.98" width="31.89" height="33.1" fill="#f8f3f0"/>
<rect x="862.21" y="1316.98" width="31.89" height="33.1" fill="#f7f5f4"/>
<rect x="893.49" y="1316.98" width="31.89" height="33.1" fill="#f0f4f6"/>
<rect x="924.78" y="1316.98" width="31.89" height="33.1" fill="#f9f0eb"/>
<rect x="956.07" y="1316.98" width="31.89" height="33.1" fill="#f5f6f7"/>
<rect x="987.35" y="1316.98" width="31.89" height="33.1" fill="#f2f5f6"/>
<rect x="1018.64" y="1316.98" width="63.17" height="33.1" fill="#f8f3f0"/>
<rect x="1081.21" y="1316.98" width="31.89" height="33.1" fill="#f8f1ed"/>
<rect x="1112.5" y="1316.98" width="31.89" height="33.1" fill="#f8f3f0"/>
<rect x="1143.79" y="1316.98" width="31.89" height="33.1" fill="#f7f6f6"/>
<rect x="1175.07" y="1316.98" width="31.89" height="33.1" fill="#fcd5bf"/>
<rect x="1206.36" y="1316.98" width="31.89" height="33.1" fill="#f9c6ac"/>
<rect x="1237.65" y="1316.98" width="31.89" height="33.1" fill="#f6af8e"/>
<rect x="1268.93" y="1316.98" width="31.89" height="33.1" fill="#f5ac8b"/>
<rect x="1300.22" y="1316.98" width="31.89" height="33.1" fill="#67001f"/>
<rect x="1331.51" y="1316.98" width="31.89" height="33.1" fill="#e98b6e"/>
<rect x="1362.79" y="1316.98" width="31.89" height="33.1" fill="#f6b394"/>
<rect x="1394.08" y="1316.98" width="31.89" height="33.1" fill="#f7b799"/>
<rect x="1425.37" y="1316.98" width="31.89" height="33.1" fill="#fbd0b9"/>
<rect x="1456.65" y="1316.98" width="31.89" height="33.1" fill="#f7f5f4"/>
<rect x="1487.94" y="1316.98" width="31.89" height="33.1" fill="#e7f0f4"/>
<rect x="1519.23" y="1316.98" width="31.89" height="33.1" fill="#eaf1f5"/>
<rect x="1550.51" y="1316.98" width="31.89" height="33.1" fill="#f7f5f4"/>
<rect x="173.9" y="1349.48" width="31.89" height="33.1" fill="#f7f6f6"/>
<rect x="205.19" y="1349.48" width="31.89" height="33.1" fill="#f8f2ef"/>
<rect x="236.47" y="1349.48" width="31.89" height="33.1" fill="#f8f4f2"/>
<rect x="267.76" y="1349.48" width="31.89" height="33.1" fill="#f7f6f6"/>
<rect x="299.05" y="1349.48" width="31.89" height="33.1" fill="#f8f4f2"/>
<rect x="330.33" y="1349.48" width="31.89" height="33.1" fill="#f2f5f6"/>
<rect x="361.62" y="1349.48" width="31.89" height="33.1" fill="#f9f0eb"/>
<rect x="392.91" y="1349.48" width="31.89" height="33.1" fill="#f7f5f4"/>
<rect x="424.19" y="1349.48" width="31.89" height="33.1" fill="#f7f6f6"/>
<rect x="455.48" y="1349.48" width="31.89" height="33.1" fill="#f8f3f0"/>
<rect x="486.77" y="1349.48" width="31.89" height="33.1" fill="#f7f5f4"/>
<rect x="518.05" y="1349.48" width="31.89" height="33.1" fill="#f8f4f2"/>
<rect x="549.34" y="1349.48" width="31.89" height="33.1" fill="#f9eee7"/>
<rect x="580.63" y="1349.48" width="31.89" height="33.1" fill="#f8f4f2"/>
<rect x="611.91" y="1349.48" width="63.17" height="33.1" fill="#f8f3f0"/>
<rect x="674.49" y="1349.48" width="31.89" height="33.1" fill="#f7f6f6"/>
<rect x="705.77" y="1349.48" width="31.89" height="33.1" fill="#eff3f5"/>
<rect x="737.06" y="1349.48" width="31.89" height="33.1" fill="#f2f5f6"/>
<rect x="768.35" y="1349.48" width="31.89" height="33.1" fill="#f8f2ef"/>
<rect x="799.63" y="1349.48" width="31.89" height="33.1" fill="#f7f6f6"/>
<rect x="830.92" y="1349.48" width="31.89" height="33.1" fill="#f8f2ef"/>
<rect x="862.21" y="1349.48" width="31.89" height="33.1" fill="#f6f7f7"/>
<rect x="893.49" y="1349.48" width="31.89" height="33.1" fill="#f2f5f6"/>
<rect x="924.78" y="1349.48" width="31.89" height="33.1" fill="#f8f3f0"/>
<rect x="956.07" y="1349.48" width="31.89" height="33.1" fill="#f7f5f4"/>
<rect x="987.35" y="1349.48" width="31.89" height="33.1" fill="#f5f6f7"/>
<rect x="1018.64" y="1349.48" width="31.89" height="33.1" fill="#f2f5f6"/>
<rect x="1049.93" y="1349.48" width="31.89" height="33.1" fill="#eff3f5"/>
<rect x="1081.21" y="1349.48" width="31.89" height="33.1" fill="#f7f6f6"/>
<rect x="1112.5" y="1349.48" width="31.89" height="33.1" fill="#f9eee7"/>
<rect x="1143.79" y="1349.48" width="31.89" height="33.1" fill="#ecf2f5"/>
<rect x="1175.07" y="1349.48" width="31.89" height="33.1" fill="#f7f6f6"/>
<rect x="1206.36" y="1349.48" width="31.89" height="33.1" fill="#fbd0b9"/>
<rect x="1237.65" y="1349.48" width="31.89" height="33.1" fill="#f8bfa4"/>
<rect x="1268.93" y="1349.48" width="31.89" height="33.1" fill="#f5ac8b"/>
<rect x="1300.22" y="1349.48" width="31.89" height="33.1" fill="#e98b6e"/>
<rect x="1331.51" y="1349.48" width="31.89" height="33.1" fill="#67001f"/>
<rect x="1362.79" y="1349.48" width="31.89" height="33.1" fill="#eb9172"/>
<rect x="1394.08" y="1349.48" width="31.89" height="33.1" fill="#f6af8e"/>
<rect x="1425.37" y="1349.48" width="31.89" height="33.1" fill="#f9c2a7"/>
<rect x="1456.65" y="1349.48" width="31.89" height="33.1" fill="#fcd5bf"/>
<rect x="1487.94" y="1349.48" width="31.89" height="33.1" fill="#f8f3f0"/>
<rect x="1519.23" y="1349.48" width="31.89" height="33.1" fill="#f7f6f6"/>
<rect x="1550.51" y="1349.48" width="31.89" height="33.1" fill="#ecf2f5"/>
<rect x="173.9" y="1381.98" width="31.89" height="33.1" fill="#f9efe9"/>
<rect x="205.19" y="1381.98" width="31.89" height="33.1" fill="#f0f4f6"/>
<rect x="236.47" y="1381.98" width="31.89" height="33.1" fill="#f8f3f0"/>
<rect x="267.76" y="1381.98" width="31.89" height="33.1" fill="#f8f4f2"/>
<rect x="299.05" y="1381.98" width="31.89" height="33.1" fill="#f7f5f4"/>
<rect x="330.33" y="1381.98" width="31.89" height="33.1" fill="#f3f5f6"/>
<rect x="361.62" y="1381.98" width="31.89" height="33.1" fill="#edf2f5"/>
<rect x="392.91" y="1381.98" width="31.89" height="33.1" fill="#e3edf3"/>
<rect x="424.19" y="1381.98" width="31.89" height="33.1" fill="#fae9df"/>
<rect x="455.48" y="1381.98" width="31.89" height="33.1" fill="#f0f4f6"/>
<rect x="486.77" y="1381.98" width="31.89" height="33.1" fill="#f3f5f6"/>
<rect x="518.05" y="1381.98" width="31.89" height="33.1" fill="#edf2f5"/>
<rect x="549.34" y="1381.98" width="31.89" height="33.1" fill="#f6f7f7"/>
<rect x="580.63" y="1381.98" width="31.89" height="33.1" fill="#f0f4f6"/>
<rect x="611.91" y="1381.98" width="31.89" height="33.1" fill="#f7f6f6"/>
<rect x="643.2" y="1381.98" width="31.89" height="33.1" fill="#f9eee7"/>
<rect x="674.49" y="1381.98" width="63.17" height="33.1" fill="#f7f6f6"/>
<rect x="737.06" y="1381.98" width="31.89" height="33.1" fill="#f8f3f0"/>
<rect x="768.35" y="1381.98" width="31.89" height="33.1" fill="#f9efe9"/>
<rect x="799.63" y="1381.98" width="31.89" height="33.1" fill="#f6f7f7"/>
<rect x="830.92" y="1381.98" width="31.89" height="33.1" fill="#f7f6f6"/>
<rect x="862.21" y="1381.98" width="31.89" height="33.1" fill="#f2f5f6"/>
<rect x="893.49" y="1381.98" width="31.89" height="33.1" fill="#f8f4f2"/>
<rect x="924.78" y="1381.98" width="31.89" height="33.1" fill="#f7f5f4"/>
<rect x="956.07" y="1381.98" width="31.89" height="33.1" fill="#f8f4f2"/>
<rect x="987.35" y="1381.98" width="31.89" height="33.1" fill="#edf2f5"/>
<rect x="1018.64" y="1381.98" width="31.89" height="33.1" fill="#f8f4f2"/>
<rect x="1049.93" y="1381.98" width="31.89" height="33.1" fill="#eff3f5"/>
<rect x="1081.21" y="1381.98" width="31.89" height="33.1" fill="#f9efe9"/>
<rect x="1112.5" y="1381.98" width="63.17" height="33.1" fill="#f5f6f7"/>
<rect x="1175.07" y="1381.98" width="31.89" height="33.1" fill="#f9efe9"/>
<rect x="1206.36" y="1381.98" width="31.89" height="33.1" fill="#f7f6f6"/>
<rect x="1237.65" y="1381.98" width="31.89" height="33.1" fill="#fcdfcf"/>
<rect x="1268.93" y="1381.98" width="31.89" height="33.1" fill="#f9c2a7"/>
<rect x="1300.22" y="1381.98" width="31.89" height="33.1" fill="#f6b394"/>
<rect x="1331.51" y="1381.98" width="31.89" height="33.1" fill="#eb9172"/>
<rect x="1362.79" y="1381.98" width="31.89" height="33.1" fill="#67001f"/>
<rect x="1394.08" y="1381.98" width="31.89" height="33.1" fill="#eb9172"/>
<rect x="1425.37" y="1381.98" width="31.89" height="33.1" fill="#f9c2a7"/>
<rect x="1456.65" y="1381.98" width="31.89" height="33.1" fill="#f9c6ac"/>
<rect x="1487.94" y="1381.98" width="31.89" height="33.1" fill="#fac8af"/>
<rect x="1519.23" y="1381.98" width="31.89" height="33.1" fill="#eff3f5"/>
<rect x="1550.51" y="1381.98" width="31.89" height="33.1" fill="#f8f4f2"/>
<rect x="173.9" y="1414.49" width="31.89" height="33.1" fill="#f2f5f6"/>
<rect x="205.19" y="1414.49" width="31.89" height="33.1" fill="#f7f6f6"/>
<rect x="236.47" y="1414.49" width="31.89" height="33.1" fill="#f6f7f7"/>
<rect x="267.76" y="1414.49" width="31.89" height="33.1" fill="#edf2f5"/>
<rect x="299.05" y="1414.49" width="31.89" height="33.1" fill="#f8f3f0"/>
<rect x="330.33" y="1414.49" width="31.89" height="33.1" fill="#f9ede5"/>
<rect x="361.62" y="1414.49" width="31.89" height="33.1" fill="#f3f5f6"/>
<rect x="392.91" y="1414.49" width="63.17" height="33.1" fill="#f7f5f4"/>
<rect x="455.48" y="1414.49" width="63.17" height="33.1" fill="#f8f4f2"/>
<rect x="518.05" y="1414.49" width="31.89" height="33.1" fill="#f6f7f7"/>
<rect x="549.34" y="1414.49" width="31.89" height="33.1" fill="#f7f5f4"/>
<rect x="580.63" y="1414.49" width="31.89" height="33.1" fill="#f8f4f2"/>
<rect x="611.91" y="1414.49" width="31.89" height="33.1" fill="#f3f5f6"/>
<rect x="643.2" y="1414.49" width="31.89" height="33.1" fill="#f7f5f4"/>
<rect x="674.49" y="1414.49" width="31.89" height="33.1" fill="#f8f2ef"/>
<rect x="705.77" y="1414.49" width="31.89" height="33.1" fill="#f8f4f2"/>
<rect x="737.06" y="1414.49" width="31.89" height="33.1" fill="#f9eee7"/>
<rect x="768.35" y="1414.49" width="31.89" height="33.1" fill="#f7f5f4"/>
<rect x="799.63" y="1414.49" width="31.89" height="33.1" fill="#f3f5f6"/>
<rect x="830.92" y="1414.49" width="31.89" height="33.1" fill="#f7f6f6"/>
<rect x="862.21" y="1414.49" width="31.89" height="33.1" fill="#f8f3f0"/>
<rect x="893.49" y="1414.49" width="31.89" height="33.1" fill="#f5f6f7"/>
<rect x="924.78" y="1414.49" width="31.89" height="33.1" fill="#f9f0eb"/>
<rect x="956.07" y="1414.49" width="31.89" height="33.1" fill="#f8f4f2"/>
<rect x="987.35" y="1414.49" width="31.89" height="33.1" fill="#f8f2ef"/>
<rect x="1018.64" y="1414.49" width="31.89" height="33.1" fill="#f7f5f4"/>
<rect x="1049.93" y="1414.49" width="31.89" height="33.1" fill="#f9ebe3"/>
<rect x="1081.21" y="1414.49" width="31.89" height="33.1" fill="#f7f5f4"/>
<rect x="1112.5" y="1414.49" width="31.89" height="33.1" fill="#edf2f5"/>
<rect x="1143.79" y="1414.49" width="31.89" height="33.1" fill="#f7f5f4"/>
<rect x="1175.07" y="1414.49" width="31.89" height="33.1" fill="#f0f4f6"/>
<rect x="1206.36" y="1414.49" width="31.89" height="33.1" fill="#f9f0eb"/>
<rect x="1237.65" y="1414.49" width="31.89" height="33.1" fill="#f7f6f6"/>
<rect x="1268.93" y="1414.49" width="31.89" height="33.1" fill="#fcdfcf"/>
<rect x="1300.22" y="1414.49" width="31.89" height="33.1" fill="#f7b799"/>
<rect x="1331.51" y="1414.49" width="31.89" height="33.1" fill="#f6af8e"/>
<rect x="1362.79" y="1414.49" width="31.89" height="33.1" fill="#eb9172"/>
<rect x="1394.08" y="1414.49" width="31.89" height="33.1" fill="#67001f"/>
<rect x="1425.37" y="1414.49" width="31.89" height="33.1" fill="#f5a886"/>
<rect x="1456.65" y="1414.49" width="31.89" height="33.1" fill="#f7b799"/>
<rect x="1487.94" y="1414.49" width="31.89" height="33.1" fill="#f8bda1"/>
<rect x="1519.23" y="1414.49" width="31.89" height="33.1" fill="#fac8af"/>
<rect x="1550.51" y="1414.49" width="31.89" height="33.1" fill="#eff3f5"/>
<rect x="173.9" y="1446.99" width="31.89" height="33.1" fill="#f9f0eb"/>
<rect x="205.19" y="1446.99" width="31.89" height="33.1" fill="#f8f2ef"/>
<rect x="236.47" y="1446.99" width="31.89" height="33.1" fill="#eff3f5"/>
<rect x="267.76" y="1446.99" width="63.17" height="33.1" fill="#f7f6f6"/>
<rect x="330.33" y="1446.99" width="63.17" height="33.1" fill="#f6f7f7"/>
<rect x="392.91" y="1446.99" width="31.89" height="33.1" fill="#f7f6f6"/>
<rect x="424.19" y="1446.99" width="31.89" height="33.1" fill="#f6f7f7"/>
<rect x="455.48" y="1446.99" width="31.89" height="33.1" fill="#f3f5f6"/>
<rect x="486.77" y="1446.99" width="63.17" height="33.1" fill="#f7f6f6"/>
<rect x="549.34" y="1446.99" width="31.89" height="33.1" fill="#f8f1ed"/>
<rect x="580.63" y="1446.99" width="31.89" height="33.1" fill="#f7f5f4"/>
<rect x="611.91" y="1446.99" width="31.89" height="33.1" fill="#eff3f5"/>
<rect x="643.2" y="1446.99" width="31.89" height="33.1" fill="#f8f4f2"/>
<rect x="674.49" y="1446.99" width="31.89" height="33.1" fill="#f2f5f6"/>
<rect x="705.77" y="1446.99" width="31.89" height="33.1" fill="#f8f2ef"/>
<rect x="737.06" y="1446.99" width="31.89" height="33.1" fill="#f2f5f6"/>
<rect x="768.35" y="1446.99" width="31.89" height="33.1" fill="#f6f7f7"/>
<rect x="799.63" y="1446.99" width="31.89" height="33.1" fill="#f7f6f6"/>
<rect x="830.92" y="1446.99" width="63.17" height="33.1" fill="#f9efe9"/>
<rect x="893.49" y="1446.99" width="31.89" height="33.1" fill="#f8f1ed"/>
<rect x="924.78" y="1446.99" width="31.89" height="33.1" fill="#f7f5f4"/>
<rect x="956.07" y="1446.99" width="31.89" height="33.1" fill="#f8f4f2"/>
<rect x="987.35" y="1446.99" width="31.89" height="33.1" fill="#ecf2f5"/>
<rect x="1018.64" y="1446.99" width="31.89" height="33.1" fill="#eaf1f5"/>
<rect x="1049.93" y="1446.99" width="63.17" height="33.1" fill="#f2f5f6"/>
<rect x="1112.5" y="1446.99" width="31.89" height="33.1" fill="#f5f6f7"/>
<rect x="1143.79" y="1446.99" width="31.89" height="33.1" fill="#f9eee7"/>
<rect x="1175.07" y="1446.99" width="31.89" height="33.1" fill="#eaf1f5"/>
<rect x="1206.36" y="1446.99" width="63.17" height="33.1" fill="#f5f6f7"/>
<rect x="1268.93" y="1446.99" width="31.89" height="33.1" fill="#f9eee7"/>
<rect x="1300.22" y="1446.99" width="31.89" height="33.1" fill="#fbd0b9"/>
<rect x="1331.51" y="1446.99" width="63.17" height="33.1" fill="#f9c2a7"/>
<rect x="1394.08" y="1446.99" width="31.89" height="33.1" fill="#f5a886"/>
<rect x="1425.37" y="1446.99" width="31.89" height="33.1" fill="#67001f"/>
<rect x="1456.65" y="1446.99" width="31.89" height="33.1" fill="#f5aa89"/>
<rect x="1487.94" y="1446.99" width="31.89" height="33.1" fill="#f8bb9e"/>
<rect x="1519.23" y="1446.99" width="31.89" height="33.1" fill="#f9c2a7"/>
<rect x="1550.51" y="1446.99" width="31.89" height="33.1" fill="#fbd0b9"/>
<rect x="173.9" y="1479.49" width="31.89" height="33.1" fill="#f7f6f6"/>
<rect x="205.19" y="1479.49" width="31.89" height="33.1" fill="#f8f4f2"/>
<rect x="236.47" y="1479.49" width="31.89" height="33.1" fill="#f3f5f6"/>
<rect x="267.76" y="1479.49" width="31.89" height="33.1" fill="#fbe6da"/>
<rect x="299.05" y="1479.49" width="31.89" height="33.1" fill="#f8f2ef"/>
<rect x="330.33" y="1479.49" width="31.89" height="33.1" fill="#f3f5f6"/>
<rect x="361.62" y="1479.49" width="31.89" height="33.1" fill="#f7f6f6"/>
<rect x="392.91" y="1479.49" width="31.89" height="33.1" fill="#f3f5f6"/>
<rect x="424.19" y="1479.49" width="31.89" height="33.1" fill="#f7f6f6"/>
<rect x="455.48" y="1479.49" width="63.17" height="33.1" fill="#f5f6f7"/>
<rect x="518.05" y="1479.49" width="31.89" height="33.1" fill="#f7f5f4"/>
<rect x="549.34" y="1479.49" width="31.89" height="33.1" fill="#f2f5f6"/>
<rect x="580.63" y="1479.49" width="31.89" height="33.1" fill="#f3f5f6"/>
<rect x="611.91" y="1479.49" width="31.89" height="33.1" fill="#f8f2ef"/>
<rect x="643.2" y="1479.49" width="31.89" height="33.1" fill="#f8f4f2"/>
<rect x="674.49" y="1479.49" width="31.89" height="33.1" fill="#f7f6f6"/>
<rect x="705.77" y="1479.49" width="31.89" height="33.1" fill="#f7f5f4"/>
<rect x="737.06" y="1479.49" width="31.89" height="33.1" fill="#f8f2ef"/>
<rect x="768.35" y="1479.49" width="31.89" height="33.1" fill="#f9ede5"/>
<rect x="799.63" y="1479.49" width="31.89" height="33.1" fill="#f8f3f0"/>
<rect x="830.92" y="1479.49" width="31.89" height="33.1" fill="#f8f4f2"/>
<rect x="862.21" y="1479.49" width="31.89" height="33.1" fill="#f9eee7"/>
<rect x="893.49" y="1479.49" width="31.89" height="33.1" fill="#f5f6f7"/>
<rect x="924.78" y="1479.49" width="31.89" height="33.1" fill="#f0f4f6"/>
<rect x="956.07" y="1479.49" width="31.89" height="33.1" fill="#f9eee7"/>
<rect x="987.35" y="1479.49" width="31.89" height="33.1" fill="#f9f0eb"/>
<rect x="1018.64" y="1479.49" width="31.89" height="33.1" fill="#f8f4f2"/>
<rect x="1049.93" y="1479.49" width="31.89" height="33.1" fill="#ecf2f5"/>
<rect x="1081.21" y="1479.49" width="31.89" height="33.1" fill="#f2f5f6"/>
<rect x="1112.5" y="1479.49" width="31.89" height="33.1" fill="#f7f6f6"/>
<rect x="1143.79" y="1479.49" width="31.89" height="33.1" fill="#f9f0eb"/>
<rect x="1175.07" y="1479.49" width="31.89" height="33.1" fill="#edf2f5"/>
<rect x="1206.36" y="1479.49" width="31.89" height="33.1" fill="#f9eee7"/>
<rect x="1237.65" y="1479.49" width="31.89" height="33.1" fill="#edf2f5"/>
<rect x="1268.93" y="1479.49" width="31.89" height="33.1" fill="#f8f4f2"/>
<rect x="1300.22" y="1479.49" width="31.89" height="33.1" fill="#f7f5f4"/>
<rect x="1331.51" y="1479.49" width="31.89" height="33.1" fill="#fcd5bf"/>
<rect x="1362.79" y="1479.49" width="31.89" height="33.1" fill="#f9c6ac"/>
<rect x="1394.08" y="1479.49" width="31.89" height="33.1" fill="#f7b799"/>
<rect x="1425.37" y="1479.49" width="31.89" height="33.1" fill="#f5aa89"/>
<rect x="1456.65" y="1479.49" width="31.89" height="33.1" fill="#67001f"/>
<rect x="1487.94" y="1479.49" width="31.89" height="33.1" fill="#ee9677"/>
<rect x="1519.23" y="1479.49" width="31.89" height="33.1" fill="#f5ac8b"/>
<rect x="1550.51" y="1479.49" width="31.89" height="33.1" fill="#f9c2a7"/>
<rect x="173.9" y="1511.99" width="31.89" height="33.1" fill="#f7f5f4"/>
<rect x="205.19" y="1511.99" width="31.89" height="33.1" fill="#f8f1ed"/>
<rect x="236.47" y="1511.99" width="31.89" height="33.1" fill="#f6f7f7"/>
<rect x="267.76" y="1511.99" width="31.89" height="33.1" fill="#f7f5f4"/>
<rect x="299.05" y="1511.99" width="31.89" height="33.1" fill="#f2f5f6"/>
<rect x="330.33" y="1511.99" width="31.89" height="33.1" fill="#f8f4f2"/>
<rect x="361.62" y="1511.99" width="31.89" height="33.1" fill="#f7f6f6"/>
<rect x="392.91" y="1511.99" width="31.89" height="33.1" fill="#f8f1ed"/>
<rect x="424.19" y="1511.99" width="31.89" height="33.1" fill="#edf2f5"/>
<rect x="455.48" y="1511.99" width="31.89" height="33.1" fill="#f8f3f0"/>
<rect x="486.77" y="1511.99" width="31.89" height="33.1" fill="#f7f5f4"/>
<rect x="518.05" y="1511.99" width="31.89" height="33.1" fill="#f8f4f2"/>
<rect x="549.34" y="1511.99" width="31.89" height="33.1" fill="#f9f0eb"/>
<rect x="580.63" y="1511.99" width="31.89" height="33.1" fill="#f8f3f0"/>
<rect x="611.91" y="1511.99" width="31.89" height="33.1" fill="#f6f7f7"/>
<rect x="643.2" y="1511.99" width="31.89" height="33.1" fill="#eaf1f5"/>
<rect x="674.49" y="1511.99" width="31.89" height="33.1" fill="#f7f6f6"/>
<rect x="705.77" y="1511.99" width="31.89" height="33.1" fill="#f3f5f6"/>
<rect x="737.06" y="1511.99" width="31.89" height="33.1" fill="#f7f6f6"/>
<rect x="768.35" y="1511.99" width="31.89" height="33.1" fill="#f0f4f6"/>
<rect x="799.63" y="1511.99" width="31.89" height="33.1" fill="#f5f6f7"/>
<rect x="830.92" y="1511.99" width="31.89" height="33.1" fill="#f9f0eb"/>
<rect x="862.21" y="1511.99" width="31.89" height="33.1" fill="#f7f6f6"/>
<rect x="893.49" y="1511.99" width="31.89" height="33.1" fill="#f8f4f2"/>
<rect x="924.78" y="1511.99" width="31.89" height="33.1" fill="#f9eee7"/>
<rect x="956.07" y="1511.99" width="31.89" height="33.1" fill="#f5f6f7"/>
<rect x="987.35" y="1511.99" width="94.46" height="33.1" fill="#f8f4f2"/>
<rect x="1081.21" y="1511.99" width="31.89" height="33.1" fill="#f3f5f6"/>
<rect x="1112.5" y="1511.99" width="31.89" height="33.1" fill="#f7f6f6"/>
<rect x="1143.79" y="1511.99" width="31.89" height="33.1" fill="#f8f1ed"/>
<rect x="1175.07" y="1511.99" width="31.89" height="33.1" fill="#eaf1f5"/>
<rect x="1206.36" y="1511.99" width="31.89" height="33.1" fill="#f8f2ef"/>
<rect x="1237.65" y="1511.99" width="31.89" height="33.1" fill="#f8f1ed"/>
<rect x="1268.93" y="1511.99" width="31.89" height="33.1" fill="#eff3f5"/>
<rect x="1300.22" y="1511.99" width="31.89" height="33.1" fill="#e7f0f4"/>
<rect x="1331.51" y="1511.99" width="31.89" height="33.1" fill="#f8f3f0"/>
<rect x="1362.79" y="1511.99" width="31.89" height="33.1" fill="#fac8af"/>
<rect x="1394.08" y="1511.99" width="31.89" height="33.1" fill="#f8bda1"/>
<rect x="1425.37" y="1511.99" width="31.89" height="33.1" fill="#f8bb9e"/>
<rect x="1456.65" y="1511.99" width="31.89" height="33.1" fill="#ee9677"/>
<rect x="1487.94" y="1511.99" width="31.89" height="33.1" fill="#67001f"/>
<rect x="1519.23" y="1511.99" width="63.17" height="33.1" fill="#ee9677"/>
<rect x="173.9" y="1544.5" width="31.89" height="33.1" fill="#f0f4f6"/>
<rect x="205.19" y="1544.5" width="31.89" height="33.1" fill="#f9efe9"/>
<rect x="236.47" y="1544.5" width="31.89" height="33.1" fill="#f8f3f0"/>
<rect x="267.76" y="1544.5" width="31.89" height="33.1" fill="#ecf2f5"/>
<rect x="299.05" y="1544.5" width="31.89" height="33.1" fill="#f2f5f6"/>
<rect x="330.33" y="1544.5" width="31.89" height="33.1" fill="#f9efe9"/>
<rect x="361.62" y="1544.5" width="31.89" height="33.1" fill="#f6f7f7"/>
<rect x="392.91" y="1544.5" width="31.89" height="33.1" fill="#f3f5f6"/>
<rect x="424.19" y="1544.5" width="31.89" height="33.1" fill="#f8f3f0"/>
<rect x="455.48" y="1544.5" width="31.89" height="33.1" fill="#f7f5f4"/>
<rect x="486.77" y="1544.5" width="31.89" height="33.1" fill="#f5f6f7"/>
<rect x="518.05" y="1544.5" width="31.89" height="33.1" fill="#f7f6f6"/>
<rect x="549.34" y="1544.5" width="31.89" height="33.1" fill="#f9f0eb"/>
<rect x="580.63" y="1544.5" width="31.89" height="33.1" fill="#f0f4f6"/>
<rect x="611.91" y="1544.5" width="31.89" height="33.1" fill="#f8f1ed"/>
<rect x="643.2" y="1544.5" width="31.89" height="33.1" fill="#f6f7f7"/>
<rect x="674.49" y="1544.5" width="63.17" height="33.1" fill="#f7f6f6"/>
<rect x="737.06" y="1544.5" width="63.17" height="33.1" fill="#f5f6f7"/>
<rect x="799.63" y="1544.5" width="31.89" height="33.1" fill="#f8f1ed"/>
<rect x="830.92" y="1544.5" width="31.89" height="33.1" fill="#f8f4f2"/>
<rect x="862.21" y="1544.5" width="31.89" height="33.1" fill="#f7f6f6"/>
<rect x="893.49" y="1544.5" width="31.89" height="33.1" fill="#edf2f5"/>
<rect x="924.78" y="1544.5" width="31.89" height="33.1" fill="#f3f5f6"/>
<rect x="956.07" y="1544.5" width="31.89" height="33.1" fill="#f8f4f2"/>
<rect x="987.35" y="1544.5" width="31.89" height="33.1" fill="#f9efe9"/>
<rect x="1018.64" y="1544.5" width="31.89" height="33.1" fill="#f6f7f7"/>
<rect x="1049.93" y="1544.5" width="31.89" height="33.1" fill="#f8f1ed"/>
<rect x="1081.21" y="1544.5" width="31.89" height="33.1" fill="#f8f4f2"/>
<rect x="1112.5" y="1544.5" width="31.89" height="33.1" fill="#f9efe9"/>
<rect x="1143.79" y="1544.5" width="31.89" height="33.1" fill="#eff3f5"/>
<rect x="1175.07" y="1544.5" width="31.89" height="33.1" fill="#ecf2f5"/>
<rect x="1206.36" y="1544.5" width="31.89" height="33.1" fill="#f8f4f2"/>
<rect x="1237.65" y="1544.5" width="31.89" height="33.1" fill="#f8f2ef"/>
<rect x="1268.93" y="1544.5" width="31.89" height="33.1" fill="#f7f6f6"/>
<rect x="1300.22" y="1544.5" width="31.89" height="33.1" fill="#eaf1f5"/>
<rect x="1331.51" y="1544.5" width="31.89" height="33.1" fill="#f7f6f6"/>
<rect x="1362.79" y="1544.5" width="31.89" height="33.1" fill="#eff3f5"/>
<rect x="1394.08" y="1544.5" width="31.89" height="33.1" fill="#fac8af"/>
<rect x="1425.37" y="1544.5" width="31.89" height="33.1" fill="#f9c2a7"/>
<rect x="1456.65" y="1544.5" width="31.89" height="33.1" fill="#f5ac8b"/>
<rect x="1487.94" y="1544.5" width="31.89" height="33.1" fill="#ee9677"/>
<rect x="1519.23" y="1544.5" width="31.89" height="33.1" fill="#67001f"/>
<rect x="1550.51" y="1544.5" width="31.89" height="33.1" fill="#f3a481"/>
<rect x="173.9" y="1577" width="31.89" height="33.1" fill="#ecf2f5"/>
<rect x="205.19" y="1577" width="31.89" height="33.1" fill="#f7f6f6"/>
<rect x="236.47" y="1577" width="31.89" height="33.1" fill="#ecf2f5"/>
<rect x="267.76" y="1577" width="31.89" height="33.1" fill="#f8f4f2"/>
<rect x="299.05" y="1577" width="31.89" height="33.1" fill="#f5f6f7"/>
<rect x="330.33" y="1577" width="31.89" height="33.1" fill="#f8f1ed"/>
<rect x="361.62" y="1577" width="31.89" height="33.1" fill="#f3f5f6"/>
<rect x="392.91" y="1577" width="31.89" height="33.1" fill="#f7f5f4"/>
<rect x="424.19" y="1577" width="31.89" height="33.1" fill="#f8f2ef"/>
<rect x="455.48" y="1577" width="31.89" height="33.1" fill="#e4eef4"/>
<rect x="486.77" y="1577" width="63.17" height="33.1" fill="#f0f4f6"/>
<rect x="549.34" y="1577" width="31.89" height="33.1" fill="#f7f5f4"/>
<rect x="580.63" y="1577" width="31.89" height="33.1" fill="#f8f1ed"/>
<rect x="611.91" y="1577" width="31.89" height="33.1" fill="#f6f7f7"/>
<rect x="643.2" y="1577" width="31.89" height="33.1" fill="#f9ebe3"/>
<rect x="674.49" y="1577" width="31.89" height="33.1" fill="#f8f2ef"/>
<rect x="705.77" y="1577" width="31.89" height="33.1" fill="#f8f4f2"/>
<rect x="737.06" y="1577" width="31.89" height="33.1" fill="#f7f5f4"/>
<rect x="768.35" y="1577" width="31.89" height="33.1" fill="#f9eee7"/>
<rect x="799.63" y="1577" width="31.89" height="33.1" fill="#f8f2ef"/>
<rect x="830.92" y="1577" width="31.89" height="33.1" fill="#f3f5f6"/>
<rect x="862.21" y="1577" width="31.89" height="33.1" fill="#f8f1ed"/>
<rect x="893.49" y="1577" width="31.89" height="33.1" fill="#f6f7f7"/>
<rect x="924.78" y="1577" width="31.89" height="33.1" fill="#f3f5f6"/>
<rect x="956.07" y="1577" width="31.89" height="33.1" fill="#f6f7f7"/>
<rect x="987.35" y="1577" width="31.89" height="33.1" fill="#f9eee7"/>
<rect x="1018.64" y="1577" width="31.89" height="33.1" fill="#f8f1ed"/>
<rect x="1049.93" y="1577" width="31.89" height="33.1" fill="#f5f6f7"/>
<rect x="1081.21" y="1577" width="31.89" height="33.1" fill="#f6f7f7"/>
<rect x="1112.5" y="1577" width="31.89" height="33.1" fill="#edf2f5"/>
<rect x="1143.79" y="1577" width="31.89" height="33.1" fill="#f3f5f6"/>
<rect x="1175.07" y="1577" width="31.89" height="33.1" fill="#f5f6f7"/>
<rect x="1206.36" y="1577" width="31.89" height="33.1" fill="#edf2f5"/>
<rect x="1237.65" y="1577" width="63.17" height="33.1" fill="#f8f4f2"/>
<rect x="1300.22" y="1577" width="31.89" height="33.1" fill="#f7f5f4"/>
<rect x="1331.51" y="1577" width="31.89" height="33.1" fill="#ecf2f5"/>
<rect x="1362.79" y="1577" width="31.89" height="33.1" fill="#f8f4f2"/>
<rect x="1394.08" y="1577" width="31.89" height="33.1" fill="#eff3f5"/>
<rect x="1425.37" y="1577" width="31.89" height="33.1" fill="#fbd0b9"/>
<rect x="1456.65" y="1577" width="31.89" height="33.1" fill="#f9c2a7"/>
<rect x="1487.94" y="1577" width="31.89" height="33.1" fill="#ee9677"/>
<rect x="1519.23" y="1577" width="31.89" height="33.1" fill="#f3a481"/>
<rect x="1550.51" y="1577" width="31.89" height="33.1" fill="#67001f"/>
</g>
<path d="M455.2 148.7 V1610 M174.7 440 H1581.5" stroke="#000" stroke-width="8.33" fill="none"/>
<rect x="174.7" y="148.7" width="1406.8" height="1461.3" fill="none" stroke="#000" stroke-width="3.33"/>
<path d="M190.33 1610 v14.58 M174.7 164.94 h-14.58 M346.64 1610 v14.58 M174.7 327.3 h-14.58 M502.95 1610 v14.58 M174.7 489.67 h-14.58 M659.26 1610 v14.58 M174.7 652.04 h-14.58 M815.58 1610 v14.58 M174.7 814.4 h-14.58 M971.89 1610 v14.58 M174.7 976.77 h-14.58 M1128.2 1610 v14.58 M174.7 1139.14 h-14.58 M1284.51 1610 v14.58 M174.7 1301.5 h-14.58 M1440.82 1610 v14.58 M174.7 1463.87 h-14.58" stroke="#000" stroke-width="3.33" fill="none"/>
<g font-size="41.67" fill="#000">
<g text-anchor="middle">
<text x="190.33" y="1672">0</text>
<text x="346.64" y="1672">5</text>
<text x="502.95" y="1672">10</text>
<text x="659.26" y="1672">15</text>
<text x="815.58" y="1672">20</text>
<text x="971.89" y="1672">25</text>
<text x="1128.2" y="1672">30</text>
<text x="1284.51" y="1672">35</text>
<text x="1440.82" y="1672">40</text>
</g><g text-anchor="end">
<text x="145.53" y="180.14">0</text>
<text x="145.53" y="342.5">5</text>
<text x="145.53" y="504.87">10</text>
<text x="145.53" y="667.24">15</text>
<text x="145.53" y="829.6">20</text>
<text x="145.53" y="991.97">25</text>
<text x="145.53" y="1154.34">30</text>
<text x="145.53" y="1316.7">35</text>
<text x="145.53" y="1479.07">40</text>
</g></g>
<g font-weight="bold" fill="#000" text-anchor="middle">
<text x="878.1" y="1734" font-size="45.83">Feature Index</text>
<text transform="translate(65 879.35) rotate(-90)" font-size="45.83">Feature Index</text>
<text x="315.38" y="58.2" font-size="37.5">Single-qubit</text>
<text x="315.38" y="99.5" font-size="37.5">(Z_i)</text>
<text x="1003.15" y="99.5" font-size="37.5">Two-qubit correlations (Z_i Z_j)</text>
<text x="878.1" y="122.7" font-size="50">A. Base Feature Correlations (45 features)</text>
</g>
<defs><linearGradient id="cb" x1="0" y1="0" x2="0" y2="1">
<stop offset="0" stop-color="#67001f"/>
<stop offset="0.02" stop-color="#700320"/>
<stop offset="0.03" stop-color="#7c0722"/>
<stop offset="0.05" stop-color="#870a24"/>
<stop offset="0.06" stop-color="#930e26"/>
<stop offset="0.08" stop-color="#9f1228"/>
<stop offset="0.09" stop-color="#ab162a"/>
<stop offset="0.11" stop-color="#b41c2d"/>
<stop offset="0.12" stop-color="#ba2832"/>
<stop offset="0.14" stop-color="#bf3338"/>
<stop offset="0.16" stop-color="#c53e3d"/>
<stop offset="0.17" stop-color="#cb4942"/>
<stop offset="0.19" stop-color="#d05548"/>
<stop offset="0.2" stop-color="#d6604d"/>
<stop offset="0.22" stop-color="#db6b55"/>
<stop offset="0.23" stop-color="#df765e"/>
<stop offset="0.25" stop-color="#e48066"/>
<stop offset="0.27" stop-color="#e98b6e"/>
<stop offset="0.28" stop-color="#ee9677"/>
<stop offset="0.3" stop-color="#f2a17f"/>
<stop offset="0.31" stop-color="#f5aa89"/>
<stop offset="0.33" stop-color="#f6b394"/>
<stop offset="0.34" stop-color="#f8bb9e"/>
<stop offset="0.36" stop-color="#f9c4a9"/>
<stop offset="0.38" stop-color="#fbccb4"/>
<stop offset="0.39" stop-color="#fcd5bf"/>
<stop offset="0.41" stop-color="#fddcc9"/>
<stop offset="0.42" stop-color="#fce0d0"/>
<stop offset="0.44" stop-color="#fbe5d8"/>
<stop offset="0.45" stop-color="#fae9df"/>
<stop offset="0.47" stop-color="#f9eee7"/>
<stop offset="0.48" stop-color="#f8f2ef"/>
<stop offset="0.5" stop-color="#f7f6f6"/>
<stop offset="0.52" stop-color="#f2f5f6"/>
<stop offset="0.53" stop-color="#ecf2f5"/>
<stop offset="0.55" stop-color="#e6eff4"/>
<stop offset="0.56" stop-color="#e0ecf3"/>
<stop offset="0.58" stop-color="#dae9f2"/>
<stop offset="0.59" stop-color="#d4e6f1"/>
<stop offset="0.61" stop-color="#cce2ef"/>
<stop offset="0.62" stop-color="#c2ddec"/>
<stop offset="0.64" stop-color="#b8d8e9"/>
<stop offset="0.66" stop-color="#aed3e6"/>
<stop offset="0.67" stop-color="#a5cee3"/>
<stop offset="0.69" stop-color="#9bc9e0"/>
<stop offset="0.7" stop-color="#90c4dd"/>
<stop offset="0.72" stop-color="#84bcd9"/>
<stop offset="0.73" stop-color="#78b4d5"/>
<stop offset="0.75" stop-color="#6bacd1"/>
<stop offset="0.77" stop-color="#5fa5cd"/>
<stop offset="0.78" stop-color="#529dc8"/>
<stop offset="0.8" stop-color="#4695c4"/>
<stop offset="0.81" stop-color="#3f8ec0"/>
<stop offset="0.83" stop-color="#3a87bd"/>
<stop offset="0.84" stop-color="#3480b9"/>
<stop offset="0.86" stop-color="#2f79b5"/>
<stop offset="0.88" stop-color="#2a71b2"/>
<stop offset="0.89" stop-color="#246aae"/>
<stop offset="0.91" stop-color="#1f63a8"/>
<stop offset="0.92" stop-color="#1b5a9c"/>
<stop offset="0.94" stop-color="#175290"/>
<stop offset="0.95" stop-color="#124984"/>
<stop offset="0.97" stop-color="#0e4179"/>
<stop offset="0.98" stop-color="#09386d"/>
<stop offset="1" stop-color="#053061"/>
</linearGradient></defs>
<rect x="1669.9" y="148.8" width="72.8" height="1461.4" fill="url(#cb)" stroke="#000" stroke-width="3.33"/>
<path d="M1742.7 148.8 h14.58 M1742.7 331.48 h14.58 M1742.7 514.15 h14.58 M1742.7 696.83 h14.58 M1742.7 879.5 h14.58 M1742.7 1062.17 h14.58 M1742.7 1244.85 h14.58 M1742.7 1427.53 h14.58 M1742.7 1610.2 h14.58" stroke="#000" stroke-width="3.33" fill="none"/>
<g font-size="41.67" fill="#000"><text x="1771.87" y="165">1.00</text><text x="1771.87" y="347.68">0.75</text><text x="1771.87" y="530.35">0.50</text><text x="1771.87" y="713.03">0.25</text><text x="1771.87" y="895.7">0.00</text><text x="1771.87" y="1078.38">−0.25</text><text x="1771.87" y="1261.05">−0.50</text><text x="1771.87" y="1443.73">−0.75</text><text x="1771.87" y="1626.4">−1.00</text>
<text transform="translate(1948.3 879.5) rotate(-90)" text-anchor="middle">Correlation Coefficient</text></g>
<path d="M2270.6 148.6 V1610.4 M2634.1 148.6 V1610.4 M2997.6 148.6 V1610.4 M3361.1 148.6 V1610.4 M3724.6 148.6 V1610.4 M2227.4 214.1 H3986.5 M2227.4 847.4 H3986.5 M2227.4 1480.7 H3986.5" stroke="#b0b0b0" stroke-opacity="0.3" stroke-width="3.33" fill="none"/>
<path d="M2227.4 214.1 H3986.5" stroke="#800080" stroke-opacity="0.5" stroke-width="8.33" stroke-dasharray="8.33 13.75" fill="none"/>
<path d="M3614.95 1610.4 V148.6" stroke="#008000" stroke-width="8.33" stroke-dasharray="30.83 13.33" fill="none"/>
<polyline points="2306.95,500.2 2343.3,517.1 2379.65,541.3 2416,576 2452.35,606.2 2488.7,658.7 2525.05,700.2 2561.4,723.5 2597.75,745.9 2634.1,764.2 2670.45,777.4 2706.8,834 2743.15,839.5 2779.5,852.9 2815.85,855 2852.2,862.8 2888.55,869.6 2924.9,875.6 2961.25,885.6 2997.6,890.6 3033.95,903.9 3070.3,914.8 3106.65,921.2 3143,935.8 3179.35,936.8 3215.7,947.3 3252.05,961 3288.4,977.9 3324.75,995 3361.1,1005.2 3397.45,1019.4 3433.8,1026 3470.15,1042.6 3506.5,1048.5 3542.85,1068.7 3579.2,1087.1 3615.55,1120.9 3651.9,1125.7 3688.25,1153 3724.6,1185 3760.95,1211.2 3797.3,1233.7 3833.65,1309.7 3870,1344.1 3906.35,1544" fill="none" stroke="#4682b4" stroke-width="8.33" stroke-linejoin="round"/>
<g fill="#4682b4">
<circle cx="2306.95" cy="500.2" r="14.58"/>
<circle cx="2343.3" cy="517.1" r="14.58"/>
<circle cx="2379.65" cy="541.3" r="14.58"/>
<circle cx="2416" cy="576" r="14.58"/>
<circle cx="2452.35" cy="606.2" r="14.58"/>
<circle cx="2488.7" cy="658.7" r="14.58"/>
<circle cx="2525.05" cy="700.2" r="14.58"/>
<circle cx="2561.4" cy="723.5" r="14.58"/>
<circle cx="2597.75" cy="745.9" r="14.58"/>
<circle cx="2634.1" cy="764.2" r="14.58"/>
<circle cx="2670.45" cy="777.4" r="14.58"/>
<circle cx="2706.8" cy="834" r="14.58"/>
<circle cx="2743.15" cy="839.5" r="14.58"/>
<circle cx="2779.5" cy="852.9" r="14.58"/>
<circle cx="2815.85" cy="855" r="14.58"/>
<circle cx="2852.2" cy="862.8" r="14.58"/>
<circle cx="2888.55" cy="869.6" r="14.58"/>
<circle cx="2924.9" cy="875.6" r="14.58"/>
<circle cx="2961.25" cy="885.6" r="14.58"/>
<circle cx="2997.6" cy="890.6" r="14.58"/>
<circle cx="3033.95" cy="903.9" r="14.58"/>
<circle cx="3070.3" cy="914.8" r="14.58"/>
<circle cx="3106.65" cy="921.2" r="14.58"/>
<circle cx="3143" cy="935.8" r="14.58"/>
<circle cx="3179.35" cy="936.8" r="14.58"/>
<circle cx="3215.7" cy="947.3" r="14.58"/>
<circle cx="3252.05" cy="961" r="14.58"/>
<circle cx="3288.4" cy="977.9" r="14.58"/>
<circle cx="3324.75" cy="995" r="14.58"/>
<circle cx="3361.1" cy="1005.2" r="14.58"/>
<circle cx="3397.45" cy="1019.4" r="14.58"/>
<circle cx="3433.8" cy="1026" r="14.58"/>
<circle cx="3470.15" cy="1042.6" r="14.58"/>
<circle cx="3506.5" cy="1048.5" r="14.58"/>
<circle cx="3542.85" cy="1068.7" r="14.58"/>
<circle cx="3579.2" cy="1087.1" r="14.58"/>
<circle cx="3615.55" cy="1120.9" r="14.58"/>
<circle cx="3651.9" cy="1125.7" r="14.58"/>
<circle cx="3688.25" cy="1153" r="14.58"/>
<circle cx="3724.6" cy="1185" r="14.58"/>
<circle cx="3760.95" cy="1211.2" r="14.58"/>
<circle cx="3797.3" cy="1233.7" r="14.58"/>
<circle cx="3833.65" cy="1309.7" r="14.58"/>
<circle cx="3870" cy="1344.1" r="14.58"/>
<circle cx="3906.35" cy="1544" r="14.58"/>
</g>
<rect x="2227.4" y="148.6" width="1759.1" height="1461.8" fill="none" stroke="#000" stroke-width="3.33"/>
<path d="M2270.6 1610.4 v14.58 M2634.1 1610.4 v14.58 M2997.6 1610.4 v14.58 M3361.1 1610.4 v14.58 M3724.6 1610.4 v14.58 M2227.4 214.1 h-14.58 M2227.4 847.4 h-14.58 M2227.4 1480.7 h-14.58" stroke="#000" stroke-width="3.33" fill="none"/>
<path d="M2227.4 1578.8 h-8.33 M2227.4 1542.07 h-8.33 M2227.4 1509.68 h-8.33 M2227.4 1290.06 h-8.33 M2227.4 1178.54 h-8.33 M2227.4 1099.42 h-8.33 M2227.4 1038.04 h-8.33 M2227.4 987.9 h-8.33 M2227.4 945.5 h-8.33 M2227.4 908.77 h-8.33 M2227.4 876.38 h-8.33 M2227.4 656.76 h-8.33 M2227.4 545.24 h-8.33 M2227.4 466.12 h-8.33 M2227.4 404.74 h-8.33 M2227.4 354.6 h-8.33 M2227.4 312.2 h-8.33 M2227.4 275.47 h-8.33 M2227.4 243.08 h-8.33" stroke="#000" stroke-width="2.5" fill="none"/>
<g font-size="37.5" fill="#800080">
<text x="3542.85" y="122.6">n=10</text><text x="3542.85" y="164.6">d_eff=4</text></g>
<g font-size="41.67" fill="#008000" font-weight="bold">
<text x="3651.9" y="1070.6">95% at</text><text x="3651.9" y="1119.2">n=37</text></g>
<g font-size="41.67" fill="#000">
<g text-anchor="middle">
<text x="2270.6" y="1671.7">0</text>
<text x="2634.1" y="1671.7">10</text>
<text x="2997.6" y="1671.7">20</text>
<text x="3361.1" y="1671.7">30</text>
<text x="3724.6" y="1671.7">40</text>
</g>
<text x="2198.23" y="231.1" text-anchor="end">10<tspan font-size="29.17" dy="-15.7">1</tspan></text>
<text x="2198.23" y="864.4" text-anchor="end">10<tspan font-size="29.17" dy="-15.7">0</tspan></text>
<text x="2198.23" y="1497.7" text-anchor="end">10<tspan font-size="29.17" dy="-15.7">−1</tspan></text>
</g>
<g font-weight="bold" text-anchor="middle">
<text x="3106.95" y="1734" font-size="45.83">Feature Rank</text>
<text transform="translate(2078.5 885.2) rotate(-90)" font-size="45.83">Eigenvalue</text>
<text x="3106.95" y="122.7" font-size="50" letter-spacing="0.11">B. Effective Dimensionality Analysis</text>
</g>
<rect x="3495.7" y="166.8" width="470.7" height="67.4" rx="7.5" fill="#fff" fill-opacity="0.8" stroke="#ccc" stroke-opacity="0.8" stroke-width="4.17"/>
<path d="M3510.7 197.4 H3585.7" stroke="#4682b4" stroke-width="8.33" stroke-linecap="square"/>
<circle cx="3548.2" cy="197.4" r="14.58" fill="#4682b4"/>
<text x="3615.7" y="209.8" font-size="37.5" fill="#000">Eigenvalues (σ_i²)</text>
<polyline points="2306.95,1544.58 2343.3,1437.91 2379.65,1340.24 2416,1254.15 2452.35,1177.01 2488.7,1113.29 2525.05,1058.49 2561.4,1008.15 2597.75,961.74 2634.1,918.33 2670.45,876.95 2706.8,843.27 2743.15,810.25 2779.5,778.81 2815.85,747.61 2852.2,717.28 2888.55,687.69 2924.9,658.74 2961.25,630.82 2997.6,603.41 3033.95,577.29 3070.3,552.18 3106.65,527.66 3143,504.4 3179.35,481.23 3215.7,458.92 3252.05,437.7 3288.4,417.75 3324.75,399 3361.1,380.93 3397.45,363.77 3433.8,347.02 3470.15,331.25 3506.5,315.81 3542.85,301.47 3579.2,288.06 3615.55,276.2 3651.9,264.54 3688.25,253.99 3724.6,244.59 3760.95,236.05 3797.3,228.18 3833.65,222.21 3870,216.95 3906.35,214.4" fill="none" stroke="#f00" stroke-opacity="0.7" stroke-width="8.33" stroke-linejoin="round"/>
<g fill="#f00" fill-opacity="0.7" stroke="#f00" stroke-opacity="0.7" stroke-width="4.17">
<rect x="2297.03" y="1534.66" width="19.83" height="19.83"/>
<rect x="2333.38" y="1428" width="19.83" height="19.83"/>
<rect x="2369.73" y="1330.32" width="19.83" height="19.83"/>
<rect x="2406.08" y="1244.23" width="19.83" height="19.83"/>
<rect x="2442.43" y="1167.1" width="19.83" height="19.83"/>
<rect x="2478.78" y="1103.37" width="19.83" height="19.83"/>
<rect x="2515.13" y="1048.57" width="19.83" height="19.83"/>
<rect x="2551.48" y="998.23" width="19.83" height="19.83"/>
<rect x="2587.83" y="951.83" width="19.83" height="19.83"/>
<rect x="2624.18" y="908.41" width="19.83" height="19.83"/>
<rect x="2660.53" y="867.03" width="19.83" height="19.83"/>
<rect x="2696.88" y="833.35" width="19.83" height="19.83"/>
<rect x="2733.23" y="800.34" width="19.83" height="19.83"/>
<rect x="2769.58" y="768.89" width="19.83" height="19.83"/>
<rect x="2805.93" y="737.69" width="19.83" height="19.83"/>
<rect x="2842.28" y="707.36" width="19.83" height="19.83"/>
<rect x="2878.63" y="677.77" width="19.83" height="19.83"/>
<rect x="2914.98" y="648.82" width="19.83" height="19.83"/>
<rect x="2951.33" y="620.9" width="19.83" height="19.83"/>
<rect x="2987.68" y="593.49" width="19.83" height="19.83"/>
<rect x="3024.03" y="567.37" width="19.83" height="19.83"/>
<rect x="3060.38" y="542.27" width="19.83" height="19.83"/>
<rect x="3096.73" y="517.74" width="19.83" height="19.83"/>
<rect x="3133.08" y="494.48" width="19.83" height="19.83"/>
<rect x="3169.43" y="471.31" width="19.83" height="19.83"/>
<rect x="3205.78" y="449.01" width="19.83" height="19.83"/>
<rect x="3242.13" y="427.79" width="19.83" height="19.83"/>
<rect x="3278.48" y="407.83" width="19.83" height="19.83"/>
<rect x="3314.83" y="389.08" width="19.83" height="19.83"/>
<rect x="3351.18" y="371.01" width="19.83" height="19.83"/>
<rect x="3387.53" y="353.85" width="19.83" height="19.83"/>
<rect x="3423.88" y="337.1" width="19.83" height="19.83"/>
<rect x="3460.23" y="321.33" width="19.83" height="19.83"/>
<rect x="3496.58" y="305.9" width="19.83" height="19.83"/>
<rect x="3532.93" y="291.55" width="19.83" height="19.83"/>
<rect x="3569.28" y="278.14" width="19.83" height="19.83"/>
<rect x="3605.63" y="266.28" width="19.83" height="19.83"/>
<rect x="3641.98" y="254.62" width="19.83" height="19.83"/>
<rect x="3678.33" y="244.07" width="19.83" height="19.83"/>
<rect x="3714.68" y="234.67" width="19.83" height="19.83"/>
<rect x="3751.03" y="226.13" width="19.83" height="19.83"/>
<rect x="3787.38" y="218.26" width="19.83" height="19.83"/>
<rect x="3823.73" y="212.3" width="19.83" height="19.83"/>
<rect x="3860.08" y="207.03" width="19.83" height="19.83"/>
<rect x="3896.43" y="204.48" width="19.83" height="19.83"/>
</g>
<rect x="2227.4" y="148.6" width="1759.1" height="1461.8" fill="none" stroke="#000" stroke-width="3.33"/>
<path d="M3986.5 1369.28 h14.58 M3986.5 1080.56 h14.58 M3986.5 791.84 h14.58 M3986.5 503.12 h14.58 M3986.5 214.4 h14.58" stroke="#000" stroke-width="3.33" fill="none"/>
<g font-size="41.67" fill="#000"><text x="4015.67" y="1385.18">0.2</text><text x="4015.67" y="1096.46">0.4</text><text x="4015.67" y="807.74">0.6</text><text x="4015.67" y="519.02">0.8</text><text x="4015.67" y="230.3">1.0</text></g>
<text transform="translate(4132 878.8) rotate(-90)" font-size="45.83" font-weight="bold" fill="#f00" text-anchor="middle" letter-spacing="0.05">Cumulative Variance Explained</text>
<rect x="3444.2" y="845.9" width="522.7" height="66" rx="7.5" fill="#fff" fill-opacity="0.8" stroke="#ccc" stroke-opacity="0.8" stroke-width="4.17"/>
<path d="M3459.2 876.1 H3534.2" stroke="#f00" stroke-opacity="0.7" stroke-width="8.33" stroke-linecap="square"/>
<rect x="3486.78" y="866.18" width="19.83" height="19.83" fill="#f00" fill-opacity="0.7" stroke="#f00" stroke-opacity="0.7" stroke-width="4.17"/>
<text x="3564.2" y="890.2" font-size="37.5" fill="#000">Cumulative Variance</text>
</svg>
</body></html>
